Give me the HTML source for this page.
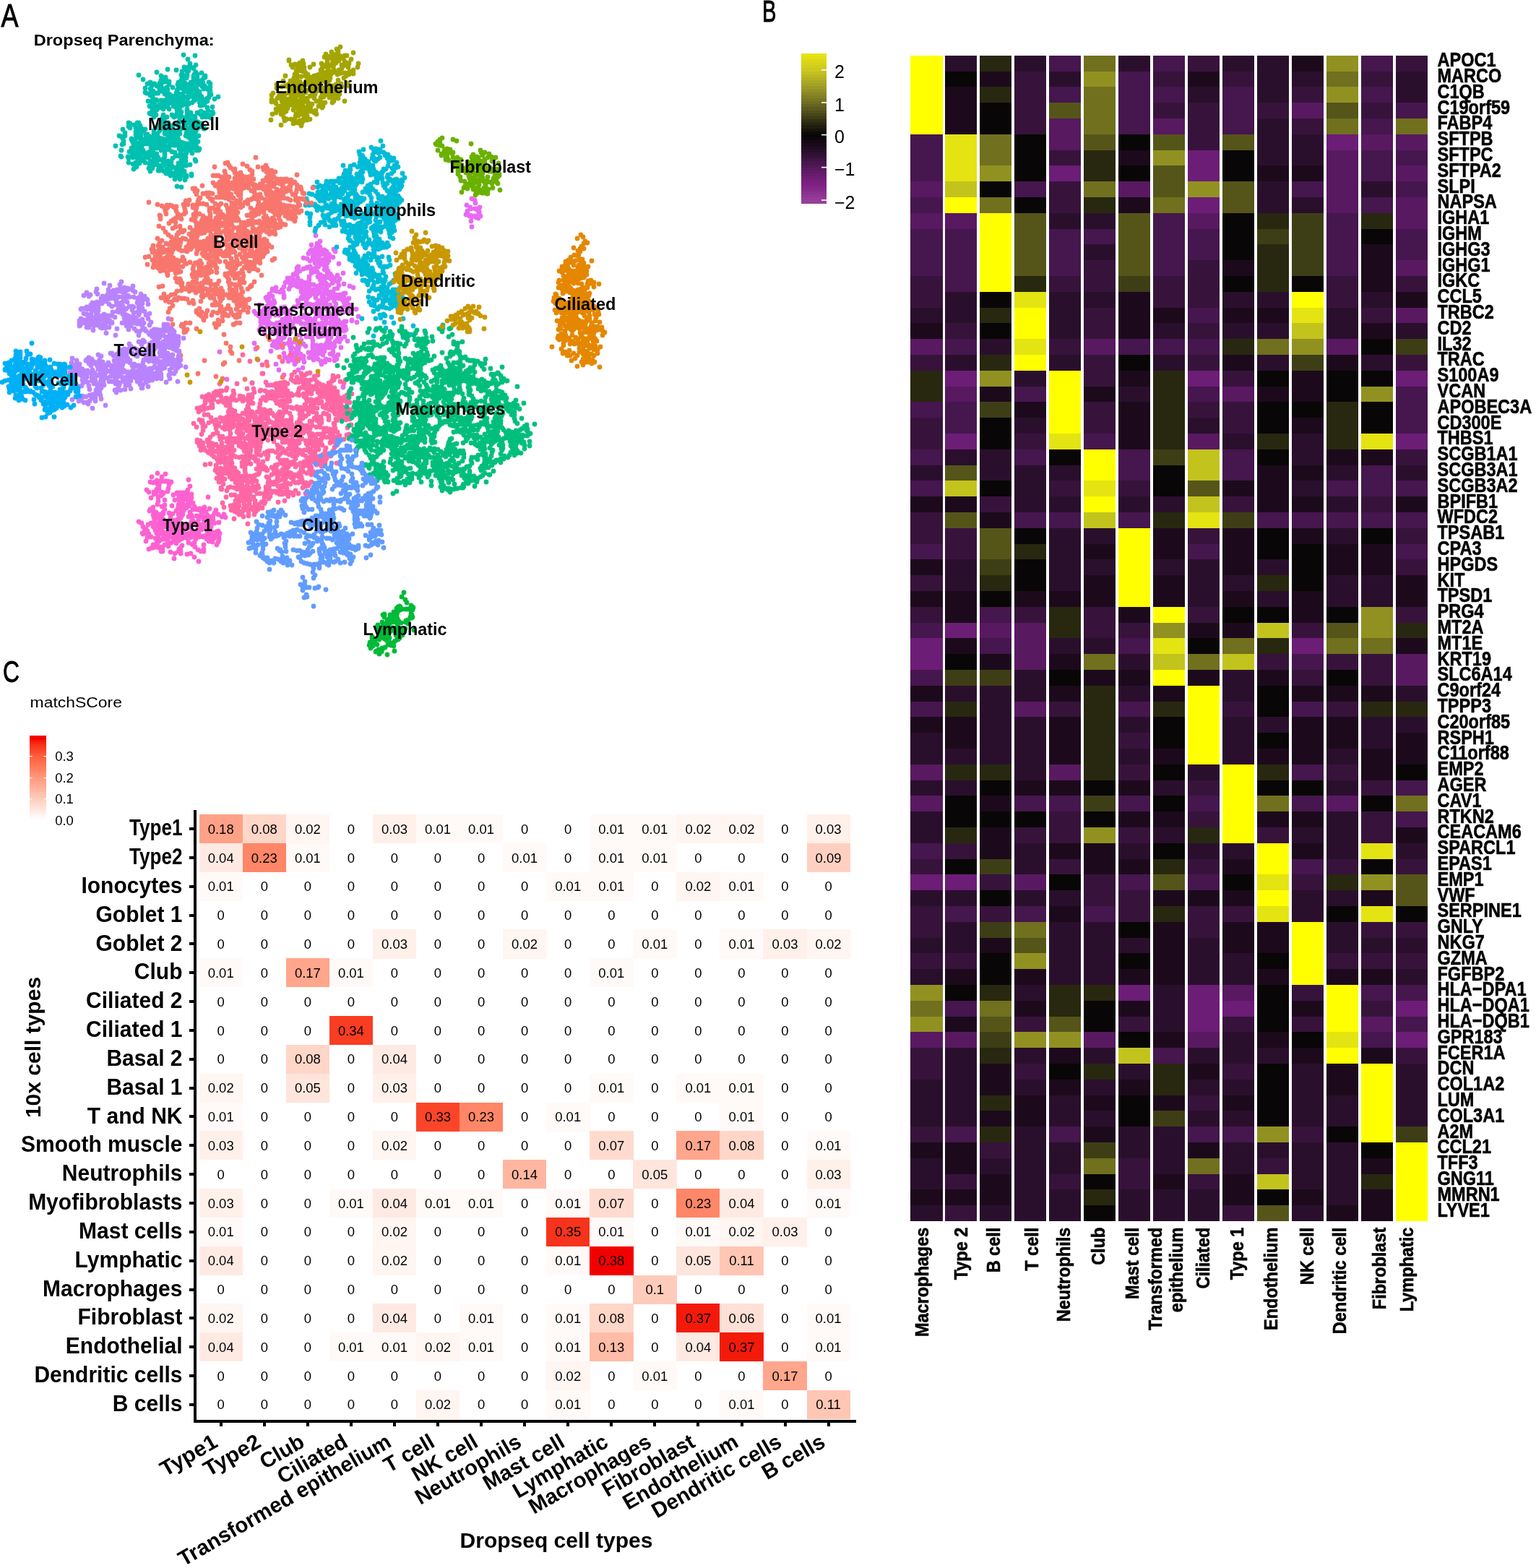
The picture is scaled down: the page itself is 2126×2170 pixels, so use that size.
<!DOCTYPE html>
<html><head><meta charset="utf-8"><title>Figure</title>
<style>html,body{margin:0;padding:0;background:#fff;}svg{display:block;}</style></head>
<body><svg width="2126" height="2170" viewBox="0 0 2126 2170">
<rect width="2126" height="2170" fill="#fff"/>
<g fill="none" stroke-linecap="round" stroke-width="6.8">
<path stroke="#00C0AF" d="M280 113h0M282 108h0M284 105h0M265 162h0M268 166h0M277 112h0M281 115h0M283 119h0M268 116h0M268 112h0M271 107h0M272 104h0M271 100h0M268 95h0M264 93h0M228 185h0M228 180h0M226 174h0M226 171h0M224 167h0M228 164h0M231 162h0M201 218h0M206 217h0M211 215h0M213 219h0M216 220h0M221 221h0M226 224h0M225 112h0M229 113h0M232 235h0M230 240h0M238 230h0M237 224h0M239 219h0M243 216h0M248 216h0M267 94h0M271 90h0M247 193h0M246 188h0M246 183h0M248 180h0M196 210h0M194 207h0M196 203h0M194 198h0M190 198h0M187 193h0M182 192h0M245 239h0M240 242h0M235 240h0M233 237h0M233 231h0M231 226h0M233 137h0M228 139h0M223 139h0M247 233h0M246 237h0M247 241h0M245 245h0M231 185h0M236 183h0M241 183h0M244 182h0M200 193h0M204 191h0M208 192h0M171 195h0M169 200h0M194 178h0M190 175h0M190 170h0M255 239h0M258 243h0M195 184h0M195 188h0M215 140h0M210 140h0M189 203h0M191 208h0M197 210h0M203 198h0M197 199h0M195 202h0M278 154h0M273 156h0M233 223h0M228 226h0M226 229h0M224 232h0M220 233h0M249 140h0M247 137h0M247 133h0M261 98h0M261 93h0M263 88h0M232 135h0M231 131h0M231 127h0M226 127h0M221 124h0M277 158h0M280 162h0M285 162h0M218 196h0M221 191h0M225 192h0M229 193h0M233 192h0M237 193h0M210 223h0M208 229h0M206 233h0M217 213h0M219 218h0M222 221h0M227 220h0M228 217h0M228 213h0M229 208h0M290 126h0M244 215h0M242 211h0M238 210h0M234 207h0M232 203h0M237 201h0M248 196h0M249 201h0M248 206h0M250 211h0M253 214h0M254 220h0M257 223h0M253 120h0M250 122h0M245 125h0M244 129h0M220 199h0M225 200h0M228 198h0M234 196h0M239 197h0M243 198h0M243 201h0M253 169h0M247 171h0M244 171h0M239 174h0M278 175h0M273 178h0M269 177h0M263 178h0M251 222h0M256 225h0M257 229h0M274 130h0M271 135h0M269 138h0M266 142h0M260 142h0M256 140h0M253 136h0M240 136h0M236 138h0M234 143h0M232 147h0M188 187h0M188 183h0M188 178h0M188 174h0M192 172h0M194 174h0M238 133h0M236 137h0M192 208h0M195 212h0M194 217h0M249 205h0M249 201h0M246 198h0M244 195h0M241 192h0M237 190h0M233 189h0M240 147h0M244 145h0M247 146h0M252 146h0M256 144h0M261 144h0M216 203h0M221 202h0M226 203h0M230 203h0M221 198h0M217 201h0M214 204h0M209 207h0M206 211h0M203 212h0M228 201h0M225 198h0M220 196h0M215 194h0M211 192h0M207 189h0M204 186h0M210 204h0M210 210h0M208 213h0M262 131h0M261 126h0M261 120h0M216 224h0M218 221h0M289 135h0M292 131h0M290 127h0M288 124h0M285 121h0M223 121h0M227 123h0M231 121h0M234 117h0M234 130h0M232 133h0M235 138h0M239 141h0M277 114h0M274 117h0M270 117h0M267 117h0M261 117h0M256 120h0M252 120h0M243 161h0M247 160h0M249 157h0M254 121h0M258 120h0M214 205h0M215 200h0M213 194h0M212 190h0M213 185h0M213 181h0M215 177h0M234 235h0M236 238h0M240 240h0M264 130h0M262 133h0M257 135h0M263 228h0M258 229h0M270 162h0M271 168h0M269 173h0M271 176h0M271 182h0M269 186h0M268 190h0M187 216h0M184 211h0M179 210h0M270 182h0M269 186h0M271 191h0M274 196h0M271 200h0M267 204h0M263 204h0M247 226h0M246 231h0M241 232h0M235 233h0M231 234h0M233 170h0M234 176h0M237 181h0M239 184h0M243 187h0M259 145h0M254 145h0M249 149h0M245 152h0M245 157h0M198 208h0M196 212h0M195 216h0M191 218h0M215 129h0M210 127h0M192 217h0M189 214h0M190 210h0M186 206h0M186 201h0M184 197h0M182 193h0M213 162h0M209 158h0M287 159h0M290 162h0M241 242h0M235 241h0M231 240h0M227 237h0M223 233h0M220 229h0M217 227h0M212 138h0M211 134h0M209 129h0M209 124h0M210 119h0M214 116h0M217 119h0M287 149h0M288 153h0M287 158h0M225 111h0M229 107h0M233 177h0M230 183h0M233 186h0M236 189h0M240 190h0M243 188h0M249 185h0M261 190h0M261 186h0M263 181h0M263 177h0M266 174h0M267 169h0M241 138h0M240 134h0M236 132h0M231 132h0M228 130h0M222 178h0M219 173h0M221 181h0M218 185h0M218 188h0M220 192h0M222 195h0M224 201h0M228 204h0M178 175h0M223 118h0M225 114h0M223 111h0M224 107h0M234 180h0M234 175h0M231 171h0M269 186h0M272 189h0M275 188h0M253 218h0M251 222h0M252 228h0M252 233h0M253 238h0M252 243h0M258 108h0M255 105h0M252 104h0M247 174h0M252 177h0M257 176h0M258 171h0M260 168h0M259 162h0M211 151h0M208 147h0M219 129h0M221 126h0M221 120h0M221 115h0M224 114h0M196 197h0M193 201h0M190 204h0M185 207h0M183 212h0M185 216h0M273 103h0M279 101h0M184 218h0M190 219h0M194 220h0M197 222h0M201 225h0M207 227h0M211 231h0M244 235h0M244 240h0M246 245h0M249 248h0M251 114h0M253 110h0M256 107h0M259 105h0M259 100h0M258 97h0M255 93h0M208 223h0M210 226h0M214 228h0M219 229h0M224 229h0M247 140h0M249 135h0M254 135h0M259 134h0M261 130h0M263 128h0M268 125h0M264 114h0M262 117h0M263 122h0M267 125h0M270 164h0M268 161h0M263 159h0M259 158h0M259 154h0M259 151h0M260 170h0M255 173h0M255 177h0M250 179h0M184 206h0M189 204h0M282 156h0M287 159h0M290 160h0M269 109h0M268 105h0M278 143h0M282 138h0M287 136h0M290 131h0M201 212h0M198 209h0M193 210h0M189 207h0M193 226h0M188 225h0M184 227h0M243 193h0M246 197h0M249 201h0M252 205h0M255 207h0M258 212h0M257 218h0M253 113h0M256 115h0M260 118h0M260 124h0M262 129h0M208 132h0M203 129h0M270 107h0M270 113h0M269 117h0M269 122h0M271 127h0M275 130h0M279 134h0M251 161h0M256 163h0M261 166h0M265 166h0M270 166h0M274 169h0M245 143h0M243 147h0M194 180h0M191 185h0M193 191h0M195 194h0M195 200h0M191 200h0M185 201h0M269 139h0M274 137h0M278 136h0M283 139h0M287 140h0M275 127h0M271 128h0M267 130h0M212 208h0M213 212h0M247 234h0M241 232h0M238 232h0M234 230h0M231 227h0M226 227h0M268 136h0M270 131h0M271 127h0M209 204h0M210 200h0M209 195h0M276 127h0M272 123h0M268 108h0M272 110h0M276 112h0M277 116h0M280 120h0M282 123h0M264 183h0M268 186h0M241 201h0M238 197h0M236 194h0M233 191h0M231 186h0M249 163h0M248 168h0M251 198h0M254 203h0M259 205h0M264 208h0M266 212h0M269 103h0M273 106h0M275 112h0M278 117h0M259 139h0M256 135h0M253 133h0M248 130h0M245 127h0M173 184h0M173 188h0M170 192h0M196 178h0M199 182h0M202 187h0M203 191h0M198 194h0M239 160h0M245 159h0M249 163h0M217 205h0M214 201h0M214 196h0M201 195h0M207 196h0M212 194h0M213 190h0M251 111h0M182 217h0M177 217h0M217 152h0M213 154h0M209 156h0M205 140h0M186 212h0M183 209h0M182 205h0M251 230h0M252 234h0M255 237h0M255 242h0M258 245h0M216 129h0M212 126h0M216 159h0M212 157h0M236 238h0M236 243h0M226 151h0M228 148h0M231 143h0M234 140h0M236 135h0M233 130h0M232 124h0M263 208h0M259 206h0M256 203h0M254 198h0M251 197h0M246 194h0M243 190h0M241 162h0M238 159h0M264 156h0M266 161h0M266 166h0M264 171h0M186 207h0M191 204h0M195 200h0M200 199h0M204 199h0M180 177h0M180 171h0M186 173h0M190 177h0M193 179h0M198 180h0M201 179h0M203 215h0M205 218h0M208 123h0M210 127h0M209 130h0M272 124h0M275 128h0M277 132h0M277 136h0M276 141h0M277 146h0M246 131h0M243 133h0M242 139h0M241 144h0M244 149h0M248 152h0M251 155h0M223 208h0M228 209h0M231 205h0M234 203h0M235 198h0M240 196h0M279 146h0M283 145h0M285 141h0M216 138h0M212 140h0M211 143h0M210 148h0M211 153h0M214 155h0M257 188h0M258 184h0M259 180h0M259 103h0M255 108h0M252 106h0M266 198h0M264 193h0M266 188h0M270 185h0M272 208h0M272 203h0M270 199h0M268 196h0M267 192h0M253 134h0M253 130h0M255 126h0M254 122h0M249 120h0M216 188h0M218 194h0M221 197h0M223 202h0M234 151h0M230 147h0M225 144h0M221 145h0M215 147h0M211 145h0M263 179h0M265 184h0M265 188h0M265 192h0M265 197h0M268 202h0M269 205h0M236 184h0M233 182h0M228 178h0M226 173h0M226 168h0M225 163h0M226 159h0M262 181h0M259 185h0M280 111h0M284 107h0M185 200h0M183 195h0M249 119h0M252 122h0M255 125h0M259 127h0M255 127h0M274 132h0M270 130h0M264 132h0M261 135h0M258 138h0M266 183h0M270 184h0M249 239h0M246 235h0M263 170h0M268 171h0M263 183h0M269 181h0M272 179h0M276 176h0M279 171h0M259 199h0M263 199h0M267 199h0M225 140h0M226 146h0M221 149h0M217 150h0M217 139h0M214 143h0M210 146h0M207 147h0M274 175h0M272 171h0M218 119h0M213 116h0M208 114h0M204 116h0M237 140h0M240 143h0M245 142h0M249 143h0M253 142h0M259 97h0M232 240h0M170 179h0M171 199h0M192 170h0M282 178h0M265 243h0M275 208h0M291 121h0M295 157h0M178 225h0M189 231h0M178 219h0M291 116h0M223 105h0M294 148h0M270 221h0M178 170h0M165 188h0M201 122h0M251 104h0M289 114h0M221 236h0M230 111h0M260 82h0M211 233h0M229 107h0M297 137h0M239 121h0M276 206h0M185 234h0M247 114h0M219 236h0M294 155h0M252 99h0M292 163h0M265 241h0M233 239h0M168 189h0M208 237h0M198 110h0M201 128h0M291 126h0M207 157h0M247 120h0M192 104h0M160 202h0M246 117h0M256 249h0M168 217h0M270 77h0M232 96h0M254 76h0M234 113h0M167 216h0M168 208h0M283 178h0M244 97h0M251 259h0M242 248h0M245 258h0M217 100h0M271 223h0M302 134h0M180 171h0M258 244h0"/>
<path stroke="#A3A500" d="M439 104h0M444 105h0M449 106h0M413 160h0M416 158h0M420 157h0M424 153h0M415 93h0M417 98h0M459 81h0M461 84h0M462 90h0M462 96h0M460 99h0M452 100h0M454 94h0M457 91h0M460 88h0M465 87h0M469 84h0M470 79h0M392 146h0M392 150h0M467 103h0M462 100h0M464 129h0M460 133h0M456 135h0M453 90h0M454 95h0M454 100h0M455 105h0M453 108h0M452 113h0M453 118h0M388 147h0M386 152h0M382 156h0M377 158h0M465 80h0M461 76h0M459 72h0M414 146h0M414 142h0M412 140h0M409 136h0M408 132h0M411 147h0M410 142h0M408 138h0M406 134h0M444 135h0M446 131h0M450 129h0M453 127h0M457 122h0M462 120h0M409 118h0M409 123h0M409 126h0M408 130h0M407 135h0M403 132h0M407 130h0M412 128h0M416 128h0M395 140h0M395 145h0M412 93h0M416 97h0M420 99h0M423 103h0M425 106h0M413 170h0M409 168h0M408 165h0M403 165h0M421 118h0M426 115h0M425 160h0M424 164h0M419 166h0M380 140h0M384 136h0M386 133h0M388 130h0M392 131h0M397 129h0M468 111h0M472 116h0M473 120h0M469 123h0M466 123h0M435 156h0M438 158h0M454 120h0M450 123h0M444 122h0M439 119h0M438 114h0M436 110h0M450 128h0M452 124h0M455 124h0M467 128h0M463 129h0M459 125h0M455 122h0M452 119h0M451 114h0M414 92h0M419 93h0M390 140h0M391 137h0M393 134h0M394 130h0M423 117h0M427 115h0M433 115h0M436 112h0M435 108h0M462 133h0M462 137h0M409 90h0M405 93h0M434 130h0M429 133h0M425 136h0M426 141h0M430 115h0M433 118h0M436 122h0M444 113h0M449 112h0M453 114h0M455 118h0M459 119h0M463 124h0M461 127h0M446 128h0M446 133h0M433 113h0M431 111h0M427 108h0M423 105h0M417 106h0M483 87h0M479 89h0M475 91h0M473 95h0M469 97h0M402 112h0M406 115h0M411 112h0M411 108h0M411 103h0M410 98h0M438 140h0M435 136h0M432 130h0M433 127h0M434 123h0M438 119h0M436 114h0M484 99h0M483 103h0M479 105h0M476 108h0M457 124h0M455 127h0M457 131h0M456 135h0M462 136h0M437 153h0M434 154h0M430 154h0M425 154h0M421 154h0M442 110h0M438 110h0M435 105h0M482 93h0M478 90h0M477 85h0M475 81h0M470 77h0M465 75h0M425 166h0M429 165h0M460 119h0M465 117h0M468 120h0M470 124h0M469 129h0M465 132h0M461 134h0M397 143h0M402 144h0M407 146h0M412 148h0M389 158h0M393 156h0M396 154h0M398 150h0M397 144h0M413 118h0M416 122h0M459 101h0M465 100h0M469 102h0M473 101h0M478 101h0M407 119h0M408 123h0M407 127h0M409 131h0M413 132h0M442 103h0M444 97h0M446 94h0M450 92h0M455 92h0M441 140h0M445 142h0M447 147h0M447 100h0M449 103h0M454 105h0M457 108h0M456 111h0M454 115h0M417 124h0M412 123h0M411 119h0M408 114h0M403 112h0M399 117h0M400 122h0M441 147h0M447 147h0M407 147h0M404 143h0M401 137h0M461 138h0M458 134h0M453 131h0M448 134h0M444 136h0M382 143h0M385 147h0M387 150h0M391 154h0M396 153h0M408 89h0M403 90h0M447 122h0M443 119h0M441 114h0M436 111h0M413 89h0M416 93h0M421 97h0M423 101h0M426 103h0M431 107h0M435 110h0M457 78h0M462 77h0M465 75h0M468 71h0M411 116h0M415 113h0M417 116h0M418 120h0M416 125h0M414 128h0M467 126h0M470 130h0M415 142h0M412 144h0M407 145h0M401 144h0M397 142h0M393 140h0M415 123h0M417 127h0M419 131h0M421 136h0M425 139h0M421 141h0M419 144h0M464 129h0M462 134h0M462 140h0M427 115h0M422 117h0M441 117h0M444 120h0M442 124h0M439 126h0M436 131h0M423 162h0M420 167h0M418 170h0M408 170h0M395 119h0M390 120h0M384 120h0M484 100h0M489 97h0M455 104h0M458 103h0M459 99h0M421 162h0M419 166h0M415 167h0M412 169h0M406 171h0M416 155h0M421 152h0M427 150h0M430 148h0M432 144h0M398 147h0M403 145h0M409 146h0M412 150h0M413 155h0M410 157h0M409 161h0M473 90h0M479 89h0M483 88h0M390 140h0M395 140h0M400 143h0M404 141h0M408 141h0M413 140h0M417 136h0M447 91h0M451 90h0M453 86h0M453 83h0M423 128h0M426 125h0M429 122h0M428 117h0M424 112h0M401 126h0M404 121h0M406 117h0M407 112h0M407 108h0M408 103h0M411 101h0M390 139h0M393 137h0M397 137h0M401 138h0M439 110h0M444 107h0M449 104h0M455 104h0M406 152h0M412 150h0M417 149h0M421 149h0M426 147h0M430 144h0M382 151h0M385 150h0M389 147h0M393 148h0M397 146h0M401 145h0M450 142h0M392 112h0M394 167h0M489 102h0M421 93h0M383 122h0M376 132h0M376 141h0M393 163h0M466 68h0M476 78h0M480 77h0M454 78h0M415 87h0M468 136h0M420 88h0M460 142h0M420 92h0M483 119h0M377 139h0M400 84h0M486 82h0M417 174h0M446 149h0M445 88h0M395 105h0M449 79h0M481 115h0M477 77h0M400 83h0M378 129h0M477 140h0M434 89h0M451 75h0M495 93h0M496 88h0M471 65h0M375 166h0M397 165h0M389 173h0M383 117h0M419 84h0M469 131h0M489 73h0M429 93h0M376 138h0"/>
<path stroke="#6BB100" d="M643 251h0M638 250h0M637 245h0M681 223h0M680 217h0M662 261h0M666 263h0M667 267h0M654 222h0M653 218h0M659 242h0M655 246h0M647 230h0M651 231h0M655 229h0M658 226h0M660 221h0M659 218h0M661 220h0M663 224h0M667 226h0M671 231h0M674 233h0M678 232h0M663 256h0M658 260h0M666 250h0M663 252h0M657 253h0M654 254h0M650 255h0M646 259h0M642 260h0M668 215h0M671 211h0M681 234h0M684 238h0M668 240h0M668 246h0M657 250h0M652 251h0M647 255h0M645 258h0M671 225h0M668 228h0M664 231h0M659 232h0M654 234h0M650 234h0M687 251h0M683 247h0M685 243h0M690 241h0M656 239h0M652 238h0M647 236h0M642 236h0M666 211h0M681 254h0M682 251h0M686 248h0M689 245h0M691 241h0M676 262h0M673 265h0M674 268h0M648 257h0M651 252h0M651 247h0M649 244h0M645 239h0M646 234h0M664 243h0M663 238h0M664 232h0M665 228h0M663 222h0M662 218h0M661 267h0M665 264h0M644 257h0M647 261h0M682 260h0M670 260h0M666 265h0M662 263h0M659 267h0M651 254h0M654 258h0M655 262h0M659 264h0M665 263h0M669 263h0M668 263h0M669 267h0M675 268h0M655 214h0M653 217h0M672 257h0M671 253h0M674 250h0M675 245h0M669 231h0M669 226h0M665 224h0M661 224h0M656 225h0M652 225h0M647 224h0M667 235h0M667 230h0M670 225h0M671 221h0M675 218h0M677 213h0M668 228h0M663 229h0M679 252h0M675 252h0M671 252h0M668 250h0M662 249h0M650 242h0M650 247h0M655 250h0M667 265h0M661 264h0M656 260h0M653 257h0M647 257h0M655 224h0M660 227h0M663 228h0M666 223h0M688 253h0M670 231h0M674 235h0M677 237h0M680 237h0M684 235h0M688 234h0M642 233h0M639 236h0M667 212h0M665 208h0M665 238h0M660 241h0M657 245h0M655 249h0M659 222h0M660 217h0M634 238h0M686 218h0M691 242h0M689 254h0M691 243h0M690 226h0M658 270h0M639 266h0M634 241h0M692 263h0M652 199h0M615 209h0M618 212h0M619 217h0M621 222h0M633 218h0M631 223h0M631 228h0M628 231h0M629 220h0M634 220h0M638 221h0M618 210h0M616 207h0M612 202h0M609 201h0M604 200h0M627 225h0M632 224h0M636 227h0M638 230h0M629 228h0M628 224h0M627 218h0M626 213h0M619 206h0M623 208h0M627 211h0M632 229h0M634 226h0M637 221h0M623 207h0M621 211h0M618 213h0M612 214h0M608 201h0M609 198h0M609 193h0M612 191h0M603 199h0M634 235h0M606 196h0M617 221h0M611 213h0M617 219h0M632 195h0M611 215h0M627 193h0M606 208h0"/>
<path stroke="#E76BF3" d="M659 301h0M654 299h0M650 299h0M645 297h0M647 292h0M652 289h0M658 289h0M663 293h0M665 299h0M662 298h0M658 299h0M653 300h0M650 298h0M651 287h0M646 284h0M662 300h0M663 296h0M662 292h0M659 289h0M662 302h0M646 297h0M664 287h0M652 306h0M657 277h0M653 314h0M658 281h0M653 275h0M455 432h0M452 427h0M450 424h0M446 421h0M440 422h0M436 426h0M433 430h0M403 497h0M400 494h0M396 495h0M389 456h0M386 458h0M386 462h0M386 467h0M384 471h0M404 481h0M403 475h0M458 411h0M455 413h0M451 415h0M449 419h0M445 419h0M440 416h0M437 412h0M403 494h0M405 498h0M408 500h0M432 451h0M429 447h0M427 443h0M424 441h0M422 436h0M457 379h0M459 382h0M439 353h0M437 350h0M433 348h0M429 348h0M427 351h0M394 457h0M398 456h0M402 454h0M405 452h0M406 446h0M412 445h0M416 446h0M472 469h0M468 467h0M482 422h0M484 427h0M485 431h0M429 458h0M429 463h0M432 467h0M433 472h0M433 477h0M433 481h0M370 435h0M364 436h0M361 440h0M361 444h0M364 447h0M424 371h0M428 370h0M433 372h0M437 371h0M441 369h0M443 366h0M440 348h0M446 348h0M451 350h0M455 352h0M457 355h0M390 431h0M385 430h0M380 427h0M376 424h0M373 420h0M372 416h0M372 412h0M391 429h0M390 433h0M386 436h0M407 425h0M412 424h0M417 423h0M420 426h0M417 448h0M422 448h0M427 445h0M432 443h0M436 442h0M438 438h0M442 434h0M455 425h0M457 422h0M393 457h0M394 462h0M393 467h0M379 473h0M384 471h0M388 473h0M393 476h0M438 494h0M433 495h0M470 473h0M469 469h0M459 441h0M455 439h0M451 439h0M446 440h0M442 436h0M438 433h0M480 418h0M483 413h0M416 464h0M411 464h0M370 452h0M365 455h0M361 455h0M481 425h0M477 423h0M476 418h0M474 415h0M469 413h0M465 411h0M458 481h0M454 481h0M449 479h0M445 480h0M442 485h0M442 489h0M467 444h0M462 447h0M459 450h0M455 447h0M450 451h0M448 455h0M447 461h0M389 426h0M393 427h0M453 473h0M458 476h0M418 456h0M423 455h0M426 455h0M428 449h0M453 376h0M453 380h0M451 383h0M446 382h0M441 382h0M428 387h0M428 383h0M431 378h0M436 376h0M439 376h0M443 380h0M445 384h0M372 427h0M367 429h0M362 431h0M419 439h0M414 440h0M408 441h0M431 491h0M435 494h0M434 498h0M411 472h0M412 475h0M414 479h0M413 484h0M420 493h0M417 495h0M413 498h0M410 501h0M443 334h0M439 337h0M438 342h0M436 345h0M431 346h0M376 419h0M372 422h0M369 424h0M366 427h0M458 467h0M461 462h0M461 457h0M462 453h0M467 450h0M473 448h0M477 445h0M463 412h0M463 417h0M465 421h0M463 426h0M463 430h0M468 432h0M471 431h0M465 442h0M464 437h0M464 433h0M464 429h0M367 428h0M373 430h0M373 434h0M369 437h0M364 437h0M401 443h0M401 438h0M400 433h0M391 477h0M386 476h0M383 477h0M380 479h0M449 414h0M453 415h0M437 432h0M439 435h0M436 441h0M433 444h0M431 449h0M432 453h0M360 437h0M361 441h0M361 446h0M361 452h0M359 457h0M417 495h0M420 497h0M452 400h0M454 404h0M457 410h0M460 412h0M464 411h0M468 409h0M461 445h0M463 449h0M465 452h0M468 456h0M473 457h0M478 457h0M383 450h0M385 455h0M386 458h0M420 413h0M420 409h0M421 405h0M419 400h0M419 396h0M443 350h0M448 348h0M452 348h0M436 449h0M440 448h0M444 449h0M445 453h0M450 456h0M432 458h0M429 453h0M428 449h0M430 445h0M429 441h0M426 436h0M462 493h0M466 497h0M448 359h0M442 359h0M377 410h0M373 407h0M386 469h0M391 468h0M394 465h0M399 462h0M402 460h0M446 478h0M445 482h0M440 482h0M436 486h0M429 361h0M425 358h0M361 441h0M364 438h0M368 438h0M373 438h0M393 412h0M393 409h0M392 404h0M388 404h0M449 388h0M452 384h0M451 392h0M452 397h0M449 401h0M416 490h0M410 491h0M407 493h0M404 498h0M399 500h0M444 500h0M445 504h0M468 390h0M463 389h0M460 392h0M455 395h0M452 396h0M442 432h0M437 430h0M435 425h0M438 421h0M377 459h0M380 461h0M384 461h0M388 459h0M390 456h0M391 452h0M392 446h0M417 404h0M420 409h0M371 417h0M375 420h0M371 441h0M372 446h0M375 448h0M380 449h0M384 447h0M388 446h0M408 473h0M412 474h0M416 476h0M420 476h0M423 479h0M471 457h0M466 455h0M463 450h0M460 447h0M459 442h0M461 437h0M456 434h0M402 393h0M407 393h0M410 395h0M469 395h0M467 399h0M463 400h0M459 404h0M455 408h0M450 406h0M453 351h0M448 350h0M446 346h0M443 342h0M441 338h0M403 486h0M406 489h0M417 389h0M421 391h0M424 396h0M423 401h0M453 377h0M455 383h0M458 386h0M463 385h0M478 415h0M481 415h0M391 481h0M386 480h0M381 479h0M358 437h0M364 437h0M368 440h0M370 445h0M373 449h0M436 364h0M433 359h0M433 355h0M433 349h0M382 403h0M387 404h0M390 401h0M393 397h0M408 491h0M411 487h0M413 482h0M447 366h0M443 364h0M439 360h0M438 355h0M462 428h0M468 428h0M473 426h0M479 425h0M483 422h0M377 410h0M379 416h0M380 419h0M378 423h0M426 391h0M429 393h0M434 394h0M440 396h0M444 393h0M413 419h0M412 416h0M401 434h0M400 438h0M396 440h0M391 442h0M432 403h0M437 402h0M442 403h0M445 406h0M448 409h0M451 414h0M451 420h0M449 384h0M448 390h0M446 394h0M424 417h0M426 412h0M429 409h0M430 404h0M434 401h0M439 397h0M445 398h0M417 400h0M419 405h0M422 408h0M421 412h0M417 413h0M437 354h0M442 353h0M445 352h0M451 354h0M453 357h0M452 361h0M413 397h0M410 393h0M406 390h0M405 385h0M406 380h0M476 406h0M471 408h0M465 408h0M461 405h0M429 369h0M425 370h0M420 372h0M415 375h0M411 379h0M407 380h0M398 433h0M402 430h0M475 432h0M471 431h0M467 428h0M419 393h0M414 392h0M410 392h0M404 392h0M402 395h0M437 462h0M441 465h0M445 465h0M449 462h0M454 458h0M458 455h0M461 455h0M467 470h0M469 466h0M469 461h0M470 457h0M476 458h0M479 456h0M451 497h0M456 498h0M419 409h0M417 412h0M393 452h0M399 451h0M402 452h0M407 454h0M464 473h0M463 479h0M461 482h0M461 487h0M457 490h0M401 470h0M399 475h0M401 478h0M402 482h0M391 442h0M390 448h0M391 452h0M439 407h0M436 408h0M432 406h0M430 403h0M425 405h0M423 409h0M423 413h0M437 494h0M440 497h0M445 500h0M450 501h0M447 350h0M449 346h0M429 466h0M424 466h0M455 384h0M457 380h0M454 375h0M452 370h0M453 364h0M455 361h0M394 425h0M393 429h0M396 433h0M452 479h0M449 482h0M447 488h0M476 410h0M471 410h0M424 421h0M429 421h0M434 422h0M438 422h0M442 420h0M446 418h0M448 415h0M450 464h0M452 461h0M456 458h0M460 457h0M464 454h0M467 450h0M469 445h0M440 383h0M443 387h0M446 411h0M445 416h0M446 447h0M451 445h0M451 441h0M454 437h0M454 431h0M453 427h0M455 423h0M366 462h0M449 373h0M449 367h0M446 362h0M442 362h0M437 364h0M374 434h0M372 429h0M371 424h0M374 419h0M370 415h0M369 412h0M447 480h0M444 478h0M438 478h0M390 453h0M385 453h0M381 449h0M367 447h0M366 442h0M363 439h0M358 437h0M354 434h0M479 445h0M474 447h0M470 447h0M468 443h0M465 439h0M462 437h0M442 428h0M443 433h0M440 437h0M441 485h0M438 490h0M433 493h0M428 495h0M417 471h0M414 476h0M412 479h0M410 483h0M410 487h0M410 491h0M411 496h0M411 396h0M407 394h0M404 392h0M399 390h0M441 466h0M443 462h0M438 460h0M437 455h0M426 404h0M428 398h0M430 394h0M377 434h0M381 436h0M385 435h0M390 433h0M391 429h0M447 491h0M449 486h0M451 481h0M452 475h0M412 385h0M410 389h0M406 393h0M402 396h0M400 400h0M383 447h0M387 447h0M392 443h0M395 443h0M398 448h0M455 464h0M454 469h0M456 473h0M459 477h0M474 452h0M478 452h0M440 487h0M436 487h0M432 487h0M427 488h0M431 374h0M468 491h0M487 443h0M413 369h0M395 391h0M470 386h0M463 499h0M487 428h0M478 406h0M377 402h0M370 411h0M359 422h0M408 504h0M472 481h0M421 501h0M383 481h0M464 348h0M410 377h0M476 393h0M377 478h0M461 356h0M431 339h0M477 466h0M377 400h0M393 489h0M411 371h0M394 494h0M368 412h0M401 386h0M382 398h0M402 385h0M469 365h0M437 326h0M493 428h0M481 472h0M475 378h0M352 431h0M484 396h0M487 444h0M494 446h0M496 438h0M398 385h0M489 398h0M467 381h0M420 357h0M462 345h0M409 492h0M475 535h0M413 526h0M357 498h0M427 528h0M391 500h0M304 487h0M352 475h0M374 533h0M354 483h0M413 499h0M428 534h0M382 504h0M419 509h0M415 526h0M314 525h0M386 512h0M413 512h0M458 540h0M475 536h0M393 519h0M375 486h0"/>
<path stroke="#00BCD8" d="M518 348h0M515 352h0M477 248h0M482 247h0M487 247h0M492 247h0M496 247h0M502 248h0M551 271h0M547 270h0M543 269h0M501 234h0M502 238h0M494 241h0M496 246h0M498 251h0M494 317h0M492 320h0M511 332h0M509 336h0M513 337h0M516 340h0M519 345h0M503 374h0M507 379h0M511 381h0M553 274h0M553 280h0M520 293h0M524 296h0M527 298h0M530 300h0M532 303h0M534 308h0M489 292h0M485 292h0M479 291h0M474 291h0M469 290h0M464 290h0M458 289h0M520 297h0M524 293h0M527 289h0M527 285h0M434 259h0M440 259h0M443 257h0M448 258h0M450 261h0M451 267h0M506 314h0M503 315h0M498 318h0M495 321h0M493 324h0M492 329h0M495 335h0M463 277h0M461 273h0M458 270h0M452 262h0M451 256h0M452 251h0M491 252h0M487 251h0M483 249h0M480 246h0M478 242h0M551 272h0M550 277h0M548 281h0M546 285h0M544 289h0M540 293h0M539 297h0M545 268h0M549 264h0M553 262h0M555 259h0M526 307h0M522 309h0M484 333h0M482 330h0M483 326h0M482 322h0M536 404h0M533 403h0M529 401h0M528 397h0M522 250h0M518 252h0M513 255h0M509 257h0M506 261h0M502 266h0M517 317h0M521 320h0M525 412h0M522 415h0M518 419h0M514 422h0M543 277h0M541 280h0M496 330h0M501 333h0M503 330h0M459 306h0M463 304h0M473 311h0M478 311h0M484 311h0M510 295h0M507 298h0M504 296h0M500 297h0M496 300h0M491 302h0M487 300h0M473 265h0M476 260h0M475 255h0M470 251h0M464 251h0M430 296h0M429 301h0M429 307h0M429 311h0M499 318h0M496 313h0M497 309h0M501 307h0M504 303h0M507 299h0M510 261h0M512 264h0M548 405h0M546 408h0M547 413h0M548 417h0M552 419h0M555 422h0M526 218h0M523 220h0M520 223h0M446 291h0M449 288h0M452 284h0M449 279h0M448 275h0M448 271h0M444 269h0M495 231h0M498 227h0M501 224h0M505 222h0M529 355h0M524 357h0M508 266h0M509 261h0M514 260h0M486 282h0M490 279h0M492 274h0M491 269h0M491 263h0M492 257h0M494 254h0M440 274h0M446 275h0M450 274h0M454 271h0M458 268h0M490 228h0M512 307h0M508 309h0M503 311h0M499 314h0M494 314h0M524 212h0M521 209h0M517 207h0M514 204h0M505 298h0M508 293h0M542 240h0M545 237h0M548 232h0M540 420h0M545 419h0M549 417h0M552 420h0M555 423h0M538 288h0M541 285h0M540 281h0M539 277h0M537 273h0M452 261h0M448 263h0M445 266h0M442 268h0M441 274h0M443 278h0M539 427h0M542 422h0M544 418h0M549 416h0M532 285h0M537 284h0M536 278h0M535 274h0M526 363h0M522 360h0M521 356h0M518 351h0M517 346h0M528 404h0M527 400h0M523 400h0M520 401h0M517 399h0M542 425h0M544 420h0M542 415h0M542 410h0M542 406h0M544 401h0M536 336h0M538 340h0M518 391h0M517 395h0M535 309h0M539 314h0M538 318h0M539 323h0M540 328h0M486 316h0M487 322h0M482 321h0M478 319h0M529 272h0M534 274h0M539 275h0M476 306h0M472 306h0M538 224h0M536 219h0M533 215h0M531 211h0M526 210h0M523 207h0M531 236h0M534 234h0M537 230h0M484 258h0M479 260h0M477 264h0M474 268h0M470 267h0M468 263h0M465 259h0M540 266h0M539 270h0M538 275h0M539 279h0M539 283h0M542 288h0M512 373h0M515 371h0M516 374h0M518 379h0M533 388h0M528 387h0M523 385h0M519 382h0M515 379h0M512 376h0M467 272h0M471 273h0M476 276h0M517 241h0M513 242h0M530 376h0M530 372h0M534 369h0M540 367h0M513 360h0M515 356h0M544 308h0M545 314h0M542 303h0M544 307h0M544 312h0M542 315h0M540 320h0M499 318h0M493 318h0M489 320h0M484 320h0M479 321h0M476 317h0M547 420h0M546 415h0M548 412h0M548 407h0M547 401h0M517 234h0M512 233h0M508 233h0M504 232h0M510 262h0M509 265h0M512 270h0M514 274h0M514 280h0M550 283h0M553 279h0M550 277h0M545 278h0M544 274h0M539 272h0M507 302h0M509 298h0M511 293h0M510 288h0M531 409h0M528 407h0M477 288h0M478 293h0M473 296h0M470 298h0M468 302h0M464 306h0M459 307h0M522 281h0M521 287h0M522 291h0M522 295h0M521 300h0M520 305h0M495 289h0M489 289h0M484 289h0M480 290h0M477 292h0M531 234h0M529 238h0M528 244h0M461 265h0M462 262h0M546 415h0M542 416h0M538 415h0M534 416h0M530 420h0M528 424h0M523 428h0M505 326h0M502 322h0M501 319h0M539 278h0M533 279h0M530 283h0M526 284h0M516 284h0M512 285h0M528 277h0M524 274h0M523 269h0M520 265h0M516 262h0M457 287h0M460 292h0M464 290h0M535 342h0M532 342h0M528 343h0M523 344h0M518 345h0M519 340h0M519 334h0M488 257h0M486 253h0M482 252h0M481 248h0M481 242h0M483 239h0M485 235h0M510 306h0M512 301h0M515 296h0M513 291h0M512 287h0M509 285h0M481 252h0M485 250h0M484 246h0M481 243h0M476 241h0M478 243h0M475 245h0M477 251h0M476 255h0M460 261h0M461 256h0M462 251h0M506 358h0M507 354h0M479 274h0M482 271h0M463 282h0M460 287h0M457 289h0M453 288h0M543 233h0M546 229h0M551 231h0M492 325h0M491 321h0M490 318h0M490 313h0M495 310h0M442 276h0M445 275h0M447 270h0M450 266h0M451 262h0M456 261h0M525 409h0M530 405h0M531 402h0M530 398h0M531 393h0M455 275h0M459 273h0M463 270h0M515 387h0M513 384h0M509 380h0M529 315h0M523 316h0M531 254h0M533 259h0M454 256h0M451 259h0M447 262h0M445 265h0M440 266h0M499 300h0M500 296h0M489 314h0M484 313h0M480 313h0M536 254h0M538 248h0M537 242h0M509 367h0M507 364h0M506 359h0M525 381h0M521 381h0M516 381h0M513 385h0M510 389h0M507 390h0M535 309h0M533 313h0M528 314h0M523 313h0M519 312h0M516 314h0M510 224h0M511 228h0M513 233h0M517 234h0M520 238h0M523 240h0M529 239h0M482 269h0M481 274h0M551 272h0M547 268h0M545 263h0M484 235h0M482 240h0M485 296h0M489 296h0M494 298h0M498 299h0M503 301h0M484 284h0M481 283h0M446 266h0M449 265h0M454 261h0M457 260h0M459 265h0M463 266h0M521 246h0M526 247h0M506 343h0M503 338h0M502 334h0M499 329h0M497 325h0M495 321h0M495 315h0M518 327h0M519 323h0M521 320h0M533 294h0M536 298h0M539 303h0M537 306h0M536 310h0M537 315h0M538 249h0M542 250h0M546 249h0M549 248h0M516 229h0M513 234h0M512 238h0M552 252h0M556 249h0M486 355h0M488 361h0M492 363h0M491 350h0M488 353h0M488 358h0M492 361h0M511 382h0M509 376h0M507 372h0M515 399h0M511 403h0M522 360h0M524 364h0M526 368h0M531 369h0M536 369h0M473 285h0M476 285h0M482 285h0M550 425h0M556 424h0M549 424h0M551 428h0M550 425h0M547 423h0M544 422h0M552 258h0M552 252h0M555 250h0M488 359h0M484 355h0M481 351h0M545 388h0M542 391h0M539 393h0M536 398h0M537 403h0M532 407h0M534 411h0M503 371h0M501 366h0M499 362h0M496 359h0M544 311h0M540 310h0M536 307h0M514 316h0M517 320h0M495 277h0M491 279h0M489 283h0M518 314h0M519 319h0M520 324h0M534 426h0M529 425h0M526 424h0M522 426h0M518 423h0M518 417h0M516 413h0M531 378h0M534 383h0M532 389h0M529 390h0M523 390h0M505 220h0M502 216h0M498 214h0M502 373h0M505 376h0M501 380h0M488 263h0M484 261h0M479 259h0M473 260h0M469 263h0M467 269h0M535 290h0M531 288h0M526 288h0M545 319h0M542 322h0M534 298h0M537 303h0M518 222h0M515 219h0M516 214h0M518 211h0M520 206h0M501 252h0M500 248h0M501 245h0M444 308h0M441 312h0M437 316h0M504 275h0M500 274h0M495 272h0M493 269h0M489 265h0M485 268h0M475 291h0M476 296h0M479 297h0M483 298h0M488 299h0M536 245h0M540 248h0M544 252h0M527 321h0M524 317h0M519 314h0M439 291h0M437 286h0M433 283h0M428 284h0M423 284h0M498 364h0M495 361h0M493 358h0M487 357h0M484 359h0M530 416h0M533 413h0M535 409h0M538 405h0M542 404h0M547 405h0M549 409h0M448 300h0M452 300h0M455 297h0M459 294h0M449 287h0M444 288h0M440 286h0M436 283h0M431 283h0M546 252h0M551 255h0M556 257h0M508 356h0M504 361h0M502 365h0M501 370h0M500 375h0M524 345h0M521 341h0M520 336h0M546 251h0M545 257h0M542 261h0M540 267h0M539 272h0M543 271h0M539 269h0M536 264h0M501 330h0M507 327h0M507 321h0M505 342h0M508 339h0M523 288h0M527 290h0M531 293h0M535 295h0M544 259h0M547 262h0M451 299h0M454 301h0M456 305h0M464 292h0M467 289h0M469 286h0M472 283h0M476 282h0M500 246h0M500 242h0M499 238h0M501 233h0M504 230h0M507 227h0M508 223h0M442 273h0M437 271h0M432 269h0M428 268h0M459 282h0M464 284h0M464 288h0M469 291h0M473 290h0M521 244h0M525 244h0M529 247h0M530 253h0M531 257h0M533 260h0M481 289h0M484 287h0M485 282h0M485 278h0M479 278h0M476 276h0M501 215h0M499 220h0M498 225h0M520 221h0M517 218h0M507 368h0M504 363h0M503 358h0M505 354h0M510 351h0M480 256h0M483 252h0M485 249h0M486 245h0M484 239h0M484 235h0M485 230h0M479 299h0M480 294h0M483 291h0M485 333h0M489 336h0M490 340h0M485 342h0M482 346h0M478 346h0M451 285h0M456 286h0M460 285h0M485 286h0M490 284h0M495 282h0M499 279h0M502 277h0M447 298h0M449 301h0M449 306h0M450 311h0M526 342h0M524 337h0M523 332h0M520 329h0M518 325h0M519 321h0M533 339h0M529 336h0M525 331h0M521 327h0M518 324h0M517 319h0M517 314h0M492 351h0M490 347h0M489 341h0M494 338h0M494 332h0M495 355h0M489 354h0M485 352h0M482 349h0M477 349h0M543 306h0M545 301h0M546 297h0M546 294h0M546 289h0M522 253h0M436 320h0M540 218h0M439 252h0M510 411h0M553 399h0M470 253h0M545 219h0M476 318h0M456 314h0M425 278h0M526 207h0M539 360h0M556 277h0M557 251h0M502 388h0M543 222h0M544 330h0M471 252h0M458 251h0M558 420h0M469 247h0M474 320h0M511 418h0M554 391h0M478 236h0M505 388h0M470 247h0M496 372h0M424 275h0M547 379h0M555 412h0M557 412h0M537 214h0M555 407h0M548 383h0M497 210h0M503 207h0M538 356h0M477 240h0M546 319h0M533 213h0M551 303h0M548 297h0M461 312h0M557 240h0M475 229h0M547 305h0M527 195h0M509 394h0M533 437h0M493 378h0M464 251h0M466 342h0M530 202h0M556 419h0M547 304h0M560 246h0M495 367h0M549 225h0M492 368h0M425 295h0M561 414h0M517 431h0M465 312h0M542 439h0M520 441h0M534 454h0M527 440h0M572 451h0M569 463h0M558 467h0M520 457h0M526 436h0M545 447h0M532 446h0M517 465h0M501 441h0M537 469h0M558 441h0M531 435h0M543 463h0"/>
<path stroke="#F8766D" d="M367 258h0M370 262h0M371 265h0M372 271h0M374 274h0M228 288h0M232 287h0M235 284h0M241 287h0M315 330h0M312 334h0M312 338h0M315 343h0M316 332h0M314 328h0M313 324h0M298 282h0M294 278h0M291 275h0M288 272h0M285 268h0M256 347h0M258 342h0M262 340h0M268 340h0M271 341h0M275 342h0M278 337h0M368 314h0M372 310h0M377 311h0M380 314h0M386 311h0M312 310h0M315 313h0M316 317h0M318 321h0M344 307h0M339 308h0M337 313h0M309 301h0M312 303h0M317 301h0M322 302h0M326 300h0M252 392h0M250 388h0M273 335h0M277 335h0M282 334h0M287 332h0M291 334h0M296 337h0M220 360h0M222 364h0M224 369h0M225 374h0M330 319h0M330 315h0M334 312h0M337 309h0M343 311h0M405 269h0M402 264h0M397 261h0M393 260h0M324 315h0M321 312h0M317 311h0M314 309h0M233 348h0M233 353h0M232 357h0M230 362h0M230 366h0M228 370h0M370 309h0M373 306h0M377 302h0M380 306h0M381 310h0M376 311h0M373 313h0M291 363h0M297 363h0M303 407h0M302 404h0M299 399h0M298 395h0M339 246h0M343 249h0M347 254h0M350 255h0M354 257h0M359 260h0M364 261h0M259 348h0M264 345h0M266 342h0M269 339h0M269 335h0M269 331h0M255 319h0M252 320h0M247 322h0M245 325h0M244 329h0M243 334h0M362 286h0M365 290h0M365 294h0M368 299h0M370 302h0M375 305h0M379 304h0M298 422h0M294 422h0M366 351h0M253 321h0M250 318h0M249 313h0M302 258h0M298 257h0M295 253h0M277 361h0M279 365h0M279 371h0M277 375h0M273 377h0M270 378h0M268 382h0M316 266h0M318 271h0M323 274h0M327 278h0M330 281h0M231 288h0M229 292h0M230 296h0M349 301h0M353 298h0M358 296h0M361 293h0M357 291h0M317 378h0M312 381h0M245 360h0M240 357h0M236 355h0M233 352h0M337 414h0M334 410h0M329 410h0M325 408h0M326 405h0M262 403h0M261 398h0M261 393h0M372 281h0M368 278h0M232 354h0M230 358h0M233 360h0M238 363h0M243 364h0M340 357h0M345 354h0M348 351h0M353 351h0M358 352h0M334 284h0M333 287h0M327 288h0M323 285h0M319 288h0M324 305h0M322 301h0M327 300h0M326 295h0M327 289h0M326 285h0M289 343h0M292 346h0M295 348h0M299 351h0M300 356h0M349 330h0M352 333h0M354 336h0M357 341h0M361 341h0M365 343h0M369 345h0M229 367h0M228 362h0M230 358h0M250 335h0M253 330h0M250 376h0M247 372h0M245 367h0M247 363h0M250 361h0M253 359h0M271 399h0M275 400h0M280 402h0M285 400h0M288 403h0M288 407h0M351 248h0M348 245h0M344 245h0M340 245h0M335 247h0M334 251h0M227 348h0M223 348h0M325 252h0M327 255h0M331 259h0M337 259h0M340 254h0M227 358h0M232 355h0M263 398h0M258 400h0M254 400h0M251 395h0M248 391h0M249 386h0M282 354h0M286 357h0M291 356h0M360 364h0M356 362h0M353 358h0M349 354h0M346 351h0M346 347h0M251 303h0M247 301h0M246 296h0M244 292h0M244 286h0M237 372h0M234 374h0M231 377h0M267 287h0M267 284h0M336 346h0M339 350h0M343 353h0M332 343h0M336 342h0M340 343h0M346 340h0M290 339h0M295 340h0M299 342h0M301 346h0M305 347h0M308 350h0M309 354h0M324 287h0M322 291h0M319 295h0M316 300h0M313 303h0M359 338h0M354 337h0M350 336h0M346 334h0M345 330h0M341 326h0M340 321h0M346 307h0M341 308h0M340 312h0M337 317h0M336 321h0M333 325h0M331 330h0M325 234h0M327 240h0M330 243h0M333 246h0M336 250h0M278 376h0M276 371h0M275 367h0M274 363h0M265 304h0M268 300h0M270 298h0M276 296h0M281 299h0M285 302h0M374 291h0M375 287h0M375 283h0M371 282h0M367 284h0M364 289h0M266 341h0M270 337h0M272 332h0M273 327h0M270 324h0M266 322h0M262 324h0M402 258h0M398 263h0M396 265h0M392 268h0M389 273h0M330 304h0M328 301h0M317 322h0M317 325h0M392 286h0M395 288h0M398 292h0M370 337h0M364 337h0M361 335h0M354 354h0M353 350h0M356 346h0M384 285h0M386 289h0M389 293h0M394 292h0M398 295h0M385 251h0M383 248h0M379 245h0M377 241h0M376 236h0M305 324h0M303 319h0M299 317h0M295 312h0M292 315h0M288 317h0M225 342h0M224 347h0M221 351h0M217 354h0M260 283h0M254 283h0M361 284h0M357 285h0M355 290h0M352 295h0M348 295h0M398 289h0M395 292h0M390 294h0M386 298h0M381 297h0M378 293h0M377 287h0M230 337h0M233 338h0M238 339h0M243 341h0M247 342h0M278 344h0M282 345h0M287 345h0M291 344h0M294 342h0M300 342h0M396 264h0M400 259h0M402 255h0M399 251h0M397 248h0M360 342h0M363 338h0M366 335h0M417 262h0M419 267h0M269 397h0M265 393h0M260 396h0M259 400h0M253 398h0M353 321h0M354 327h0M352 332h0M350 336h0M346 340h0M347 344h0M325 247h0M327 243h0M325 239h0M323 235h0M319 232h0M317 229h0M315 225h0M312 354h0M317 354h0M320 358h0M321 363h0M321 368h0M221 345h0M225 342h0M356 275h0M358 280h0M357 285h0M356 289h0M354 295h0M263 315h0M267 319h0M268 324h0M379 285h0M375 282h0M372 278h0M367 276h0M362 274h0M404 254h0M408 252h0M411 256h0M388 275h0M383 274h0M380 270h0M375 269h0M372 266h0M401 285h0M406 286h0M411 288h0M281 352h0M283 347h0M284 343h0M282 340h0M285 336h0M239 373h0M234 370h0M233 366h0M229 362h0M228 358h0M296 408h0M300 406h0M248 332h0M245 336h0M280 304h0M284 302h0M288 304h0M380 323h0M380 319h0M382 314h0M385 312h0M255 286h0M256 290h0M257 294h0M306 424h0M305 428h0M304 431h0M301 433h0M295 432h0M265 336h0M269 335h0M273 336h0M276 339h0M320 393h0M325 394h0M331 393h0M334 391h0M253 356h0M255 360h0M256 364h0M253 369h0M248 369h0M245 372h0M246 377h0M219 351h0M215 348h0M212 344h0M212 340h0M291 390h0M285 387h0M281 392h0M280 396h0M279 400h0M280 405h0M279 410h0M312 379h0M315 384h0M316 390h0M320 393h0M344 309h0M349 311h0M350 316h0M360 322h0M363 319h0M366 317h0M367 312h0M366 306h0M215 355h0M219 354h0M222 350h0M226 348h0M229 346h0M234 345h0M327 407h0M327 403h0M327 398h0M329 394h0M332 389h0M335 386h0M337 382h0M313 436h0M310 433h0M310 429h0M314 427h0M298 256h0M304 256h0M307 251h0M310 248h0M315 246h0M335 421h0M330 424h0M328 427h0M215 362h0M213 366h0M315 369h0M320 368h0M323 372h0M273 314h0M279 316h0M283 319h0M287 318h0M327 250h0M322 253h0M316 255h0M311 256h0M307 258h0M294 308h0M291 304h0M291 300h0M291 296h0M303 352h0M300 348h0M326 371h0M328 367h0M332 365h0M337 362h0M310 310h0M315 310h0M318 307h0M319 303h0M325 301h0M269 284h0M273 283h0M274 279h0M277 274h0M324 336h0M328 338h0M331 341h0M336 342h0M339 346h0M310 309h0M314 311h0M348 264h0M352 261h0M356 260h0M360 259h0M321 401h0M321 404h0M320 408h0M322 413h0M325 415h0M329 418h0M333 418h0M349 237h0M349 241h0M346 245h0M347 250h0M348 254h0M351 257h0M325 385h0M328 382h0M332 378h0M335 375h0M322 256h0M318 257h0M311 252h0M315 249h0M317 245h0M278 381h0M274 381h0M305 322h0M310 320h0M316 318h0M321 319h0M373 256h0M376 253h0M323 436h0M320 432h0M319 428h0M316 423h0M356 294h0M351 291h0M347 288h0M317 409h0M319 404h0M318 400h0M318 395h0M317 391h0M317 387h0M304 267h0M306 263h0M310 260h0M314 261h0M320 260h0M324 261h0M327 259h0M366 288h0M362 292h0M356 292h0M335 404h0M333 408h0M334 414h0M336 417h0M335 423h0M369 269h0M368 265h0M365 262h0M363 259h0M363 254h0M364 250h0M272 351h0M273 347h0M275 343h0M277 339h0M368 347h0M365 343h0M369 340h0M332 393h0M333 389h0M332 386h0M329 384h0M326 382h0M322 381h0M274 380h0M277 376h0M280 373h0M285 370h0M289 368h0M291 412h0M296 413h0M298 418h0M333 239h0M335 243h0M338 246h0M342 247h0M301 311h0M297 310h0M292 308h0M288 305h0M287 302h0M343 400h0M414 275h0M413 281h0M415 284h0M342 298h0M346 298h0M350 297h0M280 351h0M283 346h0M286 342h0M286 339h0M290 334h0M293 332h0M279 306h0M281 310h0M285 315h0M287 318h0M291 320h0M292 325h0M296 326h0M234 309h0M237 306h0M240 304h0M243 302h0M246 299h0M250 298h0M255 296h0M398 285h0M399 289h0M402 293h0M403 298h0M404 303h0M304 362h0M301 359h0M296 355h0M217 362h0M211 360h0M292 349h0M295 344h0M299 341h0M413 285h0M410 288h0M406 290h0M404 294h0M402 299h0M367 234h0M370 233h0M243 362h0M245 365h0M245 370h0M244 373h0M243 378h0M345 375h0M343 370h0M341 365h0M341 361h0M339 358h0M303 313h0M303 307h0M304 302h0M302 297h0M339 256h0M334 256h0M329 255h0M324 257h0M301 324h0M299 320h0M296 317h0M293 314h0M288 311h0M285 306h0M282 303h0M398 293h0M392 291h0M395 286h0M393 284h0M388 282h0M384 281h0M380 278h0M394 295h0M395 299h0M399 302h0M404 299h0M408 297h0M409 293h0M410 287h0M338 260h0M334 262h0M333 266h0M333 270h0M292 394h0M291 389h0M287 385h0M335 316h0M338 318h0M343 322h0M347 322h0M353 320h0M356 324h0M352 332h0M350 337h0M345 337h0M340 335h0M340 330h0M337 326h0M334 323h0M383 262h0M379 258h0M375 257h0M373 252h0M371 247h0M374 244h0M373 239h0M331 343h0M330 339h0M333 335h0M331 330h0M327 325h0M313 284h0M315 289h0M316 294h0M317 299h0M304 257h0M303 261h0M306 264h0M309 269h0M312 274h0M317 276h0M288 330h0M292 334h0M384 251h0M387 253h0M391 256h0M391 261h0M387 264h0M383 264h0M286 319h0M283 322h0M279 323h0M274 324h0M328 360h0M327 355h0M325 349h0M321 349h0M317 348h0M313 348h0M334 399h0M336 404h0M286 370h0M288 373h0M293 376h0M390 252h0M387 254h0M381 254h0M312 271h0M315 270h0M320 269h0M347 351h0M348 346h0M348 342h0M345 338h0M345 333h0M344 329h0M340 325h0M369 321h0M375 321h0M379 323h0M277 310h0M272 309h0M270 306h0M269 302h0M268 297h0M385 276h0M382 277h0M378 272h0M376 267h0M373 263h0M348 339h0M353 337h0M357 334h0M376 242h0M312 273h0M311 268h0M310 265h0M304 263h0M257 331h0M254 330h0M324 330h0M320 328h0M318 323h0M321 281h0M324 283h0M330 281h0M334 285h0M338 359h0M335 356h0M332 352h0M354 308h0M349 308h0M344 306h0M339 308h0M334 308h0M328 305h0M365 235h0M369 238h0M371 244h0M375 248h0M303 389h0M301 393h0M297 394h0M292 394h0M289 391h0M286 391h0M283 389h0M279 403h0M277 399h0M276 394h0M272 391h0M272 385h0M272 380h0M363 313h0M359 309h0M354 307h0M349 304h0M271 300h0M268 298h0M271 293h0M272 288h0M272 284h0M275 279h0M275 276h0M393 274h0M398 275h0M402 277h0M284 381h0M289 378h0M290 375h0M291 370h0M292 366h0M381 252h0M386 252h0M392 253h0M396 251h0M352 370h0M348 372h0M345 374h0M342 371h0M345 366h0M346 363h0M346 235h0M342 230h0M327 417h0M331 416h0M334 415h0M338 415h0M343 415h0M397 263h0M392 266h0M388 269h0M386 271h0M381 270h0M378 267h0M374 264h0M365 311h0M369 310h0M374 311h0M378 313h0M382 311h0M325 304h0M324 298h0M345 245h0M347 249h0M348 254h0M353 256h0M358 259h0M360 255h0M352 262h0M352 266h0M352 272h0M348 276h0M343 277h0M339 280h0M336 285h0M314 254h0M319 254h0M324 256h0M328 260h0M333 261h0M338 259h0M344 260h0M239 316h0M243 314h0M243 308h0M344 251h0M343 254h0M341 258h0M227 373h0M224 369h0M218 369h0M214 369h0M388 314h0M385 315h0M360 350h0M356 350h0M352 350h0M346 351h0M341 353h0M376 322h0M373 324h0M219 351h0M222 356h0M224 359h0M225 363h0M230 366h0M299 303h0M295 307h0M290 310h0M290 314h0M295 288h0M299 290h0M298 293h0M302 298h0M300 302h0M297 306h0M308 250h0M304 252h0M301 255h0M279 396h0M275 399h0M308 413h0M305 417h0M303 422h0M305 427h0M307 432h0M312 435h0M316 437h0M364 355h0M360 358h0M355 359h0M351 363h0M351 367h0M353 372h0M281 411h0M286 408h0M290 409h0M295 409h0M336 257h0M332 258h0M327 260h0M322 261h0M317 259h0M315 255h0M294 268h0M290 267h0M286 267h0M281 268h0M287 309h0M282 307h0M277 309h0M272 312h0M272 316h0M272 320h0M305 308h0M311 309h0M314 307h0M320 307h0M324 305h0M304 313h0M308 312h0M311 308h0M316 305h0M320 306h0M328 421h0M324 416h0M322 413h0M319 411h0M314 408h0M309 407h0M308 403h0M272 321h0M271 324h0M267 327h0M265 330h0M262 334h0M261 339h0M376 272h0M377 276h0M376 281h0M371 282h0M366 282h0M314 266h0M313 262h0M313 258h0M312 252h0M308 248h0M306 245h0M302 243h0M306 399h0M303 402h0M298 403h0M293 402h0M289 403h0M284 400h0M324 326h0M329 327h0M333 328h0M337 329h0M295 334h0M299 334h0M303 338h0M303 342h0M301 346h0M299 350h0M298 354h0M343 282h0M344 277h0M349 275h0M354 275h0M343 336h0M347 335h0M352 332h0M356 333h0M356 338h0M289 364h0M291 361h0M290 356h0M287 353h0M284 348h0M280 344h0M277 339h0M220 360h0M225 360h0M229 359h0M235 360h0M238 362h0M240 365h0M236 369h0M251 347h0M247 345h0M244 342h0M240 340h0M237 335h0M237 354h0M238 349h0M240 345h0M241 340h0M326 362h0M321 364h0M317 365h0M317 370h0M320 375h0M324 377h0M329 379h0M274 403h0M271 405h0M263 363h0M258 365h0M361 346h0M359 341h0M358 337h0M357 333h0M359 328h0M356 324h0M230 348h0M226 349h0M220 348h0M217 349h0M211 349h0M418 275h0M409 277h0M409 272h0M410 266h0M411 262h0M315 367h0M312 362h0M322 295h0M318 297h0M316 299h0M311 299h0M308 297h0M305 293h0M223 350h0M220 345h0M219 340h0M221 336h0M224 333h0M291 400h0M296 401h0M299 404h0M301 407h0M304 412h0M295 362h0M298 366h0M299 371h0M368 313h0M368 308h0M366 304h0M365 301h0M300 304h0M301 309h0M300 314h0M300 318h0M300 324h0M299 330h0M339 318h0M342 320h0M343 326h0M345 329h0M313 436h0M308 438h0M308 444h0M294 367h0M297 362h0M298 358h0M300 354h0M323 331h0M326 336h0M329 339h0M334 342h0M340 342h0M346 340h0M349 342h0M248 343h0M249 339h0M244 335h0M242 332h0M237 328h0M233 325h0M229 321h0M369 309h0M373 313h0M373 319h0M299 243h0M295 243h0M362 333h0M362 339h0M359 342h0M359 346h0M361 350h0M345 375h0M347 370h0M347 365h0M353 364h0M357 362h0M386 302h0M388 306h0M391 310h0M395 311h0M306 282h0M303 284h0M302 288h0M302 292h0M302 297h0M299 302h0M373 249h0M372 255h0M369 260h0M364 261h0M369 333h0M366 336h0M366 341h0M367 345h0M370 348h0M332 433h0M331 438h0M335 418h0M340 421h0M338 425h0M337 429h0M332 432h0M329 435h0M326 439h0M339 424h0M344 426h0M338 391h0M336 386h0M337 382h0M336 378h0M335 374h0M338 370h0M257 400h0M260 397h0M263 394h0M267 390h0M311 272h0M308 273h0M304 273h0M300 273h0M294 276h0M291 297h0M290 292h0M290 288h0M286 283h0M281 282h0M276 282h0M272 286h0M374 272h0M378 269h0M382 270h0M387 270h0M395 285h0M390 285h0M387 288h0M383 291h0M378 290h0M374 290h0M369 288h0M266 380h0M272 379h0M277 377h0M281 375h0M285 377h0M285 381h0M285 385h0M366 331h0M361 333h0M369 246h0M367 250h0M291 338h0M295 335h0M270 364h0M268 368h0M267 372h0M268 376h0M268 379h0M267 383h0M300 377h0M300 371h0M298 366h0M323 346h0M321 343h0M318 339h0M311 237h0M312 241h0M310 246h0M308 249h0M305 253h0M329 262h0M327 266h0M330 270h0M333 275h0M332 280h0M327 280h0M322 282h0M321 284h0M324 287h0M326 291h0M329 294h0M323 329h0M323 325h0M320 323h0M316 319h0M313 315h0M269 400h0M270 403h0M390 251h0M389 248h0M313 408h0M317 412h0M323 414h0M328 414h0M330 419h0M331 423h0M327 428h0M229 357h0M233 361h0M236 365h0M238 369h0M243 368h0M363 310h0M359 306h0M354 307h0M328 243h0M332 247h0M333 251h0M332 255h0M329 257h0M360 269h0M356 270h0M352 273h0M266 401h0M270 400h0M275 398h0M278 395h0M279 392h0M273 322h0M275 318h0M276 314h0M279 311h0M282 310h0M384 248h0M388 249h0M377 313h0M380 310h0M362 315h0M359 316h0M354 318h0M350 315h0M394 293h0M389 294h0M387 297h0M247 323h0M352 390h0M336 227h0M302 443h0M222 299h0M348 395h0M293 436h0M270 265h0M328 439h0M345 414h0M222 303h0M343 432h0M278 417h0M368 229h0M218 283h0M206 355h0M416 259h0M219 371h0M357 374h0M370 338h0M346 397h0M257 278h0M370 342h0M228 287h0M221 298h0M421 276h0M364 232h0M212 370h0M414 294h0M381 238h0M421 268h0M372 339h0M210 345h0M238 285h0M409 301h0M417 292h0M226 316h0M224 285h0M222 375h0M403 249h0M245 390h0M231 284h0M357 231h0M280 257h0M312 226h0M381 324h0M272 269h0M218 330h0M232 380h0M267 261h0M424 281h0M232 381h0M394 248h0M408 306h0M297 231h0M411 242h0M204 366h0M354 218h0M380 358h0M206 280h0M348 396h0M270 261h0M201 356h0M431 281h0M299 453h0M362 381h0M220 313h0M273 264h0M433 260h0M262 277h0M377 360h0M376 342h0M227 407h0M228 411h0M229 416h0M268 420h0M262 419h0M259 414h0M255 413h0M251 413h0M247 412h0M242 414h0M245 415h0M241 415h0M237 418h0M234 418h0M230 415h0M227 412h0M263 447h0M257 447h0M252 449h0M282 443h0M285 438h0M285 434h0M287 430h0M259 456h0M257 459h0M251 451h0M254 453h0M255 457h0M225 396h0M220 397h0M323 449h0M327 447h0M281 440h0M278 437h0M275 435h0M272 432h0M279 432h0M276 427h0M272 430h0M251 402h0M245 403h0M242 407h0M237 408h0M233 411h0M239 423h0M235 427h0M233 432h0M267 416h0M255 460h0M247 389h0M332 447h0M243 385h0M324 449h0M223 412h0M310 463h0M239 449h0M226 359h0M237 442h0M339 525h0M371 466h0M303 449h0M309 504h0M311 502h0M308 524h0M331 499h0M356 481h0M299 521h0M370 506h0M373 470h0M349 530h0M321 489h0M445 534h0M313 475h0M387 494h0M412 497h0M250 492h0M272 455h0M283 499h0M274 517h0M391 478h0M319 486h0M319 480h0M391 522h0M297 448h0"/>
<path stroke="#B983FF" d="M121 428h0M125 427h0M129 424h0M132 421h0M136 420h0M141 419h0M146 416h0M173 444h0M172 440h0M171 435h0M171 429h0M170 424h0M164 422h0M161 417h0M202 436h0M207 434h0M177 401h0M172 398h0M148 441h0M152 444h0M155 447h0M182 446h0M180 442h0M140 413h0M145 412h0M148 416h0M172 428h0M172 433h0M175 436h0M175 440h0M117 427h0M121 426h0M126 426h0M130 428h0M136 427h0M179 438h0M182 442h0M178 445h0M176 449h0M136 425h0M136 430h0M133 433h0M192 426h0M197 427h0M200 431h0M203 436h0M134 418h0M128 419h0M126 422h0M126 426h0M120 425h0M193 433h0M194 427h0M192 422h0M190 419h0M191 415h0M192 412h0M195 409h0M169 447h0M173 447h0M177 445h0M180 446h0M181 441h0M179 400h0M184 402h0M187 404h0M195 424h0M197 420h0M196 416h0M200 414h0M137 439h0M139 442h0M144 445h0M146 448h0M146 454h0M144 437h0M141 440h0M138 442h0M133 444h0M129 448h0M124 451h0M195 421h0M196 417h0M196 411h0M195 407h0M130 425h0M127 430h0M126 435h0M126 439h0M122 440h0M119 444h0M114 447h0M181 451h0M178 440h0M182 444h0M186 447h0M190 448h0M195 446h0M199 447h0M133 432h0M134 428h0M159 439h0M155 437h0M151 437h0M147 440h0M142 441h0M136 443h0M156 432h0M162 431h0M164 428h0M169 427h0M175 427h0M179 424h0M183 424h0M171 416h0M168 419h0M165 420h0M161 422h0M121 445h0M121 449h0M123 453h0M132 439h0M127 441h0M123 441h0M118 443h0M115 444h0M141 420h0M146 417h0M155 446h0M151 445h0M146 443h0M143 440h0M141 437h0M169 419h0M166 421h0M167 425h0M166 429h0M165 432h0M170 435h0M176 437h0M130 451h0M135 450h0M139 453h0M118 447h0M114 445h0M110 444h0M150 405h0M159 404h0M164 403h0M192 417h0M190 413h0M185 411h0M179 411h0M174 412h0M172 416h0M142 410h0M145 412h0M148 416h0M151 421h0M155 424h0M175 451h0M181 449h0M186 447h0M184 443h0M188 440h0M192 436h0M193 432h0M120 447h0M116 443h0M112 441h0M165 411h0M160 409h0M156 408h0M153 404h0M150 401h0M144 435h0M148 437h0M145 413h0M140 416h0M135 407h0M133 404h0M125 448h0M121 449h0M174 412h0M173 408h0M171 403h0M168 401h0M193 444h0M189 445h0M186 446h0M181 447h0M176 446h0M131 424h0M133 429h0M135 433h0M136 437h0M137 442h0M137 446h0M177 409h0M173 406h0M169 404h0M166 400h0M122 425h0M126 426h0M130 427h0M134 430h0M145 414h0M149 414h0M153 413h0M156 409h0M183 439h0M182 442h0M128 447h0M132 447h0M138 449h0M141 451h0M116 434h0M120 435h0M124 436h0M125 440h0M123 445h0M136 449h0M140 452h0M134 438h0M136 441h0M141 442h0M144 445h0M147 446h0M153 447h0M185 425h0M183 429h0M185 433h0M190 432h0M194 431h0M196 426h0M161 414h0M158 413h0M153 411h0M148 409h0M176 418h0M171 416h0M170 411h0M173 409h0M186 455h0M157 403h0M178 456h0M204 415h0M111 450h0M112 428h0M200 410h0M113 427h0M205 441h0M162 455h0M203 414h0M184 396h0M151 453h0M146 453h0M110 447h0M176 399h0M110 451h0M120 453h0M134 400h0M125 408h0M205 421h0M157 402h0M160 464h0M147 461h0M166 394h0M152 395h0M141 454h0M116 409h0M144 392h0M162 401h0M168 390h0M120 405h0M129 457h0M123 410h0M188 492h0M183 489h0M236 516h0M234 520h0M234 519h0M235 524h0M163 513h0M166 517h0M169 522h0M173 523h0M178 527h0M177 531h0M231 499h0M227 502h0M148 523h0M153 521h0M157 517h0M160 516h0M165 514h0M119 518h0M113 517h0M227 503h0M232 504h0M236 503h0M240 503h0M244 504h0M245 509h0M192 506h0M187 506h0M183 506h0M180 502h0M176 500h0M244 473h0M247 475h0M189 507h0M193 509h0M197 510h0M201 513h0M202 529h0M206 527h0M211 526h0M169 503h0M167 506h0M169 509h0M171 515h0M221 521h0M215 522h0M210 521h0M207 520h0M201 521h0M197 518h0M196 512h0M235 463h0M240 461h0M165 506h0M163 503h0M160 500h0M164 532h0M166 530h0M170 527h0M173 527h0M178 526h0M181 527h0M197 474h0M192 473h0M245 503h0M243 507h0M238 509h0M235 512h0M236 517h0M241 517h0M243 514h0M231 478h0M233 474h0M235 470h0M235 465h0M151 528h0M155 528h0M160 531h0M163 529h0M165 533h0M163 538h0M159 540h0M218 479h0M213 476h0M209 477h0M235 500h0M231 504h0M228 509h0M225 510h0M222 513h0M223 518h0M223 479h0M222 483h0M221 488h0M223 491h0M162 490h0M166 489h0M171 490h0M174 493h0M214 507h0M218 509h0M221 510h0M189 524h0M184 522h0M182 518h0M177 515h0M172 513h0M207 450h0M209 446h0M241 482h0M241 476h0M245 472h0M245 467h0M106 510h0M102 511h0M100 513h0M103 518h0M108 518h0M112 516h0M114 511h0M186 516h0M184 513h0M180 515h0M177 518h0M176 522h0M180 526h0M216 501h0M212 500h0M206 500h0M138 519h0M134 519h0M131 516h0M128 512h0M126 506h0M123 503h0M220 479h0M215 481h0M157 506h0M153 506h0M150 502h0M134 520h0M139 519h0M141 524h0M143 528h0M144 533h0M140 537h0M138 542h0M206 522h0M202 526h0M200 473h0M196 477h0M176 529h0M179 533h0M162 496h0M158 499h0M159 504h0M159 510h0M161 514h0M162 518h0M164 521h0M190 523h0M194 522h0M221 515h0M221 519h0M223 524h0M169 490h0M165 487h0M139 516h0M134 519h0M131 523h0M132 527h0M130 531h0M110 515h0M108 509h0M178 487h0M178 483h0M181 479h0M197 456h0M193 459h0M189 458h0M108 515h0M105 517h0M104 522h0M104 525h0M100 528h0M231 495h0M234 497h0M239 497h0M242 499h0M246 502h0M199 489h0M203 491h0M208 491h0M213 493h0M216 496h0M220 500h0M226 500h0M156 506h0M151 505h0M145 505h0M142 501h0M138 498h0M217 524h0M218 520h0M213 517h0M216 460h0M222 460h0M226 464h0M229 466h0M231 470h0M234 472h0M190 517h0M189 523h0M190 528h0M195 531h0M198 532h0M235 502h0M240 501h0M244 500h0M246 497h0M247 493h0M248 488h0M236 474h0M240 470h0M241 467h0M207 484h0M210 480h0M213 476h0M167 499h0M164 501h0M161 506h0M158 508h0M154 512h0M223 522h0M220 518h0M218 514h0M218 509h0M221 506h0M224 503h0M114 526h0M113 520h0M112 515h0M127 547h0M131 547h0M135 545h0M157 492h0M155 489h0M176 499h0M173 500h0M170 504h0M166 508h0M168 511h0M164 515h0M230 470h0M226 473h0M226 478h0M227 482h0M227 486h0M227 490h0M227 494h0M180 499h0M177 496h0M175 493h0M140 516h0M136 511h0M135 507h0M133 504h0M129 502h0M126 499h0M123 495h0M132 530h0M127 527h0M127 522h0M119 499h0M121 497h0M127 497h0M131 501h0M137 500h0M141 504h0M126 502h0M125 497h0M207 463h0M210 458h0M219 460h0M223 457h0M227 454h0M232 455h0M190 514h0M195 512h0M200 510h0M205 511h0M211 510h0M217 509h0M221 508h0M132 545h0M133 540h0M135 535h0M207 476h0M210 474h0M214 472h0M216 467h0M219 462h0M219 457h0M190 484h0M186 482h0M180 481h0M177 485h0M171 487h0M170 491h0M104 508h0M105 505h0M194 516h0M198 512h0M110 504h0M107 508h0M108 514h0M104 515h0M101 519h0M99 524h0M101 529h0M102 511h0M99 508h0M160 524h0M161 520h0M161 515h0M139 547h0M140 552h0M137 532h0M139 529h0M140 525h0M119 521h0M117 525h0M115 530h0M113 534h0M109 535h0M105 534h0M101 534h0M240 483h0M245 484h0M248 486h0M214 483h0M209 486h0M172 493h0M168 495h0M165 494h0M163 497h0M143 525h0M145 519h0M147 514h0M145 509h0M144 506h0M142 514h0M148 513h0M152 514h0M156 515h0M158 519h0M159 522h0M161 526h0M124 539h0M123 534h0M121 529h0M240 480h0M235 479h0M231 480h0M227 482h0M222 484h0M173 529h0M174 534h0M173 539h0M204 484h0M206 481h0M209 477h0M211 474h0M120 522h0M121 517h0M117 513h0M112 510h0M108 508h0M196 521h0M202 521h0M206 522h0M209 520h0M209 516h0M208 510h0M150 505h0M146 509h0M143 511h0M142 515h0M143 533h0M140 537h0M135 536h0M205 516h0M202 519h0M198 524h0M194 526h0M194 532h0M112 553h0M114 548h0M207 461h0M211 466h0M214 470h0M218 473h0M221 476h0M222 481h0M188 520h0M182 522h0M222 493h0M228 490h0M233 491h0M239 491h0M172 492h0M173 488h0M172 483h0M191 506h0M196 506h0M200 508h0M200 512h0M198 517h0M225 502h0M220 501h0M215 498h0M211 496h0M207 496h0M202 493h0M198 489h0M164 519h0M160 519h0M156 517h0M156 512h0M213 456h0M216 456h0M220 457h0M224 457h0M229 458h0M233 458h0M237 454h0M193 448h0M197 451h0M200 455h0M202 458h0M206 461h0M212 462h0M218 462h0M200 490h0M196 488h0M190 489h0M190 493h0M128 500h0M132 502h0M135 506h0M139 509h0M144 512h0M146 516h0M198 502h0M199 498h0M204 498h0M209 497h0M224 486h0M228 486h0M232 489h0M235 492h0M219 472h0M221 467h0M231 480h0M235 481h0M241 483h0M244 485h0M248 486h0M246 478h0M184 512h0M185 508h0M186 504h0M114 550h0M119 549h0M124 547h0M128 546h0M132 551h0M126 516h0M121 513h0M117 513h0M112 511h0M109 509h0M106 507h0M130 546h0M127 551h0M124 555h0M120 557h0M116 557h0M112 554h0M108 550h0M179 522h0M198 471h0M192 464h0M243 465h0M140 493h0M197 442h0M167 540h0M179 476h0M109 555h0M97 516h0M184 439h0M100 535h0M100 528h0M248 504h0M136 491h0M250 506h0M241 459h0M166 484h0M196 537h0M247 466h0M95 509h0M122 559h0M106 549h0M161 543h0M246 509h0M101 537h0M232 450h0M106 499h0M250 498h0M197 537h0M227 452h0M239 457h0M230 529h0M205 535h0M98 517h0M227 449h0M227 451h0M153 489h0M233 441h0M100 553h0M185 439h0M232 449h0M181 538h0M146 561h0M246 528h0M257 508h0M132 555h0M99 502h0M128 565h0M247 471h0M100 496h0M254 468h0"/>
<path stroke="#00B0F6" d="M24 534h0M20 533h0M15 533h0M12 535h0M71 553h0M67 549h0M64 545h0M85 549h0M80 552h0M76 554h0M73 558h0M73 563h0M75 567h0M22 500h0M22 495h0M22 491h0M10 507h0M15 508h0M19 509h0M22 506h0M26 502h0M7 527h0M12 526h0M16 527h0M18 531h0M31 531h0M26 530h0M22 533h0M17 536h0M15 540h0M13 543h0M27 509h0M30 506h0M29 501h0M28 495h0M28 491h0M28 487h0M67 552h0M65 549h0M23 495h0M25 492h0M24 488h0M61 557h0M57 554h0M54 550h0M51 547h0M54 508h0M59 507h0M64 507h0M67 512h0M71 514h0M77 515h0M78 565h0M81 561h0M82 556h0M83 553h0M83 548h0M82 543h0M83 539h0M93 527h0M89 525h0M88 520h0M90 516h0M90 513h0M84 511h0M81 514h0M11 510h0M7 511h0M26 523h0M32 521h0M37 517h0M70 539h0M71 534h0M69 531h0M68 527h0M69 523h0M71 518h0M76 515h0M34 502h0M30 501h0M77 549h0M79 546h0M88 507h0M83 506h0M24 502h0M25 496h0M23 491h0M22 486h0M65 510h0M62 507h0M58 504h0M54 502h0M49 503h0M44 504h0M40 509h0M10 507h0M11 513h0M16 515h0M19 519h0M19 524h0M26 500h0M24 504h0M24 509h0M22 513h0M20 516h0M89 516h0M83 516h0M77 517h0M72 516h0M71 513h0M31 502h0M31 507h0M35 510h0M35 516h0M33 522h0M22 547h0M21 551h0M23 491h0M21 496h0M22 500h0M95 526h0M101 526h0M42 541h0M36 542h0M33 542h0M29 546h0M30 549h0M26 551h0M49 502h0M51 498h0M54 494h0M64 514h0M67 515h0M68 531h0M71 534h0M50 501h0M52 505h0M52 509h0M49 513h0M46 518h0M45 522h0M41 526h0M36 511h0M39 508h0M38 504h0M34 502h0M30 503h0M26 507h0M21 506h0M95 521h0M90 525h0M89 529h0M85 531h0M81 530h0M87 520h0M82 520h0M77 520h0M74 518h0M73 535h0M68 534h0M65 529h0M63 545h0M68 547h0M72 546h0M76 543h0M81 544h0M48 498h0M49 502h0M53 505h0M13 538h0M17 535h0M17 529h0M18 525h0M18 521h0M87 563h0M83 561h0M79 563h0M75 566h0M70 567h0M65 567h0M65 517h0M68 514h0M70 510h0M39 516h0M41 513h0M43 509h0M44 506h0M44 502h0M44 497h0M89 562h0M55 498h0M58 502h0M61 505h0M63 508h0M101 532h0M105 531h0M90 509h0M90 505h0M28 548h0M29 552h0M78 548h0M75 544h0M70 542h0M64 543h0M61 542h0M79 515h0M82 510h0M84 507h0M89 504h0M58 510h0M57 515h0M55 519h0M56 523h0M60 527h0M62 531h0M16 528h0M16 525h0M16 520h0M13 517h0M86 564h0M34 516h0M31 519h0M27 522h0M24 522h0M18 521h0M16 516h0M13 513h0M77 563h0M81 560h0M79 555h0M77 551h0M30 542h0M27 540h0M22 539h0M19 536h0M16 531h0M49 546h0M54 548h0M57 550h0M61 549h0M65 548h0M71 547h0M76 548h0M42 506h0M38 505h0M35 501h0M46 543h0M41 542h0M37 539h0M35 536h0M32 532h0M29 529h0M27 526h0M94 530h0M89 532h0M88 536h0M87 542h0M87 546h0M89 551h0M19 541h0M24 540h0M28 536h0M32 532h0M32 526h0M63 563h0M63 557h0M68 555h0M74 555h0M78 556h0M84 556h0M88 559h0M33 512h0M30 515h0M27 520h0M25 525h0M21 530h0M93 526h0M99 525h0M102 522h0M99 534h0M98 538h0M38 522h0M42 523h0M47 520h0M50 516h0M55 516h0M61 514h0M20 509h0M21 505h0M26 501h0M60 559h0M63 556h0M68 558h0M70 563h0M72 568h0M90 550h0M94 546h0M51 537h0M49 535h0M47 531h0M49 527h0M52 522h0M16 499h0M14 503h0M12 506h0M9 509h0M27 550h0M28 545h0M93 560h0M88 557h0M88 551h0M91 547h0M92 543h0M97 541h0M36 523h0M40 525h0M46 527h0M58 542h0M57 537h0M60 533h0M59 528h0M56 524h0M55 520h0M53 527h0M57 526h0M61 522h0M65 519h0M68 516h0M71 512h0M42 490h0M38 491h0M36 496h0M35 501h0M13 515h0M16 516h0M21 513h0M25 512h0M28 512h0M29 548h0M62 499h0M69 571h0M102 561h0M98 564h0M97 508h0M47 553h0M62 502h0M108 538h0M83 504h0M11 503h0M53 495h0M108 537h0M66 567h0M105 536h0M62 567h0M3 529h0M26 554h0M7 512h0M108 542h0M7 503h0M31 552h0M105 542h0M48 559h0M70 508h0M104 536h0M56 495h0M12 502h0M110 548h0M37 486h0M69 498h0M63 577h0M75 577h0M102 521h0M66 572h0M80 504h0M105 549h0M58 578h0M35 554h0M44 475h0M75 503h0"/>
<path stroke="#FF67A4" d="M439 582h0M442 585h0M383 585h0M384 581h0M382 577h0M385 573h0M387 570h0M403 580h0M400 582h0M396 582h0M414 547h0M411 546h0M405 547h0M402 546h0M397 545h0M393 541h0M391 537h0M336 659h0M333 664h0M447 631h0M450 628h0M450 624h0M451 620h0M397 653h0M394 655h0M390 653h0M384 654h0M381 652h0M334 693h0M329 689h0M325 685h0M320 685h0M401 555h0M400 550h0M400 547h0M398 541h0M395 537h0M393 532h0M341 676h0M336 679h0M334 682h0M334 686h0M337 688h0M341 690h0M346 692h0M337 587h0M342 586h0M345 582h0M343 578h0M345 575h0M348 570h0M429 593h0M425 589h0M332 548h0M336 549h0M341 552h0M345 552h0M349 550h0M447 562h0M452 560h0M454 556h0M453 552h0M447 549h0M446 545h0M446 541h0M392 571h0M391 575h0M390 578h0M386 583h0M384 588h0M331 687h0M328 690h0M326 693h0M328 698h0M369 592h0M366 587h0M362 583h0M358 580h0M445 603h0M448 604h0M452 605h0M305 578h0M310 579h0M315 579h0M317 581h0M319 585h0M317 589h0M317 594h0M465 551h0M461 551h0M456 548h0M452 546h0M447 544h0M339 620h0M343 616h0M346 612h0M349 609h0M352 606h0M356 603h0M360 603h0M333 592h0M333 597h0M375 680h0M379 680h0M383 682h0M387 684h0M414 660h0M411 657h0M414 655h0M335 632h0M331 633h0M326 632h0M322 629h0M318 625h0M317 621h0M432 589h0M438 591h0M316 625h0M319 621h0M321 618h0M299 593h0M301 599h0M304 604h0M308 606h0M341 642h0M339 646h0M397 676h0M398 681h0M399 687h0M295 549h0M292 552h0M293 555h0M293 560h0M414 583h0M416 588h0M420 589h0M423 594h0M426 597h0M430 600h0M433 601h0M424 526h0M422 530h0M420 535h0M415 537h0M369 599h0M366 597h0M363 595h0M360 591h0M357 586h0M353 586h0M464 593h0M459 595h0M457 600h0M458 605h0M458 608h0M307 660h0M311 663h0M396 566h0M398 563h0M403 564h0M413 529h0M409 529h0M406 527h0M397 684h0M391 684h0M380 604h0M377 603h0M373 601h0M370 599h0M365 601h0M359 599h0M310 581h0M314 577h0M318 578h0M322 579h0M328 581h0M332 580h0M441 614h0M440 611h0M437 607h0M434 602h0M431 600h0M428 597h0M425 594h0M391 674h0M394 670h0M395 666h0M347 606h0M346 600h0M347 596h0M349 593h0M354 591h0M357 589h0M360 585h0M446 606h0M441 609h0M439 612h0M440 617h0M441 622h0M385 633h0M388 637h0M390 641h0M393 644h0M397 645h0M402 643h0M407 642h0M430 607h0M431 613h0M433 617h0M316 622h0M313 627h0M309 630h0M322 591h0M318 587h0M313 590h0M308 592h0M303 589h0M298 588h0M418 528h0M418 522h0M304 545h0M306 549h0M439 643h0M445 645h0M464 565h0M469 561h0M472 557h0M475 554h0M477 549h0M322 704h0M326 706h0M329 710h0M334 708h0M337 704h0M341 701h0M330 708h0M331 712h0M335 710h0M338 706h0M482 575h0M484 580h0M360 618h0M361 612h0M357 609h0M323 546h0M321 549h0M318 553h0M316 558h0M318 562h0M320 567h0M325 569h0M469 550h0M465 550h0M462 551h0M458 554h0M456 558h0M459 564h0M284 550h0M289 553h0M292 556h0M355 625h0M356 629h0M361 630h0M366 627h0M370 627h0M311 638h0M306 639h0M302 640h0M299 644h0M299 649h0M429 591h0M428 596h0M428 600h0M429 605h0M428 610h0M425 613h0M283 574h0M288 574h0M292 578h0M465 551h0M462 548h0M462 542h0M393 534h0M389 534h0M385 535h0M336 633h0M340 637h0M470 603h0M467 598h0M461 596h0M456 594h0M430 562h0M434 564h0M439 565h0M326 662h0M324 658h0M321 658h0M317 655h0M313 655h0M399 669h0M396 672h0M390 672h0M385 673h0M382 670h0M379 668h0M374 667h0M351 673h0M346 675h0M341 676h0M336 679h0M400 629h0M396 627h0M392 624h0M391 621h0M388 619h0M384 616h0M364 607h0M361 606h0M356 607h0M351 609h0M347 610h0M344 605h0M398 531h0M394 529h0M391 530h0M387 535h0M384 538h0M409 679h0M413 683h0M408 631h0M404 629h0M404 624h0M403 620h0M401 615h0M402 610h0M324 623h0M320 626h0M320 632h0M320 636h0M321 641h0M393 637h0M397 637h0M401 640h0M406 639h0M455 530h0M455 535h0M455 540h0M454 545h0M415 583h0M419 579h0M423 576h0M427 573h0M429 569h0M316 576h0M312 579h0M309 583h0M303 585h0M299 581h0M423 562h0M420 565h0M318 576h0M322 578h0M325 580h0M328 580h0M331 584h0M331 590h0M330 595h0M445 607h0M442 610h0M437 613h0M432 611h0M343 676h0M348 679h0M350 558h0M346 558h0M343 563h0M393 565h0M393 561h0M395 556h0M399 552h0M400 548h0M403 545h0M331 602h0M328 598h0M329 594h0M329 588h0M333 587h0M337 588h0M335 645h0M335 640h0M339 637h0M389 578h0M383 581h0M391 681h0M387 680h0M381 680h0M376 682h0M374 687h0M372 690h0M371 580h0M371 574h0M368 572h0M364 573h0M361 575h0M296 553h0M295 549h0M298 546h0M301 542h0M305 541h0M284 555h0M287 553h0M292 552h0M294 549h0M296 544h0M367 589h0M364 588h0M359 585h0M354 582h0M363 590h0M367 587h0M371 585h0M416 564h0M416 568h0M415 573h0M471 571h0M467 573h0M464 572h0M460 568h0M458 564h0M458 559h0M460 555h0M331 694h0M331 700h0M329 704h0M325 708h0M385 658h0M388 654h0M391 650h0M395 646h0M397 641h0M394 638h0M316 675h0M314 679h0M465 562h0M468 559h0M470 555h0M472 551h0M416 537h0M422 537h0M480 557h0M484 557h0M372 661h0M376 657h0M379 655h0M381 652h0M382 648h0M381 644h0M431 557h0M435 556h0M438 553h0M443 549h0M387 629h0M391 626h0M396 624h0M399 621h0M314 634h0M315 638h0M312 643h0M314 647h0M316 650h0M320 651h0M324 652h0M304 621h0M304 627h0M305 632h0M309 634h0M313 638h0M436 525h0M435 521h0M332 552h0M336 555h0M341 553h0M466 605h0M467 609h0M468 613h0M466 616h0M463 619h0M461 624h0M459 629h0M341 692h0M344 688h0M346 684h0M389 534h0M393 538h0M394 542h0M395 546h0M340 665h0M341 661h0M340 656h0M339 652h0M339 648h0M428 533h0M432 536h0M435 537h0M423 610h0M424 614h0M426 617h0M430 622h0M432 625h0M434 629h0M366 567h0M368 572h0M368 578h0M328 699h0M323 699h0M319 700h0M430 638h0M429 634h0M433 633h0M383 654h0M384 657h0M412 566h0M417 567h0M421 566h0M353 632h0M349 633h0M344 632h0M340 632h0M337 635h0M335 640h0M371 609h0M366 606h0M363 606h0M359 608h0M414 613h0M410 618h0M406 619h0M405 623h0M404 627h0M385 588h0M389 588h0M394 589h0M396 593h0M401 594h0M462 526h0M388 539h0M388 534h0M476 567h0M480 568h0M485 570h0M446 616h0M444 611h0M440 609h0M438 612h0M437 617h0M437 622h0M436 627h0M366 683h0M360 683h0M356 683h0M353 679h0M365 647h0M369 651h0M438 643h0M442 640h0M446 636h0M450 635h0M459 600h0M462 596h0M463 592h0M358 647h0M362 646h0M447 563h0M451 565h0M456 567h0M460 568h0M463 571h0M297 616h0M293 617h0M291 613h0M289 609h0M464 556h0M466 551h0M461 547h0M359 603h0M356 600h0M353 597h0M349 594h0M351 589h0M354 585h0M348 604h0M347 609h0M350 615h0M355 615h0M358 618h0M359 623h0M437 607h0M435 603h0M439 601h0M443 601h0M448 599h0M384 663h0M380 667h0M378 670h0M373 672h0M368 674h0M288 626h0M284 623h0M282 619h0M281 613h0M277 610h0M321 700h0M324 702h0M355 626h0M355 622h0M353 617h0M352 612h0M351 606h0M347 604h0M343 604h0M366 575h0M369 572h0M373 572h0M377 572h0M379 575h0M383 578h0M345 697h0M348 702h0M351 706h0M443 591h0M448 593h0M452 593h0M452 597h0M447 600h0M414 527h0M419 528h0M424 527h0M430 526h0M346 548h0M349 546h0M352 543h0M370 571h0M366 569h0M363 567h0M321 663h0M318 660h0M314 655h0M310 651h0M305 648h0M385 548h0M382 552h0M298 651h0M301 654h0M307 652h0M309 649h0M314 648h0M319 649h0M323 648h0M406 666h0M403 661h0M402 658h0M397 657h0M335 668h0M335 663h0M332 661h0M330 658h0M328 653h0M325 648h0M321 647h0M445 556h0M442 551h0M341 625h0M338 624h0M335 619h0M331 615h0M365 693h0M366 697h0M359 702h0M357 705h0M354 708h0M352 712h0M337 665h0M333 668h0M330 673h0M328 677h0M324 675h0M319 674h0M455 577h0M455 581h0M387 655h0M384 658h0M387 664h0M419 647h0M423 644h0M427 642h0M431 640h0M434 638h0M440 637h0M444 640h0M481 553h0M480 547h0M483 543h0M411 546h0M413 542h0M414 538h0M388 561h0M383 558h0M356 700h0M359 698h0M362 695h0M367 695h0M413 668h0M409 668h0M406 664h0M406 658h0M332 592h0M328 589h0M323 585h0M322 581h0M322 576h0M320 572h0M441 632h0M437 632h0M433 635h0M429 633h0M353 583h0M354 589h0M352 594h0M349 598h0M351 603h0M350 607h0M350 611h0M385 622h0M382 626h0M377 624h0M373 624h0M371 628h0M371 631h0M370 635h0M276 581h0M280 582h0M281 586h0M281 591h0M281 596h0M279 601h0M389 675h0M394 674h0M280 619h0M276 617h0M273 612h0M401 546h0M396 547h0M391 548h0M387 544h0M386 540h0M383 537h0M385 531h0M327 554h0M323 550h0M324 545h0M323 541h0M399 586h0M404 589h0M407 591h0M411 595h0M411 599h0M357 672h0M355 676h0M413 667h0M418 667h0M420 669h0M403 581h0M403 585h0M401 588h0M399 593h0M398 597h0M396 602h0M330 655h0M330 660h0M328 664h0M463 588h0M463 593h0M463 597h0M461 603h0M458 607h0M457 613h0M366 688h0M371 688h0M372 684h0M368 679h0M289 617h0M288 612h0M287 609h0M291 605h0M319 631h0M317 625h0M314 623h0M313 619h0M317 615h0M318 610h0M321 608h0M355 585h0M358 580h0M361 578h0M366 579h0M354 638h0M358 643h0M363 642h0M366 646h0M365 649h0M376 551h0M381 554h0M384 556h0M389 555h0M394 554h0M398 556h0M400 654h0M396 653h0M392 653h0M389 656h0M403 655h0M407 657h0M440 543h0M437 538h0M432 535h0M449 536h0M453 537h0M456 533h0M459 528h0M462 526h0M386 578h0M385 584h0M383 587h0M385 592h0M388 595h0M390 600h0M391 605h0M304 620h0M310 622h0M313 622h0M317 618h0M351 688h0M353 693h0M353 697h0M353 701h0M474 563h0M469 562h0M464 560h0M460 562h0M469 605h0M464 607h0M411 630h0M413 626h0M415 623h0M421 623h0M425 623h0M429 626h0M433 628h0M302 546h0M299 542h0M431 657h0M430 651h0M430 646h0M430 641h0M414 585h0M415 579h0M416 575h0M417 570h0M418 565h0M326 578h0M331 580h0M336 580h0M339 583h0M337 588h0M339 593h0M342 596h0M456 532h0M458 535h0M351 664h0M355 666h0M425 567h0M428 569h0M433 570h0M438 572h0M437 578h0M294 564h0M294 560h0M343 562h0M344 556h0M343 551h0M345 547h0M480 576h0M479 580h0M475 579h0M472 575h0M469 571h0M469 565h0M471 561h0M356 570h0M361 568h0M364 570h0M370 569h0M374 568h0M434 653h0M430 650h0M430 646h0M348 558h0M347 554h0M345 551h0M344 547h0M383 594h0M381 589h0M377 585h0M373 583h0M370 580h0M414 547h0M420 545h0M425 543h0M427 537h0M403 577h0M403 581h0M401 585h0M404 588h0M405 593h0M406 598h0M409 601h0M370 625h0M368 629h0M392 583h0M392 588h0M284 558h0M282 562h0M278 564h0M273 565h0M421 644h0M417 648h0M416 653h0M415 657h0M417 660h0M302 637h0M306 633h0M307 628h0M307 622h0M357 582h0M352 579h0M348 576h0M344 578h0M342 582h0M341 587h0M338 591h0M312 587h0M316 584h0M319 584h0M324 581h0M329 577h0M421 593h0M419 597h0M416 602h0M414 606h0M414 611h0M300 599h0M295 601h0M347 619h0M347 624h0M346 628h0M420 653h0M425 655h0M428 652h0M433 653h0M291 642h0M330 607h0M326 607h0M321 607h0M318 609h0M314 611h0M429 567h0M433 564h0M406 565h0M411 563h0M416 565h0M428 646h0M431 647h0M410 610h0M408 614h0M407 618h0M406 624h0M405 628h0M409 631h0M409 635h0M407 641h0M403 642h0M399 646h0M397 649h0M296 632h0M300 635h0M304 638h0M310 639h0M479 581h0M475 578h0M474 574h0M473 570h0M470 567h0M467 564h0M289 585h0M294 583h0M368 554h0M372 551h0M376 546h0M379 543h0M383 542h0M428 553h0M433 554h0M438 556h0M441 558h0M425 639h0M421 639h0M416 641h0M412 643h0M409 646h0M338 698h0M340 692h0M342 688h0M343 684h0M430 553h0M424 552h0M421 549h0M424 547h0M427 544h0M427 540h0M423 536h0M329 658h0M329 655h0M349 665h0M351 660h0M355 657h0M359 653h0M362 648h0M363 643h0M364 639h0M408 617h0M408 614h0M403 612h0M399 612h0M394 612h0M391 608h0M390 602h0M345 627h0M347 623h0M459 542h0M454 539h0M451 535h0M447 533h0M442 531h0M439 529h0M324 612h0M329 611h0M332 608h0M336 605h0M339 607h0M344 607h0M402 670h0M398 669h0M477 579h0M472 577h0M469 577h0M464 573h0M462 570h0M459 566h0M465 580h0M470 577h0M474 576h0M418 664h0M423 668h0M427 669h0M470 578h0M466 582h0M462 586h0M463 590h0M343 590h0M347 589h0M368 599h0M373 602h0M331 617h0M335 613h0M339 614h0M326 668h0M330 670h0M335 670h0M337 675h0M338 679h0M341 682h0M345 682h0M307 649h0M307 654h0M307 658h0M307 664h0M357 637h0M353 635h0M350 632h0M317 587h0M313 583h0M458 536h0M463 537h0M467 542h0M467 546h0M462 547h0M458 549h0M304 659h0M303 656h0M302 651h0M369 660h0M372 664h0M371 668h0M372 674h0M374 679h0M391 612h0M392 606h0M394 601h0M393 596h0M386 605h0M383 601h0M379 600h0M375 597h0M377 592h0M382 589h0M425 556h0M422 560h0M424 565h0M428 569h0M433 567h0M434 562h0M437 557h0M481 567h0M477 570h0M473 573h0M467 572h0M302 556h0M307 555h0M313 557h0M370 651h0M368 648h0M363 648h0M420 599h0M415 600h0M410 601h0M405 603h0M402 602h0M397 603h0M394 606h0M431 545h0M432 540h0M434 536h0M439 538h0M444 540h0M449 542h0M455 540h0M420 589h0M416 586h0M411 585h0M341 567h0M344 566h0M349 570h0M351 574h0M354 577h0M356 581h0M359 587h0M279 585h0M281 588h0M284 590h0M282 567h0M287 565h0M291 564h0M395 661h0M399 658h0M404 660h0M408 659h0M412 657h0M299 547h0M302 543h0M294 619h0M291 622h0M290 627h0M293 629h0M420 533h0M425 536h0M428 539h0M351 601h0M354 599h0M359 595h0M362 593h0M367 594h0M372 593h0M460 526h0M463 523h0M419 576h0M417 571h0M379 546h0M383 545h0M387 548h0M390 547h0M394 544h0M318 610h0M314 607h0M459 543h0M463 543h0M466 545h0M387 677h0M391 681h0M395 681h0M399 681h0M403 682h0M406 685h0M288 553h0M286 548h0M318 573h0M316 570h0M318 566h0M318 561h0M318 557h0M318 553h0M301 636h0M305 640h0M309 639h0M312 640h0M317 643h0M319 647h0M323 647h0M410 602h0M409 597h0M407 592h0M404 589h0M400 586h0M307 553h0M310 557h0M313 561h0M429 583h0M432 583h0M435 579h0M439 577h0M444 577h0M345 705h0M344 709h0M344 714h0M367 552h0M370 547h0M371 543h0M376 542h0M381 544h0M385 544h0M311 594h0M311 590h0M418 607h0M414 605h0M409 602h0M313 688h0M343 635h0M344 639h0M347 642h0M448 635h0M452 634h0M456 631h0M425 635h0M423 631h0M419 629h0M415 627h0M409 628h0M405 631h0M402 628h0M334 603h0M336 600h0M331 693h0M330 697h0M327 702h0M323 704h0M320 706h0M443 578h0M445 581h0M445 585h0M456 628h0M454 631h0M451 636h0M450 641h0M447 645h0M332 664h0M332 670h0M333 675h0M334 680h0M336 684h0M463 612h0M467 615h0M280 564h0M277 568h0M275 570h0M308 604h0M305 608h0M307 613h0M308 618h0M309 623h0M307 627h0M303 631h0M320 612h0M324 611h0M328 611h0M330 613h0M318 595h0M319 600h0M318 605h0M319 609h0M319 613h0M319 617h0M317 622h0M338 690h0M339 685h0M447 629h0M451 629h0M456 630h0M412 626h0M411 622h0M409 616h0M407 613h0M405 609h0M419 675h0M423 673h0M427 669h0M343 668h0M342 672h0M345 675h0M349 676h0M353 678h0M358 675h0M396 661h0M392 661h0M389 664h0M385 666h0M380 668h0M323 553h0M318 552h0M313 551h0M353 665h0M349 668h0M345 667h0M342 663h0M395 601h0M396 604h0M399 609h0M404 611h0M409 610h0M345 570h0M340 573h0M336 572h0M332 576h0M328 575h0M323 572h0M321 567h0M467 555h0M470 560h0M346 659h0M350 659h0M353 658h0M358 656h0M360 650h0M355 649h0M362 572h0M360 568h0M359 564h0M360 559h0M361 554h0M364 550h0M369 551h0M345 617h0M343 620h0M342 624h0M341 628h0M342 632h0M344 637h0M420 575h0M418 570h0M415 568h0M389 573h0M393 571h0M396 570h0M401 572h0M296 624h0M299 625h0M302 622h0M302 618h0M299 615h0M294 614h0M374 599h0M369 597h0M389 656h0M385 653h0M382 650h0M382 646h0M384 643h0M448 572h0M452 573h0M455 575h0M346 627h0M342 627h0M385 597h0M382 599h0M378 603h0M379 607h0M379 611h0M389 656h0M384 652h0M379 650h0M376 647h0M363 703h0M461 520h0M476 608h0M480 602h0M422 519h0M378 533h0M344 713h0M385 695h0M429 516h0M427 672h0M425 517h0M302 663h0M431 667h0M461 523h0M382 531h0M423 683h0M440 519h0M310 702h0M303 667h0M306 677h0M314 537h0M306 675h0M309 670h0M485 567h0M313 540h0M483 601h0M486 588h0M460 626h0M268 586h0M487 545h0M428 669h0M481 592h0M337 715h0M411 522h0M471 528h0M280 549h0M393 530h0M361 540h0M289 546h0M307 541h0M367 541h0M272 591h0M360 541h0M388 530h0M468 521h0M304 531h0M278 623h0M368 529h0M300 662h0M458 631h0M308 696h0M273 609h0M324 718h0M343 725h0M370 533h0M478 526h0M466 641h0M404 519h0M417 517h0M328 531h0M284 643h0M342 538h0M394 693h0M403 525h0M307 677h0M336 491h0M364 517h0M369 501h0M438 533h0M402 491h0M346 500h0M363 517h0M363 505h0M351 538h0M349 530h0M408 515h0M391 500h0M476 530h0"/>
<path stroke="#00BF7D" d="M496 601h0M499 596h0M502 592h0M503 586h0M500 582h0M499 579h0M498 574h0M539 523h0M537 528h0M569 562h0M573 561h0M577 559h0M675 590h0M674 585h0M674 579h0M669 577h0M666 573h0M686 528h0M682 527h0M679 531h0M674 531h0M670 527h0M667 525h0M663 527h0M639 507h0M637 503h0M637 499h0M637 493h0M635 489h0M510 615h0M516 616h0M521 617h0M525 622h0M526 626h0M618 570h0M622 570h0M659 563h0M654 563h0M650 565h0M645 567h0M616 547h0M620 546h0M624 544h0M627 546h0M629 543h0M632 541h0M636 537h0M693 628h0M698 631h0M705 630h0M707 626h0M711 625h0M716 624h0M589 548h0M584 546h0M581 549h0M594 499h0M589 498h0M585 498h0M581 501h0M577 500h0M572 499h0M649 604h0M647 607h0M645 610h0M641 613h0M510 581h0M512 576h0M669 537h0M672 539h0M589 545h0M593 547h0M599 550h0M604 553h0M533 529h0M529 532h0M524 531h0M521 532h0M515 530h0M510 529h0M560 601h0M561 597h0M562 592h0M563 589h0M606 648h0M601 651h0M596 652h0M591 654h0M588 650h0M584 646h0M507 544h0M503 545h0M550 505h0M551 510h0M551 514h0M554 517h0M556 520h0M559 523h0M597 528h0M601 526h0M604 521h0M608 520h0M610 516h0M612 512h0M677 542h0M672 540h0M669 538h0M667 534h0M663 534h0M658 530h0M657 526h0M591 497h0M588 502h0M584 504h0M579 504h0M575 507h0M572 508h0M674 609h0M671 612h0M670 616h0M671 621h0M670 627h0M667 629h0M662 630h0M520 556h0M525 553h0M528 550h0M530 546h0M531 542h0M604 535h0M607 536h0M611 535h0M612 531h0M612 527h0M552 504h0M548 509h0M544 512h0M538 514h0M533 515h0M529 519h0M559 666h0M564 663h0M567 658h0M571 655h0M577 656h0M513 527h0M512 531h0M513 534h0M514 539h0M516 542h0M594 559h0M594 564h0M594 569h0M593 575h0M588 576h0M494 588h0M498 585h0M504 585h0M507 587h0M513 589h0M517 587h0M520 585h0M637 650h0M641 651h0M642 657h0M645 661h0M649 662h0M661 636h0M658 633h0M653 633h0M652 637h0M653 641h0M534 534h0M539 535h0M543 539h0M547 541h0M570 543h0M567 543h0M603 658h0M605 656h0M593 630h0M590 626h0M585 625h0M579 624h0M575 623h0M655 602h0M659 604h0M483 550h0M483 545h0M484 541h0M486 538h0M614 654h0M612 651h0M609 647h0M608 642h0M610 639h0M605 637h0M534 541h0M532 536h0M535 531h0M540 531h0M543 528h0M540 524h0M534 522h0M494 565h0M491 561h0M491 557h0M507 500h0M505 506h0M502 508h0M497 509h0M617 632h0M622 629h0M624 626h0M628 624h0M631 626h0M633 631h0M668 620h0M668 616h0M566 638h0M569 634h0M573 631h0M574 627h0M574 624h0M575 620h0M661 663h0M531 652h0M528 648h0M528 644h0M531 639h0M651 596h0M656 595h0M661 595h0M664 589h0M707 599h0M712 601h0M717 603h0M721 605h0M725 603h0M730 603h0M535 662h0M531 660h0M526 661h0M694 612h0M696 616h0M696 620h0M505 536h0M508 539h0M511 543h0M515 545h0M625 624h0M628 622h0M633 625h0M637 624h0M641 624h0M633 579h0M637 582h0M642 582h0M644 579h0M540 640h0M541 635h0M544 630h0M546 626h0M551 624h0M556 625h0M560 625h0M620 576h0M623 574h0M627 575h0M633 574h0M671 634h0M671 638h0M671 642h0M493 560h0M492 565h0M490 571h0M488 574h0M487 578h0M587 563h0M592 561h0M596 558h0M601 557h0M604 556h0M605 551h0M619 561h0M623 558h0M626 559h0M630 560h0M634 562h0M640 562h0M561 634h0M566 633h0M567 627h0M572 627h0M577 626h0M581 625h0M586 622h0M630 652h0M629 647h0M625 645h0M615 562h0M621 561h0M625 562h0M628 565h0M633 568h0M630 572h0M551 636h0M550 632h0M532 568h0M534 564h0M539 563h0M543 564h0M526 500h0M525 503h0M524 508h0M526 513h0M523 517h0M519 520h0M514 521h0M588 607h0M587 604h0M586 600h0M563 514h0M558 513h0M552 513h0M547 512h0M544 515h0M539 517h0M537 584h0M540 589h0M545 591h0M548 595h0M706 560h0M708 564h0M707 569h0M708 574h0M544 582h0M545 579h0M544 574h0M545 570h0M548 565h0M553 562h0M720 603h0M722 608h0M725 612h0M597 608h0M596 602h0M593 599h0M588 598h0M585 595h0M581 597h0M587 622h0M582 624h0M499 581h0M502 584h0M501 588h0M499 592h0M496 595h0M490 596h0M689 594h0M691 589h0M693 586h0M693 582h0M692 579h0M690 574h0M688 571h0M589 581h0M584 579h0M583 576h0M580 572h0M576 572h0M572 570h0M621 676h0M624 677h0M623 681h0M638 578h0M633 580h0M629 582h0M625 581h0M621 582h0M616 583h0M612 585h0M664 613h0M669 612h0M673 610h0M673 605h0M671 601h0M509 644h0M505 644h0M713 561h0M711 558h0M501 531h0M501 527h0M500 523h0M495 522h0M490 523h0M487 521h0M483 518h0M666 567h0M669 567h0M671 571h0M670 576h0M671 581h0M674 586h0M622 556h0M625 552h0M622 548h0M619 546h0M497 611h0M493 611h0M590 533h0M593 538h0M549 574h0M545 570h0M543 567h0M539 567h0M535 570h0M530 572h0M526 574h0M590 523h0M588 520h0M584 518h0M582 515h0M582 510h0M578 506h0M572 505h0M656 606h0M654 603h0M576 612h0M573 616h0M569 620h0M565 620h0M561 622h0M556 625h0M552 627h0M521 602h0M526 601h0M531 601h0M683 606h0M677 606h0M678 602h0M676 597h0M675 592h0M589 652h0M583 650h0M581 653h0M579 657h0M580 661h0M550 666h0M553 668h0M561 671h0M650 645h0M646 646h0M642 649h0M683 562h0M686 562h0M690 564h0M695 563h0M490 563h0M494 564h0M499 563h0M503 558h0M504 554h0M504 549h0M504 545h0M501 610h0M499 615h0M496 618h0M496 551h0M502 548h0M504 544h0M508 541h0M513 538h0M517 538h0M521 535h0M511 630h0M513 634h0M515 639h0M518 642h0M522 643h0M524 646h0M524 650h0M691 616h0M694 621h0M544 643h0M548 641h0M552 642h0M556 639h0M585 599h0M585 605h0M584 609h0M588 612h0M732 600h0M730 594h0M729 590h0M572 637h0M567 637h0M670 511h0M667 507h0M665 503h0M661 500h0M656 499h0M652 499h0M631 521h0M628 525h0M626 530h0M628 535h0M629 540h0M634 543h0M505 586h0M509 589h0M512 593h0M516 594h0M519 592h0M523 591h0M525 596h0M575 563h0M579 564h0M584 565h0M535 538h0M530 537h0M526 536h0M525 532h0M526 527h0M600 602h0M602 598h0M605 594h0M607 590h0M609 587h0M609 583h0M608 578h0M688 601h0M687 606h0M686 610h0M682 612h0M680 615h0M678 620h0M697 562h0M701 566h0M706 567h0M708 571h0M712 570h0M714 564h0M716 561h0M565 605h0M569 607h0M574 604h0M579 606h0M582 609h0M538 558h0M543 559h0M548 561h0M552 563h0M555 568h0M643 662h0M648 663h0M653 660h0M517 577h0M516 573h0M512 570h0M613 548h0M608 547h0M603 546h0M598 548h0M610 516h0M612 520h0M614 525h0M619 529h0M622 533h0M651 540h0M649 545h0M690 605h0M693 608h0M697 607h0M700 606h0M703 603h0M709 601h0M496 587h0M495 590h0M493 595h0M493 598h0M656 557h0M660 556h0M666 555h0M671 556h0M489 529h0M491 525h0M496 526h0M500 528h0M641 671h0M638 675h0M633 676h0M628 677h0M613 584h0M618 584h0M623 588h0M626 589h0M632 590h0M636 527h0M639 523h0M524 516h0M525 512h0M569 635h0M571 639h0M576 641h0M579 643h0M613 548h0M609 549h0M605 552h0M602 549h0M598 549h0M592 548h0M531 646h0M531 651h0M528 656h0M524 655h0M520 651h0M520 646h0M528 572h0M533 574h0M535 577h0M601 556h0M603 561h0M604 565h0M601 570h0M597 574h0M676 562h0M674 566h0M527 507h0M527 511h0M524 515h0M522 518h0M531 499h0M531 503h0M532 508h0M534 512h0M538 509h0M544 509h0M578 510h0M574 510h0M569 510h0M566 512h0M565 517h0M565 521h0M569 524h0M700 555h0M696 551h0M695 546h0M729 596h0M731 599h0M734 600h0M536 503h0M539 506h0M542 508h0M547 510h0M533 611h0M532 616h0M529 618h0M527 623h0M525 627h0M697 595h0M695 592h0M689 591h0M688 588h0M686 584h0M685 579h0M512 617h0M510 613h0M504 614h0M501 617h0M497 618h0M494 621h0M550 557h0M545 557h0M540 557h0M632 575h0M627 574h0M625 569h0M551 536h0M547 540h0M545 545h0M547 549h0M551 552h0M554 555h0M622 518h0M626 520h0M643 522h0M644 518h0M645 514h0M648 512h0M651 509h0M510 646h0M513 643h0M517 639h0M519 633h0M523 629h0M527 626h0M531 623h0M506 564h0M509 568h0M512 569h0M514 572h0M660 607h0M660 602h0M714 614h0M714 620h0M716 625h0M547 562h0M547 559h0M544 554h0M543 551h0M539 549h0M650 538h0M649 535h0M650 529h0M649 524h0M648 518h0M651 514h0M655 513h0M614 556h0M615 551h0M614 547h0M618 547h0M624 548h0M536 604h0M539 604h0M542 608h0M544 612h0M543 617h0M542 621h0M547 623h0M553 656h0M553 660h0M692 542h0M695 543h0M699 547h0M701 551h0M700 554h0M702 559h0M648 576h0M646 582h0M645 586h0M644 591h0M641 594h0M636 595h0M517 571h0M512 569h0M508 567h0M507 572h0M503 575h0M501 579h0M665 648h0M669 645h0M673 640h0M675 637h0M510 587h0M506 584h0M504 579h0M503 573h0M498 570h0M493 572h0M684 639h0M688 637h0M693 635h0M697 635h0M515 582h0M512 578h0M507 579h0M502 578h0M498 575h0M495 571h0M493 566h0M521 568h0M516 568h0M511 566h0M506 566h0M641 555h0M639 559h0M602 637h0M608 638h0M612 666h0M612 662h0M617 661h0M622 662h0M627 664h0M629 670h0M656 589h0M652 593h0M648 596h0M644 596h0M640 595h0M580 634h0M580 639h0M579 644h0M582 647h0M586 643h0M588 640h0M589 637h0M587 529h0M582 525h0M579 528h0M498 499h0M495 497h0M559 544h0M564 545h0M534 563h0M528 562h0M525 565h0M696 572h0M694 576h0M690 580h0M686 580h0M683 584h0M683 590h0M679 590h0M517 593h0M519 597h0M524 597h0M528 593h0M532 591h0M536 590h0M540 590h0M512 561h0M510 565h0M506 569h0M502 569h0M497 570h0M493 571h0M491 574h0M617 525h0M615 521h0M611 518h0M605 525h0M604 521h0M650 545h0M649 541h0M648 536h0M648 530h0M651 525h0M651 522h0M648 669h0M519 527h0M514 527h0M513 532h0M509 534h0M506 531h0M504 529h0M667 538h0M671 537h0M675 534h0M678 531h0M508 613h0M507 609h0M505 604h0M580 575h0M582 578h0M582 581h0M584 584h0M588 586h0M593 589h0M655 509h0M653 513h0M657 515h0M655 521h0M654 525h0M549 608h0M551 611h0M556 611h0M561 609h0M566 609h0M570 607h0M570 604h0M553 530h0M548 529h0M663 591h0M661 588h0M630 622h0M626 621h0M622 624h0M617 628h0M613 630h0M608 634h0M607 638h0M581 534h0M578 531h0M575 530h0M590 545h0M589 541h0M591 536h0M578 613h0M579 609h0M579 604h0M580 599h0M581 593h0M580 589h0M576 588h0M650 652h0M650 656h0M644 658h0M641 656h0M629 588h0M634 588h0M638 587h0M505 537h0M501 538h0M624 530h0M627 525h0M627 521h0M623 517h0M618 517h0M613 519h0M608 518h0M523 521h0M520 526h0M523 529h0M525 534h0M525 539h0M668 534h0M664 533h0M659 531h0M653 531h0M650 528h0M644 527h0M541 508h0M545 509h0M548 512h0M551 518h0M551 523h0M551 528h0M552 532h0M706 611h0M710 611h0M711 606h0M716 603h0M506 508h0M506 513h0M506 517h0M503 521h0M501 524h0M664 617h0M658 615h0M656 613h0M652 613h0M712 615h0M713 611h0M543 610h0M545 615h0M540 618h0M536 617h0M531 615h0M526 612h0M685 518h0M689 516h0M558 647h0M556 644h0M670 642h0M674 639h0M678 635h0M680 631h0M681 626h0M682 623h0M571 582h0M575 583h0M579 585h0M584 587h0M589 590h0M591 593h0M597 593h0M625 662h0M627 656h0M629 652h0M632 648h0M630 643h0M619 645h0M615 646h0M609 647h0M501 526h0M500 522h0M504 517h0M608 662h0M610 666h0M611 670h0M613 674h0M617 676h0M620 678h0M685 603h0M683 609h0M679 611h0M675 611h0M671 609h0M668 608h0M665 605h0M571 627h0M576 625h0M581 624h0M587 621h0M711 570h0M712 574h0M712 579h0M713 583h0M716 586h0M486 506h0M491 504h0M496 503h0M500 502h0M503 504h0M506 508h0M693 551h0M689 549h0M685 550h0M681 549h0M667 533h0M671 531h0M675 530h0M680 530h0M564 616h0M560 619h0M555 620h0M554 625h0M626 546h0M622 549h0M617 547h0M614 545h0M612 542h0M614 538h0M586 555h0M586 560h0M589 565h0M708 598h0M704 596h0M628 598h0M632 597h0M636 597h0M640 598h0M645 597h0M649 599h0M504 576h0M504 580h0M506 586h0M566 539h0M562 537h0M515 592h0M521 593h0M525 593h0M529 593h0M534 593h0M532 608h0M536 611h0M540 612h0M543 615h0M549 614h0M553 611h0M555 608h0M648 517h0M643 517h0M639 518h0M634 515h0M635 511h0M636 508h0M641 506h0M650 515h0M645 515h0M581 551h0M577 554h0M577 559h0M579 564h0M579 568h0M581 571h0M652 613h0M657 613h0M661 617h0M665 622h0M669 626h0M671 629h0M726 590h0M723 593h0M720 595h0M717 599h0M713 602h0M708 604h0M706 607h0M620 622h0M623 623h0M629 625h0M633 626h0M638 627h0M642 628h0M602 612h0M597 610h0M723 602h0M718 604h0M572 572h0M571 577h0M573 579h0M576 583h0M578 586h0M580 589h0M579 593h0M595 620h0M598 623h0M601 626h0M606 630h0M608 634h0M610 638h0M613 642h0M535 593h0M534 597h0M534 601h0M532 605h0M530 609h0M531 613h0M588 633h0M585 630h0M582 628h0M493 557h0M497 558h0M500 561h0M502 564h0M503 569h0M503 573h0M537 667h0M532 665h0M530 660h0M526 657h0M522 656h0M517 655h0M625 607h0M622 611h0M623 615h0M629 615h0M632 614h0M680 518h0M683 521h0M685 526h0M682 530h0M506 599h0M502 601h0M496 601h0M491 604h0M687 637h0M685 640h0M681 644h0M676 647h0M671 648h0M552 565h0M551 561h0M546 559h0M541 556h0M538 560h0M535 563h0M548 645h0M552 648h0M556 651h0M562 653h0M565 656h0M569 658h0M630 590h0M634 595h0M638 598h0M642 602h0M645 605h0M630 630h0M626 634h0M624 637h0M621 642h0M543 524h0M546 521h0M551 519h0M556 516h0M544 651h0M549 649h0M554 647h0M559 648h0M563 649h0M568 648h0M545 665h0M550 662h0M555 659h0M556 655h0M555 652h0M552 650h0M547 649h0M666 651h0M671 655h0M704 569h0M701 565h0M696 562h0M692 561h0M690 557h0M689 552h0M531 594h0M537 593h0M541 595h0M546 595h0M550 592h0M552 587h0M602 635h0M599 640h0M599 644h0M602 644h0M687 597h0M688 593h0M688 589h0M690 583h0M690 578h0M625 578h0M622 581h0M617 584h0M612 586h0M609 588h0M488 512h0M491 510h0M531 535h0M532 539h0M533 544h0M530 547h0M680 553h0M681 558h0M678 561h0M673 561h0M668 564h0M513 546h0M513 542h0M509 540h0M510 534h0M513 530h0M514 525h0M516 522h0M520 624h0M514 623h0M627 656h0M621 655h0M616 658h0M611 657h0M608 653h0M605 650h0M601 648h0M650 588h0M652 592h0M613 627h0M617 626h0M618 622h0M620 617h0M621 613h0M623 608h0M606 562h0M607 566h0M606 572h0M605 575h0M573 583h0M573 589h0M570 591h0M568 594h0M564 595h0M512 620h0M509 617h0M507 613h0M508 609h0M512 605h0M517 605h0M518 599h0M605 529h0M603 535h0M600 540h0M579 569h0M581 572h0M585 573h0M588 569h0M635 652h0M631 653h0M627 654h0M623 653h0M620 651h0M570 629h0M566 629h0M561 632h0M556 630h0M551 628h0M549 623h0M672 628h0M670 631h0M671 636h0M673 641h0M671 644h0M667 645h0M611 669h0M614 672h0M610 674h0M548 633h0M546 628h0M542 628h0M543 622h0M547 620h0M549 616h0M550 612h0M601 516h0M606 518h0M610 519h0M548 584h0M545 587h0M543 591h0M539 593h0M536 591h0M535 586h0M510 509h0M514 511h0M520 513h0M524 512h0M550 528h0M547 530h0M545 533h0M544 537h0M675 546h0M679 545h0M683 544h0M689 541h0M656 659h0M659 662h0M660 667h0M709 619h0M713 615h0M712 611h0M710 606h0M711 600h0M714 596h0M530 595h0M534 590h0M539 591h0M543 591h0M547 591h0M550 588h0M554 585h0M535 662h0M537 658h0M534 654h0M530 652h0M527 655h0M522 659h0M617 522h0M620 524h0M623 528h0M626 532h0M630 531h0M632 525h0M573 522h0M577 519h0M581 519h0M586 520h0M577 628h0M576 632h0M579 635h0M582 632h0M586 633h0M496 507h0M499 502h0M503 499h0M689 597h0M685 595h0M682 597h0M678 602h0M677 605h0M707 600h0M711 603h0M715 607h0M718 610h0M722 613h0M726 616h0M726 621h0M516 564h0M521 563h0M525 559h0M528 564h0M534 564h0M540 565h0M544 567h0M512 530h0M517 534h0M519 539h0M521 544h0M522 549h0M523 553h0M504 601h0M508 603h0M512 607h0M516 610h0M522 611h0M527 612h0M552 593h0M549 588h0M546 583h0M547 578h0M551 574h0M553 568h0M553 563h0M610 625h0M606 622h0M601 621h0M597 622h0M593 623h0M588 625h0M584 627h0M493 512h0M491 515h0M486 517h0M484 522h0M556 543h0M552 546h0M546 548h0M620 544h0M614 545h0M609 547h0M604 545h0M600 545h0M599 541h0M600 535h0M617 661h0M620 664h0M621 668h0M550 524h0M546 523h0M542 522h0M613 539h0M613 544h0M614 547h0M616 550h0M620 554h0M622 557h0M702 563h0M701 558h0M630 647h0M632 644h0M635 641h0M640 638h0M642 633h0M565 504h0M564 508h0M561 513h0M558 517h0M585 625h0M581 622h0M577 619h0M574 615h0M570 614h0M566 616h0M562 620h0M597 498h0M593 499h0M588 501h0M583 504h0M582 510h0M579 515h0M580 518h0M668 658h0M665 660h0M660 662h0M657 665h0M652 665h0M649 667h0M645 668h0M582 541h0M586 542h0M590 541h0M595 540h0M600 538h0M606 539h0M609 543h0M583 653h0M588 655h0M593 657h0M503 618h0M505 623h0M507 626h0M511 630h0M516 632h0M521 632h0M695 623h0M694 617h0M695 613h0M595 652h0M594 657h0M592 660h0M700 598h0M701 602h0M703 606h0M706 608h0M526 656h0M530 654h0M535 656h0M615 539h0M612 542h0M610 547h0M608 551h0M602 553h0M649 546h0M653 548h0M655 552h0M652 557h0M707 617h0M709 620h0M608 659h0M604 658h0M592 632h0M596 633h0M600 633h0M603 638h0M606 641h0M611 643h0M507 562h0M505 566h0M508 569h0M510 572h0M514 574h0M513 578h0M613 653h0M613 649h0M616 644h0M619 641h0M623 638h0M628 638h0M570 610h0M573 607h0M575 605h0M579 604h0M582 599h0M671 572h0M671 566h0M672 561h0M511 554h0M509 557h0M507 563h0M503 560h0M498 558h0M686 573h0M690 576h0M695 573h0M718 606h0M717 610h0M715 614h0M496 610h0M492 610h0M491 603h0M495 603h0M500 601h0M506 599h0M620 513h0M623 509h0M629 509h0M633 510h0M637 513h0M515 569h0M511 570h0M507 565h0M505 561h0M680 641h0M677 639h0M674 635h0M672 630h0M562 651h0M559 647h0M556 643h0M552 643h0M505 572h0M506 577h0M510 578h0M515 577h0M520 580h0M645 662h0M646 665h0M642 670h0M641 675h0M526 508h0M522 506h0M518 508h0M514 511h0M510 513h0M507 516h0M630 511h0M629 516h0M632 518h0M605 648h0M600 645h0M622 514h0M620 519h0M624 521h0M627 523h0M499 506h0M497 510h0M494 514h0M489 516h0M486 520h0M486 524h0M487 529h0M675 562h0M676 566h0M679 568h0M523 536h0M527 538h0M528 544h0M525 546h0M683 546h0M686 543h0M687 540h0M687 534h0M690 531h0M695 529h0M694 525h0M563 517h0M562 521h0M563 526h0M561 532h0M636 531h0M639 527h0M642 525h0M644 520h0M645 515h0M648 513h0M653 513h0M615 570h0M614 574h0M653 557h0M650 560h0M645 562h0M644 557h0M501 580h0M499 585h0M498 589h0M495 591h0M490 594h0M550 668h0M554 668h0M559 667h0M563 666h0M567 666h0M570 663h0M570 659h0M535 606h0M537 604h0M542 604h0M546 606h0M550 607h0M554 609h0M555 613h0M640 587h0M645 586h0M650 584h0M652 580h0M653 577h0M652 572h0M566 558h0M567 553h0M567 550h0M562 546h0M608 511h0M612 511h0M616 514h0M620 513h0M623 509h0M622 505h0M547 522h0M551 520h0M554 556h0M549 554h0M546 551h0M544 546h0M542 542h0M639 658h0M641 653h0M643 649h0M666 585h0M670 587h0M674 589h0M646 521h0M642 523h0M681 602h0M684 605h0M687 608h0M691 609h0M695 609h0M532 575h0M531 578h0M533 583h0M537 586h0M537 591h0M541 594h0M545 597h0M616 529h0M620 527h0M625 525h0M630 522h0M633 520h0M636 521h0M582 658h0M582 654h0M586 650h0M588 646h0M590 641h0M590 637h0M590 631h0M631 676h0M626 510h0M623 506h0M620 502h0M672 550h0M675 546h0M678 546h0M683 550h0M683 553h0M687 557h0M675 542h0M671 540h0M666 541h0M662 538h0M663 533h0M663 528h0M659 526h0M650 499h0M599 512h0M603 510h0M607 509h0M610 506h0M633 528h0M635 531h0M636 536h0M637 540h0M640 545h0M642 551h0M573 596h0M569 596h0M565 597h0M562 600h0M557 603h0M683 612h0M684 607h0M684 603h0M633 502h0M628 502h0M626 506h0M624 511h0M623 516h0M598 613h0M599 608h0M601 604h0M601 600h0M602 596h0M603 591h0M683 652h0M506 643h0M693 520h0M642 673h0M574 496h0M657 673h0M483 589h0M511 648h0M655 499h0M721 627h0M533 667h0M671 503h0M476 509h0M716 627h0M679 510h0M481 572h0M551 499h0M719 566h0M500 496h0M583 667h0M703 633h0M612 679h0M729 588h0M690 517h0M592 492h0M519 656h0M701 527h0M712 630h0M678 657h0M733 617h0M722 579h0M702 527h0M697 524h0M480 563h0M491 609h0M698 526h0M561 496h0M733 611h0M636 487h0M583 493h0M487 603h0M567 497h0M714 554h0M677 657h0M597 666h0M612 488h0M665 504h0M695 508h0M673 667h0M549 680h0M512 657h0M480 499h0M627 490h0M624 487h0M693 640h0M716 535h0M567 668h0M473 583h0M522 665h0M544 683h0M483 607h0M487 636h0M467 506h0M480 525h0M672 497h0M493 625h0M502 654h0M725 558h0M740 587h0M597 672h0M506 496h0M510 492h0M514 491h0M516 494h0M522 496h0M527 495h0M532 495h0M554 500h0M552 495h0M549 493h0M546 491h0M542 487h0M539 484h0M544 481h0M544 475h0M494 482h0M493 478h0M583 488h0M587 492h0M586 498h0M582 497h0M579 494h0M575 491h0M572 489h0M633 480h0M632 476h0M628 473h0M529 469h0M532 466h0M538 465h0M542 466h0M506 483h0M501 481h0M499 484h0M495 486h0M491 490h0M489 493h0M532 459h0M529 457h0M526 454h0M521 455h0M564 498h0M567 502h0M621 466h0M626 463h0M514 484h0M510 484h0M574 470h0M579 469h0M585 469h0M590 467h0M589 461h0M628 476h0M634 475h0M612 459h0M613 454h0M613 450h0M546 484h0M550 483h0M591 488h0M589 483h0M585 479h0M608 455h0M504 476h0M510 474h0M514 474h0M517 473h0M601 493h0M633 480h0M632 485h0M628 488h0M623 489h0M623 493h0M560 479h0M562 476h0M564 471h0M562 468h0M558 465h0M557 462h0M553 458h0M573 464h0M575 461h0M577 457h0M535 474h0M530 476h0M526 479h0M522 477h0M518 478h0M578 471h0M581 474h0M586 477h0M589 476h0M592 473h0M540 459h0M541 463h0M541 468h0M543 472h0M548 475h0M554 476h0M579 489h0M583 487h0M585 483h0M583 480h0M584 475h0M490 499h0M492 503h0M515 482h0M510 482h0M598 466h0M599 472h0M632 487h0M635 486h0M550 475h0M551 480h0M551 484h0M552 489h0M581 477h0M577 478h0M528 497h0M531 501h0M586 471h0M581 471h0M565 465h0M564 462h0M561 459h0M485 506h0M618 496h0M509 460h0M644 494h0M491 509h0M588 458h0M570 500h0M640 473h0M622 455h0M489 467h0M519 504h0M642 495h0M523 503h0M647 498h0M556 455h0M624 454h0M511 455h0M556 452h0M510 514h0M657 505h0M488 506h0M575 501h0"/>
<path stroke="#619CFF" d="M513 737h0M518 734h0M523 734h0M527 734h0M471 694h0M467 693h0M462 691h0M458 691h0M452 692h0M448 694h0M444 690h0M401 742h0M396 741h0M392 740h0M462 627h0M458 630h0M472 671h0M478 671h0M428 725h0M423 721h0M454 662h0M453 658h0M449 655h0M445 652h0M440 653h0M432 705h0M427 705h0M424 702h0M422 698h0M422 693h0M432 690h0M429 687h0M454 729h0M456 726h0M458 721h0M461 718h0M458 713h0M454 711h0M464 777h0M468 774h0M387 762h0M390 764h0M391 770h0M391 774h0M392 779h0M502 651h0M504 655h0M507 658h0M507 664h0M506 668h0M502 672h0M377 712h0M376 708h0M381 736h0M379 740h0M376 744h0M457 761h0M459 764h0M463 766h0M464 769h0M491 668h0M489 672h0M485 675h0M480 676h0M475 679h0M472 683h0M433 792h0M434 787h0M435 781h0M370 772h0M373 776h0M377 776h0M379 779h0M434 800h0M436 796h0M443 748h0M439 749h0M433 752h0M431 755h0M428 757h0M349 743h0M352 746h0M422 805h0M422 810h0M419 813h0M419 817h0M350 752h0M355 755h0M354 760h0M354 765h0M496 728h0M491 725h0M492 721h0M491 716h0M491 712h0M492 729h0M495 724h0M495 719h0M492 716h0M494 711h0M496 707h0M461 712h0M457 715h0M452 718h0M450 720h0M483 674h0M487 675h0M490 674h0M493 668h0M442 728h0M439 731h0M439 734h0M444 736h0M447 735h0M451 734h0M456 733h0M370 716h0M374 721h0M373 724h0M374 729h0M374 733h0M495 673h0M491 668h0M486 666h0M488 662h0M487 656h0M512 717h0M513 712h0M511 708h0M511 703h0M511 699h0M455 777h0M457 772h0M453 770h0M519 742h0M515 742h0M511 743h0M506 741h0M444 747h0M439 745h0M435 742h0M430 742h0M426 741h0M424 744h0M489 771h0M485 767h0M479 766h0M475 765h0M471 764h0M474 754h0M476 759h0M479 764h0M481 768h0M484 773h0M497 693h0M502 690h0M506 686h0M510 684h0M514 682h0M517 680h0M521 676h0M466 751h0M469 754h0M472 757h0M362 766h0M364 770h0M367 773h0M370 777h0M373 779h0M377 777h0M381 773h0M516 702h0M513 707h0M514 711h0M513 715h0M406 734h0M411 733h0M416 735h0M421 737h0M403 741h0M407 742h0M411 742h0M415 742h0M471 631h0M473 635h0M471 639h0M471 643h0M473 648h0M478 649h0M482 652h0M485 640h0M486 636h0M489 632h0M493 630h0M481 751h0M483 746h0M483 742h0M488 739h0M428 757h0M426 761h0M424 764h0M422 768h0M377 744h0M382 742h0M385 741h0M389 739h0M350 739h0M349 742h0M348 748h0M491 719h0M492 713h0M375 746h0M373 743h0M373 738h0M371 733h0M368 729h0M363 727h0M358 726h0M437 693h0M441 691h0M441 687h0M503 663h0M507 659h0M510 662h0M441 668h0M436 669h0M434 674h0M432 678h0M432 682h0M433 686h0M434 690h0M506 755h0M510 756h0M514 754h0M515 751h0M520 749h0M524 748h0M364 756h0M364 760h0M363 765h0M360 769h0M469 725h0M470 728h0M467 731h0M468 736h0M466 740h0M511 665h0M515 662h0M519 665h0M519 669h0M356 747h0M353 742h0M350 739h0M347 737h0M446 683h0M447 677h0M449 673h0M450 668h0M447 663h0M441 661h0M438 657h0M448 681h0M446 677h0M443 673h0M442 669h0M443 779h0M415 772h0M417 777h0M421 779h0M425 780h0M429 781h0M433 783h0M439 781h0M513 685h0M514 689h0M512 694h0M512 698h0M516 701h0M492 761h0M487 759h0M484 757h0M481 753h0M477 750h0M472 749h0M467 752h0M437 680h0M434 683h0M429 683h0M436 814h0M440 813h0M391 709h0M388 712h0M387 715h0M440 747h0M435 744h0M435 740h0M438 735h0M444 691h0M443 687h0M441 683h0M439 680h0M384 759h0M388 761h0M525 727h0M458 735h0M463 736h0M463 740h0M463 744h0M460 747h0M456 745h0M452 745h0M460 677h0M463 673h0M467 671h0M469 668h0M473 665h0M475 660h0M522 710h0M519 707h0M515 705h0M511 706h0M506 707h0M503 707h0M498 707h0M495 724h0M499 725h0M501 728h0M493 707h0M489 708h0M486 703h0M380 730h0M383 728h0M383 722h0M383 716h0M383 713h0M386 709h0M389 706h0M470 741h0M470 746h0M472 750h0M474 754h0M475 759h0M479 763h0M482 766h0M502 655h0M500 651h0M499 646h0M501 641h0M372 714h0M376 711h0M379 706h0M445 769h0M444 773h0M445 776h0M448 778h0M452 779h0M456 778h0M511 747h0M514 743h0M514 739h0M516 734h0M517 731h0M514 726h0M509 726h0M506 708h0M507 704h0M507 699h0M508 693h0M506 689h0M508 663h0M511 663h0M391 709h0M395 713h0M462 717h0M459 714h0M456 709h0M461 656h0M459 651h0M458 646h0M459 641h0M460 722h0M461 718h0M458 715h0M453 713h0M450 712h0M447 716h0M495 699h0M492 702h0M487 700h0M422 752h0M427 750h0M401 776h0M397 772h0M393 773h0M466 759h0M462 760h0M458 761h0M453 763h0M449 761h0M446 758h0M449 722h0M445 724h0M440 722h0M437 722h0M433 718h0M437 714h0M450 645h0M454 649h0M513 664h0M514 669h0M489 759h0M484 758h0M479 761h0M475 764h0M465 653h0M463 656h0M463 660h0M464 664h0M466 667h0M469 671h0M473 672h0M437 718h0M440 714h0M444 714h0M445 709h0M444 705h0M441 701h0M440 696h0M482 695h0M486 696h0M490 696h0M495 694h0M501 693h0M478 674h0M478 680h0M479 685h0M481 688h0M483 694h0M518 752h0M523 754h0M478 731h0M475 735h0M471 738h0M469 742h0M465 744h0M516 690h0M513 687h0M395 778h0M398 782h0M428 813h0M424 813h0M446 665h0M448 662h0M403 723h0M408 724h0M413 726h0M418 726h0M408 725h0M412 723h0M416 722h0M419 721h0M423 723h0M426 720h0M496 756h0M490 757h0M485 757h0M481 756h0M478 754h0M476 749h0M446 772h0M443 767h0M442 763h0M442 760h0M445 758h0M447 754h0M413 771h0M418 768h0M422 769h0M427 768h0M493 718h0M494 714h0M496 710h0M494 707h0M488 646h0M493 647h0M498 649h0M502 652h0M476 706h0M473 704h0M470 703h0M464 704h0M460 706h0M456 706h0M421 709h0M419 704h0M418 700h0M444 728h0M443 733h0M446 737h0M446 743h0M445 748h0M446 752h0M448 756h0M474 745h0M479 746h0M483 744h0M510 683h0M510 687h0M485 675h0M489 673h0M493 676h0M495 679h0M394 752h0M395 757h0M396 763h0M408 737h0M402 736h0M398 738h0M395 742h0M450 715h0M446 715h0M441 715h0M514 737h0M519 736h0M523 739h0M528 740h0M501 646h0M461 730h0M460 726h0M457 721h0M452 718h0M450 715h0M450 711h0M449 758h0M451 763h0M452 767h0M453 771h0M457 775h0M462 778h0M437 671h0M438 677h0M389 777h0M385 774h0M366 745h0M363 749h0M360 746h0M361 742h0M357 739h0M355 736h0M356 731h0M481 632h0M485 636h0M486 642h0M483 645h0M364 747h0M363 752h0M357 754h0M352 756h0M348 758h0M486 756h0M483 753h0M465 734h0M469 736h0M472 739h0M372 724h0M370 728h0M484 684h0M480 685h0M477 690h0M472 692h0M467 693h0M461 693h0M456 693h0M459 728h0M461 722h0M462 717h0M460 714h0M460 708h0M461 704h0M462 698h0M493 712h0M497 711h0M502 711h0M504 714h0M508 714h0M437 781h0M442 785h0M485 643h0M482 639h0M483 635h0M368 753h0M363 752h0M360 746h0M359 741h0M363 739h0M366 735h0M393 740h0M393 744h0M396 749h0M395 753h0M450 766h0M454 766h0M458 767h0M462 764h0M473 746h0M477 742h0M480 739h0M483 741h0M493 688h0M496 686h0M489 695h0M490 690h0M377 714h0M381 715h0M430 731h0M433 727h0M431 722h0M432 717h0M424 823h0M425 826h0M496 759h0M496 755h0M456 778h0M455 782h0M406 761h0M411 762h0M415 762h0M419 764h0M424 766h0M429 766h0M433 763h0M474 623h0M470 625h0M464 626h0M460 626h0M456 628h0M485 623h0M481 623h0M477 623h0M472 623h0M453 781h0M344 751h0M442 786h0M441 812h0M529 750h0M345 759h0M355 722h0M507 772h0M424 689h0M363 714h0M364 772h0M466 616h0M477 778h0M514 661h0M442 782h0M437 658h0M485 780h0M371 709h0M404 782h0M487 776h0M419 799h0M469 612h0M419 690h0M471 779h0M416 809h0M417 693h0M367 774h0M492 623h0M526 695h0M523 674h0M444 631h0M434 839h0M487 609h0M472 609h0M425 680h0M531 758h0M480 617h0M373 788h0M526 688h0M437 642h0M484 618h0M451 816h0M467 609h0M421 827h0M513 768h0"/>
<path stroke="#FD61D1" d="M279 712h0M277 715h0M275 719h0M270 723h0M267 725h0M251 726h0M247 727h0M244 730h0M240 733h0M237 737h0M275 726h0M272 724h0M267 721h0M266 718h0M265 713h0M263 709h0M267 741h0M272 742h0M276 741h0M281 742h0M286 741h0M290 742h0M286 718h0M290 717h0M293 715h0M297 710h0M302 712h0M307 715h0M256 702h0M251 700h0M242 741h0M247 741h0M251 739h0M251 734h0M251 730h0M252 725h0M281 743h0M276 743h0M271 746h0M269 751h0M266 753h0M261 751h0M250 763h0M250 766h0M217 738h0M218 734h0M218 729h0M250 705h0M251 710h0M251 715h0M254 735h0M252 730h0M283 742h0M287 740h0M291 738h0M295 737h0M301 739h0M212 713h0M217 712h0M263 744h0M259 745h0M254 743h0M224 757h0M228 754h0M240 735h0M237 733h0M233 736h0M234 739h0M236 743h0M274 735h0M269 738h0M265 738h0M261 742h0M255 740h0M251 741h0M247 740h0M257 727h0M252 728h0M251 733h0M248 737h0M245 742h0M275 739h0M278 742h0M282 743h0M286 746h0M290 746h0M274 730h0M277 727h0M246 727h0M241 724h0M237 724h0M232 723h0M227 723h0M244 752h0M244 747h0M243 744h0M239 741h0M236 738h0M272 705h0M213 716h0M214 720h0M215 725h0M216 731h0M216 735h0M272 714h0M276 714h0M280 715h0M284 718h0M287 713h0M285 708h0M251 730h0M250 734h0M249 738h0M248 742h0M246 745h0M286 730h0M289 734h0M291 738h0M289 743h0M289 749h0M233 742h0M228 742h0M224 738h0M224 733h0M224 728h0M224 722h0M222 718h0M250 746h0M248 741h0M246 736h0M248 732h0M254 731h0M258 731h0M276 706h0M280 709h0M281 715h0M282 720h0M285 725h0M288 730h0M291 735h0M228 746h0M232 748h0M234 752h0M233 756h0M291 720h0M295 719h0M224 713h0M220 716h0M204 739h0M204 744h0M202 749h0M291 733h0M292 739h0M295 740h0M300 736h0M218 753h0M212 754h0M210 758h0M206 760h0M212 729h0M215 734h0M238 729h0M236 725h0M235 721h0M236 716h0M235 711h0M240 745h0M244 742h0M246 739h0M248 736h0M249 730h0M254 729h0M282 754h0M282 760h0M240 734h0M245 733h0M248 735h0M253 735h0M257 739h0M253 745h0M250 741h0M256 742h0M261 744h0M266 743h0M252 755h0M250 758h0M250 764h0M252 713h0M252 708h0M261 741h0M262 738h0M266 737h0M270 736h0M274 737h0M279 733h0M283 730h0M223 728h0M224 733h0M227 737h0M226 742h0M223 747h0M220 749h0M248 748h0M249 744h0M253 744h0M256 740h0M237 751h0M242 749h0M245 750h0M239 711h0M234 710h0M226 711h0M224 714h0M225 718h0M229 721h0M253 712h0M247 712h0M244 707h0M287 736h0M291 735h0M292 729h0M212 758h0M216 757h0M220 758h0M225 759h0M225 763h0M209 724h0M205 726h0M302 735h0M304 738h0M252 755h0M248 760h0M247 763h0M242 766h0M245 745h0M249 743h0M294 750h0M290 749h0M221 714h0M216 711h0M217 751h0M220 746h0M219 741h0M218 736h0M220 733h0M223 732h0M217 730h0M220 725h0M221 721h0M222 718h0M222 712h0M214 724h0M218 728h0M215 731h0M267 754h0M270 757h0M274 761h0M278 763h0M282 763h0M267 705h0M271 704h0M276 704h0M280 704h0M283 702h0M202 732h0M254 707h0M258 703h0M295 714h0M293 718h0M292 722h0M247 718h0M242 720h0M239 725h0M260 726h0M260 730h0M264 731h0M251 714h0M250 717h0M248 722h0M244 724h0M215 745h0M209 743h0M206 739h0M204 735h0M200 735h0M229 729h0M228 724h0M226 719h0M222 715h0M217 715h0M214 718h0M213 723h0M290 704h0M264 730h0M264 726h0M265 722h0M266 717h0M293 747h0M296 745h0M301 742h0M299 742h0M295 739h0M290 737h0M288 734h0M286 729h0M284 726h0M273 727h0M277 726h0M283 723h0M287 725h0M292 726h0M297 724h0M303 723h0M301 738h0M310 712h0M259 767h0M299 706h0M236 764h0M269 771h0M215 710h0M198 739h0M303 747h0M300 754h0M246 704h0M207 707h0M223 763h0M302 750h0M269 701h0M303 738h0M197 738h0M303 742h0M220 712h0M312 716h0M226 709h0M247 699h0M264 766h0M242 692h0M212 702h0M275 777h0M198 729h0M196 724h0M267 696h0M224 701h0M288 688h0M260 687h0M303 745h0M241 773h0M192 722h0M223 665h0M224 660h0M260 686h0M264 690h0M263 696h0M259 699h0M218 698h0M219 694h0M219 689h0M232 680h0M233 676h0M234 671h0M235 667h0M220 678h0M220 674h0M218 670h0M215 667h0M254 703h0M253 698h0M248 697h0M247 691h0M248 686h0M226 682h0M223 686h0M219 687h0M216 683h0M257 691h0M254 689h0M228 705h0M228 699h0M253 689h0M255 686h0M256 682h0M259 680h0M219 677h0M219 671h0M221 668h0M224 666h0M228 666h0M232 666h0M237 667h0M226 683h0M223 681h0M217 680h0M213 681h0M209 689h0M213 684h0M214 681h0M217 677h0M220 673h0M234 671h0M233 667h0M229 666h0M260 694h0M262 700h0M216 709h0M212 707h0M208 705h0M249 700h0M253 697h0M249 697h0M253 693h0M253 682h0M249 682h0M247 685h0M229 656h0M236 668h0M245 682h0M249 684h0M261 715h0M223 686h0M212 668h0M265 684h0M203 678h0M206 681h0M217 665h0M262 685h0M217 717h0M219 713h0M208 667h0M238 700h0M261 686h0M263 673h0M228 692h0M210 660h0M260 678h0M249 725h0M265 689h0M235 728h0M261 664h0M218 655h0M240 685h0"/>
<path stroke="#C99800" d="M582 386h0M579 388h0M592 397h0M587 394h0M581 393h0M577 390h0M551 379h0M584 373h0M580 372h0M569 422h0M571 426h0M574 431h0M603 387h0M603 382h0M605 378h0M607 375h0M610 371h0M598 341h0M603 340h0M607 343h0M612 343h0M615 347h0M617 352h0M620 354h0M566 414h0M560 417h0M557 421h0M584 347h0M582 343h0M578 342h0M598 385h0M601 380h0M602 374h0M601 370h0M604 368h0M609 371h0M585 374h0M588 377h0M589 380h0M590 385h0M595 386h0M580 409h0M582 405h0M587 403h0M591 402h0M571 410h0M575 413h0M574 416h0M585 368h0M589 369h0M592 365h0M593 360h0M595 355h0M562 422h0M558 425h0M554 429h0M589 370h0M584 367h0M587 376h0M585 372h0M557 420h0M561 424h0M564 428h0M574 331h0M569 408h0M566 406h0M562 402h0M558 399h0M555 396h0M556 394h0M552 390h0M578 380h0M579 384h0M582 386h0M583 390h0M583 395h0M582 400h0M570 385h0M575 387h0M574 391h0M570 394h0M568 399h0M566 402h0M594 382h0M592 377h0M591 372h0M587 370h0M583 370h0M579 370h0M574 368h0M583 367h0M586 364h0M589 360h0M598 386h0M602 385h0M605 384h0M606 379h0M611 376h0M584 350h0M587 353h0M593 355h0M596 353h0M600 349h0M604 346h0M608 344h0M614 354h0M612 350h0M608 350h0M604 352h0M583 394h0M582 398h0M583 402h0M587 407h0M590 410h0M569 346h0M564 345h0M559 348h0M556 352h0M554 356h0M557 428h0M557 424h0M596 388h0M593 389h0M588 389h0M583 391h0M579 393h0M576 391h0M572 390h0M607 362h0M604 360h0M600 356h0M566 386h0M563 384h0M558 382h0M556 377h0M558 420h0M563 422h0M568 420h0M571 417h0M570 359h0M571 355h0M571 351h0M570 347h0M569 343h0M601 387h0M598 385h0M596 380h0M595 376h0M568 385h0M565 388h0M560 390h0M557 395h0M555 399h0M551 402h0M560 350h0M560 354h0M560 358h0M563 373h0M568 374h0M572 376h0M577 374h0M582 373h0M604 355h0M609 354h0M614 355h0M619 356h0M574 352h0M577 354h0M581 354h0M562 363h0M557 367h0M557 372h0M555 378h0M549 378h0M568 365h0M565 369h0M561 371h0M557 371h0M553 371h0M601 362h0M597 362h0M594 358h0M595 354h0M571 400h0M566 401h0M562 404h0M557 406h0M557 398h0M562 400h0M565 405h0M568 408h0M569 412h0M568 416h0M568 419h0M561 396h0M560 400h0M566 403h0M571 401h0M575 397h0M591 365h0M586 369h0M583 371h0M579 374h0M559 390h0M554 387h0M548 386h0M550 377h0M552 372h0M600 392h0M600 387h0M605 385h0M581 366h0M581 360h0M583 356h0M581 352h0M578 347h0M576 342h0M576 338h0M602 360h0M607 362h0M589 350h0M592 347h0M552 381h0M548 382h0M600 399h0M601 402h0M571 411h0M576 413h0M556 373h0M554 378h0M550 382h0M550 386h0M574 359h0M571 357h0M572 336h0M578 334h0M581 335h0M585 334h0M591 335h0M618 355h0M616 360h0M615 363h0M613 369h0M612 375h0M562 363h0M566 366h0M570 363h0M576 360h0M549 386h0M580 419h0M601 395h0M601 400h0M545 390h0M574 329h0M575 433h0M612 373h0M620 348h0M581 417h0M616 369h0M579 426h0M549 360h0M553 416h0M554 423h0M609 381h0M622 361h0M555 433h0M619 360h0M552 427h0M587 332h0M576 429h0M552 411h0M548 350h0M607 341h0M581 429h0M576 325h0M554 442h0M589 322h0M593 333h0M551 432h0M594 412h0M570 320h0M646 449h0M648 453h0M648 458h0M662 434h0M659 431h0M648 456h0M645 453h0M642 450h0M650 456h0M646 454h0M642 450h0M639 446h0M637 441h0M633 439h0M641 436h0M645 435h0M649 433h0M653 431h0M657 433h0M645 452h0M649 454h0M650 459h0M640 454h0M637 449h0M635 454h0M661 434h0M665 437h0M648 440h0M649 436h0M651 431h0M651 427h0M648 424h0M625 442h0M627 438h0M631 436h0M635 433h0M639 431h0M641 448h0M636 446h0M630 448h0M627 450h0M630 442h0M626 440h0M619 444h0M653 440h0M650 443h0M646 448h0M644 451h0M640 453h0M644 427h0M624 438h0M663 425h0M647 459h0M655 424h0M670 455h0M671 439h0M612 452h0M259 519h0M356 497h0M263 529h0M440 514h0M335 480h0M415 474h0M306 528h0M409 469h0M277 459h0"/>
<path stroke="#E58700" d="M792 375h0M788 373h0M783 374h0M778 371h0M813 486h0M816 482h0M797 405h0M794 402h0M790 399h0M787 403h0M783 403h0M779 406h0M785 421h0M782 419h0M784 374h0M780 375h0M776 375h0M783 399h0M783 395h0M783 392h0M788 451h0M785 454h0M782 458h0M777 462h0M773 465h0M804 325h0M807 328h0M802 487h0M799 492h0M796 496h0M791 499h0M797 378h0M798 383h0M798 388h0M794 391h0M788 390h0M785 388h0M822 483h0M822 478h0M823 472h0M822 467h0M797 427h0M795 423h0M793 420h0M792 416h0M796 416h0M792 443h0M797 446h0M801 447h0M806 445h0M778 466h0M783 466h0M787 468h0M791 472h0M794 474h0M799 475h0M824 479h0M821 477h0M816 478h0M812 478h0M809 479h0M818 388h0M818 392h0M822 397h0M782 487h0M779 489h0M819 455h0M824 457h0M827 453h0M789 429h0M794 427h0M796 423h0M799 419h0M804 414h0M808 415h0M780 448h0M782 451h0M788 452h0M793 451h0M797 453h0M796 379h0M797 375h0M800 371h0M801 367h0M805 366h0M804 361h0M804 475h0M805 479h0M813 455h0M808 454h0M802 452h0M798 452h0M794 455h0M792 458h0M792 464h0M785 492h0M786 488h0M788 485h0M782 431h0M786 427h0M793 449h0M796 448h0M801 449h0M805 453h0M817 468h0M813 471h0M809 473h0M805 476h0M807 481h0M800 421h0M798 424h0M795 428h0M796 434h0M797 438h0M795 443h0M795 440h0M790 441h0M785 440h0M781 435h0M777 433h0M805 487h0M809 487h0M813 490h0M818 490h0M822 492h0M827 489h0M812 441h0M816 439h0M816 443h0M819 448h0M823 452h0M777 443h0M774 445h0M771 444h0M786 374h0M783 373h0M778 369h0M806 433h0M810 429h0M811 425h0M811 422h0M806 366h0M804 369h0M800 372h0M798 377h0M794 456h0M790 456h0M813 498h0M817 498h0M820 498h0M823 501h0M773 430h0M768 429h0M766 417h0M767 412h0M769 407h0M807 472h0M805 475h0M801 476h0M795 476h0M789 476h0M793 411h0M791 414h0M789 419h0M788 425h0M788 431h0M815 409h0M811 409h0M807 408h0M802 406h0M797 405h0M792 405h0M789 405h0M780 475h0M780 478h0M777 483h0M810 334h0M813 336h0M808 447h0M812 444h0M816 441h0M816 437h0M815 432h0M813 428h0M797 435h0M800 432h0M782 392h0M785 391h0M790 390h0M793 387h0M795 382h0M792 384h0M829 456h0M827 452h0M816 428h0M821 428h0M827 428h0M797 441h0M794 439h0M789 436h0M787 433h0M775 419h0M779 420h0M784 420h0M788 418h0M801 443h0M802 449h0M806 447h0M802 447h0M797 444h0M794 440h0M791 438h0M808 398h0M805 393h0M800 392h0M794 392h0M789 389h0M785 392h0M782 394h0M813 474h0M812 471h0M807 468h0M805 465h0M803 461h0M802 455h0M797 467h0M800 470h0M803 475h0M807 477h0M818 459h0M813 460h0M811 455h0M814 369h0M811 373h0M805 374h0M806 379h0M808 374h0M809 369h0M808 364h0M806 359h0M776 455h0M775 451h0M776 446h0M778 440h0M787 445h0M790 441h0M795 439h0M823 435h0M825 440h0M824 444h0M786 443h0M782 443h0M807 499h0M812 501h0M816 501h0M819 503h0M813 398h0M813 393h0M799 410h0M798 406h0M800 401h0M804 400h0M807 497h0M805 501h0M807 505h0M777 424h0M783 425h0M781 421h0M778 416h0M774 413h0M770 412h0M770 408h0M804 466h0M805 462h0M808 460h0M795 416h0M798 419h0M803 419h0M806 418h0M810 416h0M807 490h0M811 492h0M815 495h0M818 499h0M801 352h0M803 348h0M803 344h0M805 341h0M808 337h0M811 446h0M806 446h0M801 443h0M798 440h0M794 439h0M788 439h0M782 441h0M816 406h0M811 407h0M808 409h0M803 406h0M826 457h0M822 454h0M818 454h0M804 385h0M808 384h0M812 380h0M812 375h0M809 437h0M809 431h0M805 428h0M802 426h0M796 424h0M789 492h0M794 489h0M800 347h0M803 345h0M808 344h0M792 428h0M797 425h0M801 422h0M806 422h0M816 466h0M811 469h0M792 451h0M787 449h0M784 403h0M779 401h0M775 398h0M822 461h0M821 466h0M821 472h0M794 367h0M793 364h0M796 361h0M802 360h0M780 388h0M784 385h0M788 382h0M791 378h0M811 474h0M808 478h0M807 482h0M801 386h0M804 382h0M774 388h0M773 391h0M788 397h0M785 399h0M781 401h0M778 400h0M773 398h0M802 444h0M805 449h0M810 450h0M829 456h0M833 453h0M805 410h0M807 405h0M809 402h0M812 398h0M814 394h0M814 389h0M776 421h0M779 423h0M784 426h0M788 427h0M791 431h0M792 435h0M809 382h0M810 377h0M810 373h0M807 370h0M804 368h0M800 370h0M786 370h0M782 368h0M783 362h0M787 360h0M790 361h0M822 484h0M827 484h0M831 480h0M810 411h0M814 415h0M817 418h0M818 422h0M822 424h0M825 426h0M828 431h0M818 480h0M814 478h0M809 478h0M803 478h0M802 482h0M800 377h0M802 374h0M802 358h0M799 354h0M795 353h0M790 356h0M788 360h0M787 364h0M783 365h0M812 423h0M817 426h0M821 429h0M806 417h0M802 415h0M799 418h0M782 459h0M783 464h0M793 472h0M788 470h0M783 471h0M779 469h0M802 451h0M799 448h0M794 445h0M801 454h0M796 451h0M796 447h0M793 442h0M792 437h0M788 435h0M819 447h0M818 452h0M820 455h0M819 460h0M820 465h0M824 469h0M826 472h0M777 467h0M774 470h0M785 398h0M782 403h0M779 403h0M777 399h0M777 396h0M776 426h0M781 428h0M786 428h0M790 427h0M795 427h0M798 424h0M780 382h0M778 377h0M774 375h0M783 383h0M787 379h0M789 401h0M784 402h0M780 399h0M778 395h0M799 384h0M794 383h0M791 380h0M788 376h0M834 464h0M829 435h0M774 467h0M830 446h0M794 343h0M799 330h0M769 420h0M770 433h0M834 458h0M822 391h0M799 507h0M773 456h0M819 361h0M764 480h0M837 460h0M829 393h0M772 468h0M830 508h0"/>
<path stroke="#00BA38" d="M551 859h0M550 856h0M545 853h0M530 879h0M534 880h0M538 879h0M540 874h0M539 870h0M536 866h0M565 859h0M568 854h0M569 850h0M569 845h0M571 840h0M532 878h0M529 882h0M523 883h0M519 887h0M552 881h0M551 885h0M547 887h0M544 861h0M548 861h0M552 860h0M555 862h0M561 861h0M541 870h0M546 871h0M549 874h0M551 879h0M539 883h0M534 881h0M529 881h0M528 875h0M528 870h0M522 869h0M525 877h0M528 873h0M531 870h0M532 867h0M538 866h0M543 869h0M549 870h0M547 875h0M548 879h0M550 883h0M540 874h0M538 869h0M539 863h0M536 858h0M532 854h0M532 850h0M570 855h0M536 858h0M534 863h0M532 868h0M515 893h0M511 893h0M534 864h0M538 862h0M539 856h0M540 851h0M551 859h0M550 863h0M550 867h0M553 843h0M550 846h0M545 847h0M538 875h0M537 869h0M565 858h0M568 854h0M529 899h0M524 899h0M520 902h0M538 888h0M541 893h0M545 894h0M520 891h0M516 894h0M513 897h0M525 885h0M519 884h0M515 883h0M534 873h0M535 869h0M537 865h0M538 860h0M532 884h0M535 879h0M552 874h0M548 871h0M543 871h0M537 869h0M533 866h0M530 864h0M538 881h0M533 880h0M515 894h0M545 889h0M539 889h0M535 886h0M534 881h0M534 877h0M533 874h0M530 867h0M529 861h0M547 851h0M550 848h0M554 844h0M544 857h0M548 858h0M547 854h0M549 851h0M549 848h0M549 842h0M553 839h0M516 886h0M515 881h0M566 843h0M562 843h0M557 843h0M554 840h0M551 840h0M568 854h0M546 871h0M542 872h0M569 838h0M572 841h0M512 889h0M563 843h0M568 842h0M571 844h0M562 859h0M565 863h0M561 870h0M557 873h0M557 879h0M538 887h0M537 892h0M533 896h0M529 897h0M528 902h0M525 905h0M521 901h0M563 834h0M561 830h0M557 870h0M559 875h0M553 883h0M550 885h0M518 889h0M522 892h0M523 865h0M523 874h0M532 851h0M571 854h0M530 851h0M554 878h0M570 851h0M546 901h0M536 906h0M552 884h0M556 826h0M559 820h0M521 868h0M573 872h0"/>
</g>
<g style="font-family:'Liberation Sans',Arial,sans-serif;font-weight:bold" font-size="23" fill="#000">
<text x="205" y="180" textLength="98.5" lengthAdjust="spacingAndGlyphs">Mast cell</text>
<text x="381" y="129" textLength="142.5" lengthAdjust="spacingAndGlyphs">Endothelium</text>
<text x="622.5" y="238.5" textLength="112.5" lengthAdjust="spacingAndGlyphs">Fibroblast</text>
<text x="472.5" y="298.5" textLength="130.5" lengthAdjust="spacingAndGlyphs">Neutrophils</text>
<text x="295" y="342.5" textLength="62.5" lengthAdjust="spacingAndGlyphs">B cell</text>
<text x="555" y="396.5" textLength="103.0" lengthAdjust="spacingAndGlyphs">Dendritic</text>
<text x="555" y="424" textLength="39.0" lengthAdjust="spacingAndGlyphs">cell</text>
<text x="351.5" y="436.5" textLength="139.5" lengthAdjust="spacingAndGlyphs">Transformed</text>
<text x="356.5" y="465" textLength="117.5" lengthAdjust="spacingAndGlyphs">epithelium</text>
<text x="767.5" y="429" textLength="85.0" lengthAdjust="spacingAndGlyphs">Ciliated</text>
<text x="157.5" y="492.5" textLength="59.0" lengthAdjust="spacingAndGlyphs">T cell</text>
<text x="29" y="533.5" textLength="79.5" lengthAdjust="spacingAndGlyphs">NK cell</text>
<text x="547.5" y="574" textLength="151.5" lengthAdjust="spacingAndGlyphs">Macrophages</text>
<text x="348.5" y="605" textLength="70.5" lengthAdjust="spacingAndGlyphs">Type 2</text>
<text x="225" y="735" textLength="69.0" lengthAdjust="spacingAndGlyphs">Type 1</text>
<text x="418" y="735" textLength="51.0" lengthAdjust="spacingAndGlyphs">Club</text>
<text x="502.5" y="878.5" textLength="116.0" lengthAdjust="spacingAndGlyphs">Lymphatic</text>
</g>
<text x="46.7" y="63" style="font-family:'Liberation Sans',Arial,sans-serif;font-weight:bold" font-size="22" textLength="250" lengthAdjust="spacingAndGlyphs">Dropseq Parenchyma:</text>
<g stroke="#000" stroke-width="0.9">
<text x="1.5" y="36.5" style="font-family:'Liberation Sans',Arial,sans-serif" font-size="44" textLength="24" lengthAdjust="spacingAndGlyphs">A</text>
<text x="1055" y="30" style="font-family:'Liberation Sans',Arial,sans-serif" font-size="43" textLength="19.5" lengthAdjust="spacingAndGlyphs">B</text>
<text x="4" y="943.5" style="font-family:'Liberation Sans',Arial,sans-serif" font-size="43" textLength="23" lengthAdjust="spacingAndGlyphs">C</text>
</g>
<g shape-rendering="crispEdges">
<rect x="1260.00" y="76.80" width="44.5" height="22.10" fill="rgb(255,255,0)"/>
<rect x="1307.97" y="76.80" width="44.5" height="22.10" fill="rgb(42,15,45)"/>
<rect x="1355.94" y="76.80" width="44.5" height="22.10" fill="rgb(40,40,16)"/>
<rect x="1403.91" y="76.80" width="44.5" height="22.10" fill="rgb(42,15,45)"/>
<rect x="1451.88" y="76.80" width="44.5" height="22.10" fill="rgb(70,22,78)"/>
<rect x="1499.85" y="76.80" width="44.5" height="22.10" fill="rgb(112,112,30)"/>
<rect x="1547.82" y="76.80" width="44.5" height="22.10" fill="rgb(42,15,45)"/>
<rect x="1595.79" y="76.80" width="44.5" height="22.10" fill="rgb(70,22,78)"/>
<rect x="1643.76" y="76.80" width="44.5" height="22.10" fill="rgb(55,19,60)"/>
<rect x="1691.73" y="76.80" width="44.5" height="22.10" fill="rgb(42,15,45)"/>
<rect x="1739.70" y="76.80" width="44.5" height="22.10" fill="rgb(42,15,45)"/>
<rect x="1787.67" y="76.80" width="44.5" height="22.10" fill="rgb(28,10,28)"/>
<rect x="1835.64" y="76.80" width="44.5" height="22.10" fill="rgb(145,145,34)"/>
<rect x="1883.61" y="76.80" width="44.5" height="22.10" fill="rgb(70,22,78)"/>
<rect x="1931.58" y="76.80" width="44.5" height="22.10" fill="rgb(55,19,60)"/>
<rect x="1260.00" y="98.60" width="44.5" height="22.10" fill="rgb(255,255,0)"/>
<rect x="1307.97" y="98.60" width="44.5" height="22.10" fill="rgb(8,6,6)"/>
<rect x="1355.94" y="98.60" width="44.5" height="22.10" fill="rgb(28,10,28)"/>
<rect x="1403.91" y="98.60" width="44.5" height="22.10" fill="rgb(55,19,60)"/>
<rect x="1451.88" y="98.60" width="44.5" height="22.10" fill="rgb(42,15,45)"/>
<rect x="1499.85" y="98.60" width="44.5" height="22.10" fill="rgb(145,145,34)"/>
<rect x="1547.82" y="98.60" width="44.5" height="22.10" fill="rgb(70,22,78)"/>
<rect x="1595.79" y="98.60" width="44.5" height="22.10" fill="rgb(55,19,60)"/>
<rect x="1643.76" y="98.60" width="44.5" height="22.10" fill="rgb(28,10,28)"/>
<rect x="1691.73" y="98.60" width="44.5" height="22.10" fill="rgb(55,19,60)"/>
<rect x="1739.70" y="98.60" width="44.5" height="22.10" fill="rgb(42,15,45)"/>
<rect x="1787.67" y="98.60" width="44.5" height="22.10" fill="rgb(42,15,45)"/>
<rect x="1835.64" y="98.60" width="44.5" height="22.10" fill="rgb(112,112,30)"/>
<rect x="1883.61" y="98.60" width="44.5" height="22.10" fill="rgb(55,19,60)"/>
<rect x="1931.58" y="98.60" width="44.5" height="22.10" fill="rgb(42,15,45)"/>
<rect x="1260.00" y="120.40" width="44.5" height="22.10" fill="rgb(255,255,0)"/>
<rect x="1307.97" y="120.40" width="44.5" height="22.10" fill="rgb(28,10,28)"/>
<rect x="1355.94" y="120.40" width="44.5" height="22.10" fill="rgb(40,40,16)"/>
<rect x="1403.91" y="120.40" width="44.5" height="22.10" fill="rgb(55,19,60)"/>
<rect x="1451.88" y="120.40" width="44.5" height="22.10" fill="rgb(70,22,78)"/>
<rect x="1499.85" y="120.40" width="44.5" height="22.10" fill="rgb(112,112,30)"/>
<rect x="1547.82" y="120.40" width="44.5" height="22.10" fill="rgb(70,22,78)"/>
<rect x="1595.79" y="120.40" width="44.5" height="22.10" fill="rgb(70,22,78)"/>
<rect x="1643.76" y="120.40" width="44.5" height="22.10" fill="rgb(42,15,45)"/>
<rect x="1691.73" y="120.40" width="44.5" height="22.10" fill="rgb(70,22,78)"/>
<rect x="1739.70" y="120.40" width="44.5" height="22.10" fill="rgb(42,15,45)"/>
<rect x="1787.67" y="120.40" width="44.5" height="22.10" fill="rgb(55,19,60)"/>
<rect x="1835.64" y="120.40" width="44.5" height="22.10" fill="rgb(145,145,34)"/>
<rect x="1883.61" y="120.40" width="44.5" height="22.10" fill="rgb(70,22,78)"/>
<rect x="1931.58" y="120.40" width="44.5" height="22.10" fill="rgb(42,15,45)"/>
<rect x="1260.00" y="142.20" width="44.5" height="22.10" fill="rgb(255,255,0)"/>
<rect x="1307.97" y="142.20" width="44.5" height="22.10" fill="rgb(28,10,28)"/>
<rect x="1355.94" y="142.20" width="44.5" height="22.10" fill="rgb(8,6,6)"/>
<rect x="1403.91" y="142.20" width="44.5" height="22.10" fill="rgb(55,19,60)"/>
<rect x="1451.88" y="142.20" width="44.5" height="22.10" fill="rgb(85,85,26)"/>
<rect x="1499.85" y="142.20" width="44.5" height="22.10" fill="rgb(112,112,30)"/>
<rect x="1547.82" y="142.20" width="44.5" height="22.10" fill="rgb(70,22,78)"/>
<rect x="1595.79" y="142.20" width="44.5" height="22.10" fill="rgb(55,19,60)"/>
<rect x="1643.76" y="142.20" width="44.5" height="22.10" fill="rgb(55,19,60)"/>
<rect x="1691.73" y="142.20" width="44.5" height="22.10" fill="rgb(70,22,78)"/>
<rect x="1739.70" y="142.20" width="44.5" height="22.10" fill="rgb(55,19,60)"/>
<rect x="1787.67" y="142.20" width="44.5" height="22.10" fill="rgb(88,25,97)"/>
<rect x="1835.64" y="142.20" width="44.5" height="22.10" fill="rgb(85,85,26)"/>
<rect x="1883.61" y="142.20" width="44.5" height="22.10" fill="rgb(55,19,60)"/>
<rect x="1931.58" y="142.20" width="44.5" height="22.10" fill="rgb(70,22,78)"/>
<rect x="1260.00" y="164.00" width="44.5" height="22.10" fill="rgb(255,255,0)"/>
<rect x="1307.97" y="164.00" width="44.5" height="22.10" fill="rgb(28,10,28)"/>
<rect x="1355.94" y="164.00" width="44.5" height="22.10" fill="rgb(8,6,6)"/>
<rect x="1403.91" y="164.00" width="44.5" height="22.10" fill="rgb(55,19,60)"/>
<rect x="1451.88" y="164.00" width="44.5" height="22.10" fill="rgb(88,25,97)"/>
<rect x="1499.85" y="164.00" width="44.5" height="22.10" fill="rgb(112,112,30)"/>
<rect x="1547.82" y="164.00" width="44.5" height="22.10" fill="rgb(70,22,78)"/>
<rect x="1595.79" y="164.00" width="44.5" height="22.10" fill="rgb(88,25,97)"/>
<rect x="1643.76" y="164.00" width="44.5" height="22.10" fill="rgb(55,19,60)"/>
<rect x="1691.73" y="164.00" width="44.5" height="22.10" fill="rgb(70,22,78)"/>
<rect x="1739.70" y="164.00" width="44.5" height="22.10" fill="rgb(42,15,45)"/>
<rect x="1787.67" y="164.00" width="44.5" height="22.10" fill="rgb(55,19,60)"/>
<rect x="1835.64" y="164.00" width="44.5" height="22.10" fill="rgb(112,112,30)"/>
<rect x="1883.61" y="164.00" width="44.5" height="22.10" fill="rgb(70,22,78)"/>
<rect x="1931.58" y="164.00" width="44.5" height="22.10" fill="rgb(112,112,30)"/>
<rect x="1260.00" y="185.80" width="44.5" height="22.10" fill="rgb(70,22,78)"/>
<rect x="1307.97" y="185.80" width="44.5" height="22.10" fill="rgb(228,228,18)"/>
<rect x="1355.94" y="185.80" width="44.5" height="22.10" fill="rgb(112,112,30)"/>
<rect x="1403.91" y="185.80" width="44.5" height="22.10" fill="rgb(8,6,6)"/>
<rect x="1451.88" y="185.80" width="44.5" height="22.10" fill="rgb(88,25,97)"/>
<rect x="1499.85" y="185.80" width="44.5" height="22.10" fill="rgb(85,85,26)"/>
<rect x="1547.82" y="185.80" width="44.5" height="22.10" fill="rgb(8,6,6)"/>
<rect x="1595.79" y="185.80" width="44.5" height="22.10" fill="rgb(85,85,26)"/>
<rect x="1643.76" y="185.80" width="44.5" height="22.10" fill="rgb(55,19,60)"/>
<rect x="1691.73" y="185.80" width="44.5" height="22.10" fill="rgb(85,85,26)"/>
<rect x="1739.70" y="185.80" width="44.5" height="22.10" fill="rgb(42,15,45)"/>
<rect x="1787.67" y="185.80" width="44.5" height="22.10" fill="rgb(42,15,45)"/>
<rect x="1835.64" y="185.80" width="44.5" height="22.10" fill="rgb(108,29,118)"/>
<rect x="1883.61" y="185.80" width="44.5" height="22.10" fill="rgb(88,25,97)"/>
<rect x="1931.58" y="185.80" width="44.5" height="22.10" fill="rgb(88,25,97)"/>
<rect x="1260.00" y="207.60" width="44.5" height="22.10" fill="rgb(70,22,78)"/>
<rect x="1307.97" y="207.60" width="44.5" height="22.10" fill="rgb(228,228,18)"/>
<rect x="1355.94" y="207.60" width="44.5" height="22.10" fill="rgb(112,112,30)"/>
<rect x="1403.91" y="207.60" width="44.5" height="22.10" fill="rgb(8,6,6)"/>
<rect x="1451.88" y="207.60" width="44.5" height="22.10" fill="rgb(55,19,60)"/>
<rect x="1499.85" y="207.60" width="44.5" height="22.10" fill="rgb(40,40,16)"/>
<rect x="1547.82" y="207.60" width="44.5" height="22.10" fill="rgb(28,10,28)"/>
<rect x="1595.79" y="207.60" width="44.5" height="22.10" fill="rgb(145,145,34)"/>
<rect x="1643.76" y="207.60" width="44.5" height="22.10" fill="rgb(108,29,118)"/>
<rect x="1691.73" y="207.60" width="44.5" height="22.10" fill="rgb(8,6,6)"/>
<rect x="1739.70" y="207.60" width="44.5" height="22.10" fill="rgb(42,15,45)"/>
<rect x="1787.67" y="207.60" width="44.5" height="22.10" fill="rgb(42,15,45)"/>
<rect x="1835.64" y="207.60" width="44.5" height="22.10" fill="rgb(88,25,97)"/>
<rect x="1883.61" y="207.60" width="44.5" height="22.10" fill="rgb(70,22,78)"/>
<rect x="1931.58" y="207.60" width="44.5" height="22.10" fill="rgb(70,22,78)"/>
<rect x="1260.00" y="229.40" width="44.5" height="22.10" fill="rgb(70,22,78)"/>
<rect x="1307.97" y="229.40" width="44.5" height="22.10" fill="rgb(228,228,18)"/>
<rect x="1355.94" y="229.40" width="44.5" height="22.10" fill="rgb(145,145,34)"/>
<rect x="1403.91" y="229.40" width="44.5" height="22.10" fill="rgb(8,6,6)"/>
<rect x="1451.88" y="229.40" width="44.5" height="22.10" fill="rgb(108,29,118)"/>
<rect x="1499.85" y="229.40" width="44.5" height="22.10" fill="rgb(40,40,16)"/>
<rect x="1547.82" y="229.40" width="44.5" height="22.10" fill="rgb(8,6,6)"/>
<rect x="1595.79" y="229.40" width="44.5" height="22.10" fill="rgb(85,85,26)"/>
<rect x="1643.76" y="229.40" width="44.5" height="22.10" fill="rgb(108,29,118)"/>
<rect x="1691.73" y="229.40" width="44.5" height="22.10" fill="rgb(8,6,6)"/>
<rect x="1739.70" y="229.40" width="44.5" height="22.10" fill="rgb(28,10,28)"/>
<rect x="1787.67" y="229.40" width="44.5" height="22.10" fill="rgb(28,10,28)"/>
<rect x="1835.64" y="229.40" width="44.5" height="22.10" fill="rgb(88,25,97)"/>
<rect x="1883.61" y="229.40" width="44.5" height="22.10" fill="rgb(70,22,78)"/>
<rect x="1931.58" y="229.40" width="44.5" height="22.10" fill="rgb(88,25,97)"/>
<rect x="1260.00" y="251.20" width="44.5" height="22.10" fill="rgb(88,25,97)"/>
<rect x="1307.97" y="251.20" width="44.5" height="22.10" fill="rgb(195,195,30)"/>
<rect x="1355.94" y="251.20" width="44.5" height="22.10" fill="rgb(8,6,6)"/>
<rect x="1403.91" y="251.20" width="44.5" height="22.10" fill="rgb(70,22,78)"/>
<rect x="1451.88" y="251.20" width="44.5" height="22.10" fill="rgb(55,19,60)"/>
<rect x="1499.85" y="251.20" width="44.5" height="22.10" fill="rgb(112,112,30)"/>
<rect x="1547.82" y="251.20" width="44.5" height="22.10" fill="rgb(88,25,97)"/>
<rect x="1595.79" y="251.20" width="44.5" height="22.10" fill="rgb(85,85,26)"/>
<rect x="1643.76" y="251.20" width="44.5" height="22.10" fill="rgb(145,145,34)"/>
<rect x="1691.73" y="251.20" width="44.5" height="22.10" fill="rgb(85,85,26)"/>
<rect x="1739.70" y="251.20" width="44.5" height="22.10" fill="rgb(42,15,45)"/>
<rect x="1787.67" y="251.20" width="44.5" height="22.10" fill="rgb(70,22,78)"/>
<rect x="1835.64" y="251.20" width="44.5" height="22.10" fill="rgb(88,25,97)"/>
<rect x="1883.61" y="251.20" width="44.5" height="22.10" fill="rgb(42,15,45)"/>
<rect x="1931.58" y="251.20" width="44.5" height="22.10" fill="rgb(70,22,78)"/>
<rect x="1260.00" y="273.00" width="44.5" height="22.10" fill="rgb(70,22,78)"/>
<rect x="1307.97" y="273.00" width="44.5" height="22.10" fill="rgb(255,255,0)"/>
<rect x="1355.94" y="273.00" width="44.5" height="22.10" fill="rgb(112,112,30)"/>
<rect x="1403.91" y="273.00" width="44.5" height="22.10" fill="rgb(8,6,6)"/>
<rect x="1451.88" y="273.00" width="44.5" height="22.10" fill="rgb(55,19,60)"/>
<rect x="1499.85" y="273.00" width="44.5" height="22.10" fill="rgb(40,40,16)"/>
<rect x="1547.82" y="273.00" width="44.5" height="22.10" fill="rgb(28,10,28)"/>
<rect x="1595.79" y="273.00" width="44.5" height="22.10" fill="rgb(112,112,30)"/>
<rect x="1643.76" y="273.00" width="44.5" height="22.10" fill="rgb(108,29,118)"/>
<rect x="1691.73" y="273.00" width="44.5" height="22.10" fill="rgb(85,85,26)"/>
<rect x="1739.70" y="273.00" width="44.5" height="22.10" fill="rgb(42,15,45)"/>
<rect x="1787.67" y="273.00" width="44.5" height="22.10" fill="rgb(42,15,45)"/>
<rect x="1835.64" y="273.00" width="44.5" height="22.10" fill="rgb(88,25,97)"/>
<rect x="1883.61" y="273.00" width="44.5" height="22.10" fill="rgb(70,22,78)"/>
<rect x="1931.58" y="273.00" width="44.5" height="22.10" fill="rgb(88,25,97)"/>
<rect x="1260.00" y="294.80" width="44.5" height="22.10" fill="rgb(88,25,97)"/>
<rect x="1307.97" y="294.80" width="44.5" height="22.10" fill="rgb(88,25,97)"/>
<rect x="1355.94" y="294.80" width="44.5" height="22.10" fill="rgb(255,255,0)"/>
<rect x="1403.91" y="294.80" width="44.5" height="22.10" fill="rgb(85,85,26)"/>
<rect x="1451.88" y="294.80" width="44.5" height="22.10" fill="rgb(42,15,45)"/>
<rect x="1499.85" y="294.80" width="44.5" height="22.10" fill="rgb(42,15,45)"/>
<rect x="1547.82" y="294.80" width="44.5" height="22.10" fill="rgb(85,85,26)"/>
<rect x="1595.79" y="294.80" width="44.5" height="22.10" fill="rgb(70,22,78)"/>
<rect x="1643.76" y="294.80" width="44.5" height="22.10" fill="rgb(88,25,97)"/>
<rect x="1691.73" y="294.80" width="44.5" height="22.10" fill="rgb(8,6,6)"/>
<rect x="1739.70" y="294.80" width="44.5" height="22.10" fill="rgb(40,40,16)"/>
<rect x="1787.67" y="294.80" width="44.5" height="22.10" fill="rgb(62,62,22)"/>
<rect x="1835.64" y="294.80" width="44.5" height="22.10" fill="rgb(70,22,78)"/>
<rect x="1883.61" y="294.80" width="44.5" height="22.10" fill="rgb(40,40,16)"/>
<rect x="1931.58" y="294.80" width="44.5" height="22.10" fill="rgb(88,25,97)"/>
<rect x="1260.00" y="316.60" width="44.5" height="22.10" fill="rgb(70,22,78)"/>
<rect x="1307.97" y="316.60" width="44.5" height="22.10" fill="rgb(70,22,78)"/>
<rect x="1355.94" y="316.60" width="44.5" height="22.10" fill="rgb(255,255,0)"/>
<rect x="1403.91" y="316.60" width="44.5" height="22.10" fill="rgb(85,85,26)"/>
<rect x="1451.88" y="316.60" width="44.5" height="22.10" fill="rgb(70,22,78)"/>
<rect x="1499.85" y="316.60" width="44.5" height="22.10" fill="rgb(70,22,78)"/>
<rect x="1547.82" y="316.60" width="44.5" height="22.10" fill="rgb(85,85,26)"/>
<rect x="1595.79" y="316.60" width="44.5" height="22.10" fill="rgb(70,22,78)"/>
<rect x="1643.76" y="316.60" width="44.5" height="22.10" fill="rgb(70,22,78)"/>
<rect x="1691.73" y="316.60" width="44.5" height="22.10" fill="rgb(8,6,6)"/>
<rect x="1739.70" y="316.60" width="44.5" height="22.10" fill="rgb(62,62,22)"/>
<rect x="1787.67" y="316.60" width="44.5" height="22.10" fill="rgb(62,62,22)"/>
<rect x="1835.64" y="316.60" width="44.5" height="22.10" fill="rgb(70,22,78)"/>
<rect x="1883.61" y="316.60" width="44.5" height="22.10" fill="rgb(8,6,6)"/>
<rect x="1931.58" y="316.60" width="44.5" height="22.10" fill="rgb(70,22,78)"/>
<rect x="1260.00" y="338.40" width="44.5" height="22.10" fill="rgb(70,22,78)"/>
<rect x="1307.97" y="338.40" width="44.5" height="22.10" fill="rgb(70,22,78)"/>
<rect x="1355.94" y="338.40" width="44.5" height="22.10" fill="rgb(255,255,0)"/>
<rect x="1403.91" y="338.40" width="44.5" height="22.10" fill="rgb(85,85,26)"/>
<rect x="1451.88" y="338.40" width="44.5" height="22.10" fill="rgb(70,22,78)"/>
<rect x="1499.85" y="338.40" width="44.5" height="22.10" fill="rgb(42,15,45)"/>
<rect x="1547.82" y="338.40" width="44.5" height="22.10" fill="rgb(85,85,26)"/>
<rect x="1595.79" y="338.40" width="44.5" height="22.10" fill="rgb(70,22,78)"/>
<rect x="1643.76" y="338.40" width="44.5" height="22.10" fill="rgb(70,22,78)"/>
<rect x="1691.73" y="338.40" width="44.5" height="22.10" fill="rgb(8,6,6)"/>
<rect x="1739.70" y="338.40" width="44.5" height="22.10" fill="rgb(40,40,16)"/>
<rect x="1787.67" y="338.40" width="44.5" height="22.10" fill="rgb(62,62,22)"/>
<rect x="1835.64" y="338.40" width="44.5" height="22.10" fill="rgb(70,22,78)"/>
<rect x="1883.61" y="338.40" width="44.5" height="22.10" fill="rgb(28,10,28)"/>
<rect x="1931.58" y="338.40" width="44.5" height="22.10" fill="rgb(70,22,78)"/>
<rect x="1260.00" y="360.20" width="44.5" height="22.10" fill="rgb(70,22,78)"/>
<rect x="1307.97" y="360.20" width="44.5" height="22.10" fill="rgb(70,22,78)"/>
<rect x="1355.94" y="360.20" width="44.5" height="22.10" fill="rgb(255,255,0)"/>
<rect x="1403.91" y="360.20" width="44.5" height="22.10" fill="rgb(85,85,26)"/>
<rect x="1451.88" y="360.20" width="44.5" height="22.10" fill="rgb(70,22,78)"/>
<rect x="1499.85" y="360.20" width="44.5" height="22.10" fill="rgb(55,19,60)"/>
<rect x="1547.82" y="360.20" width="44.5" height="22.10" fill="rgb(85,85,26)"/>
<rect x="1595.79" y="360.20" width="44.5" height="22.10" fill="rgb(70,22,78)"/>
<rect x="1643.76" y="360.20" width="44.5" height="22.10" fill="rgb(55,19,60)"/>
<rect x="1691.73" y="360.20" width="44.5" height="22.10" fill="rgb(28,10,28)"/>
<rect x="1739.70" y="360.20" width="44.5" height="22.10" fill="rgb(40,40,16)"/>
<rect x="1787.67" y="360.20" width="44.5" height="22.10" fill="rgb(62,62,22)"/>
<rect x="1835.64" y="360.20" width="44.5" height="22.10" fill="rgb(70,22,78)"/>
<rect x="1883.61" y="360.20" width="44.5" height="22.10" fill="rgb(28,10,28)"/>
<rect x="1931.58" y="360.20" width="44.5" height="22.10" fill="rgb(88,25,97)"/>
<rect x="1260.00" y="382.00" width="44.5" height="22.10" fill="rgb(55,19,60)"/>
<rect x="1307.97" y="382.00" width="44.5" height="22.10" fill="rgb(70,22,78)"/>
<rect x="1355.94" y="382.00" width="44.5" height="22.10" fill="rgb(255,255,0)"/>
<rect x="1403.91" y="382.00" width="44.5" height="22.10" fill="rgb(40,40,16)"/>
<rect x="1451.88" y="382.00" width="44.5" height="22.10" fill="rgb(55,19,60)"/>
<rect x="1499.85" y="382.00" width="44.5" height="22.10" fill="rgb(55,19,60)"/>
<rect x="1547.82" y="382.00" width="44.5" height="22.10" fill="rgb(62,62,22)"/>
<rect x="1595.79" y="382.00" width="44.5" height="22.10" fill="rgb(55,19,60)"/>
<rect x="1643.76" y="382.00" width="44.5" height="22.10" fill="rgb(55,19,60)"/>
<rect x="1691.73" y="382.00" width="44.5" height="22.10" fill="rgb(8,6,6)"/>
<rect x="1739.70" y="382.00" width="44.5" height="22.10" fill="rgb(40,40,16)"/>
<rect x="1787.67" y="382.00" width="44.5" height="22.10" fill="rgb(8,6,6)"/>
<rect x="1835.64" y="382.00" width="44.5" height="22.10" fill="rgb(55,19,60)"/>
<rect x="1883.61" y="382.00" width="44.5" height="22.10" fill="rgb(28,10,28)"/>
<rect x="1931.58" y="382.00" width="44.5" height="22.10" fill="rgb(55,19,60)"/>
<rect x="1260.00" y="403.80" width="44.5" height="22.10" fill="rgb(55,19,60)"/>
<rect x="1307.97" y="403.80" width="44.5" height="22.10" fill="rgb(42,15,45)"/>
<rect x="1355.94" y="403.80" width="44.5" height="22.10" fill="rgb(8,6,6)"/>
<rect x="1403.91" y="403.80" width="44.5" height="22.10" fill="rgb(228,228,18)"/>
<rect x="1451.88" y="403.80" width="44.5" height="22.10" fill="rgb(42,15,45)"/>
<rect x="1499.85" y="403.80" width="44.5" height="22.10" fill="rgb(42,15,45)"/>
<rect x="1547.82" y="403.80" width="44.5" height="22.10" fill="rgb(28,10,28)"/>
<rect x="1595.79" y="403.80" width="44.5" height="22.10" fill="rgb(55,19,60)"/>
<rect x="1643.76" y="403.80" width="44.5" height="22.10" fill="rgb(55,19,60)"/>
<rect x="1691.73" y="403.80" width="44.5" height="22.10" fill="rgb(42,15,45)"/>
<rect x="1739.70" y="403.80" width="44.5" height="22.10" fill="rgb(42,15,45)"/>
<rect x="1787.67" y="403.80" width="44.5" height="22.10" fill="rgb(255,255,0)"/>
<rect x="1835.64" y="403.80" width="44.5" height="22.10" fill="rgb(55,19,60)"/>
<rect x="1883.61" y="403.80" width="44.5" height="22.10" fill="rgb(42,15,45)"/>
<rect x="1931.58" y="403.80" width="44.5" height="22.10" fill="rgb(28,10,28)"/>
<rect x="1260.00" y="425.60" width="44.5" height="22.10" fill="rgb(42,15,45)"/>
<rect x="1307.97" y="425.60" width="44.5" height="22.10" fill="rgb(42,15,45)"/>
<rect x="1355.94" y="425.60" width="44.5" height="22.10" fill="rgb(40,40,16)"/>
<rect x="1403.91" y="425.60" width="44.5" height="22.10" fill="rgb(255,255,0)"/>
<rect x="1451.88" y="425.60" width="44.5" height="22.10" fill="rgb(42,15,45)"/>
<rect x="1499.85" y="425.60" width="44.5" height="22.10" fill="rgb(55,19,60)"/>
<rect x="1547.82" y="425.60" width="44.5" height="22.10" fill="rgb(28,10,28)"/>
<rect x="1595.79" y="425.60" width="44.5" height="22.10" fill="rgb(28,10,28)"/>
<rect x="1643.76" y="425.60" width="44.5" height="22.10" fill="rgb(70,22,78)"/>
<rect x="1691.73" y="425.60" width="44.5" height="22.10" fill="rgb(28,10,28)"/>
<rect x="1739.70" y="425.60" width="44.5" height="22.10" fill="rgb(28,10,28)"/>
<rect x="1787.67" y="425.60" width="44.5" height="22.10" fill="rgb(228,228,18)"/>
<rect x="1835.64" y="425.60" width="44.5" height="22.10" fill="rgb(42,15,45)"/>
<rect x="1883.61" y="425.60" width="44.5" height="22.10" fill="rgb(55,19,60)"/>
<rect x="1931.58" y="425.60" width="44.5" height="22.10" fill="rgb(88,25,97)"/>
<rect x="1260.00" y="447.40" width="44.5" height="22.10" fill="rgb(28,10,28)"/>
<rect x="1307.97" y="447.40" width="44.5" height="22.10" fill="rgb(55,19,60)"/>
<rect x="1355.94" y="447.40" width="44.5" height="22.10" fill="rgb(8,6,6)"/>
<rect x="1403.91" y="447.40" width="44.5" height="22.10" fill="rgb(255,255,0)"/>
<rect x="1451.88" y="447.40" width="44.5" height="22.10" fill="rgb(42,15,45)"/>
<rect x="1499.85" y="447.40" width="44.5" height="22.10" fill="rgb(55,19,60)"/>
<rect x="1547.82" y="447.40" width="44.5" height="22.10" fill="rgb(28,10,28)"/>
<rect x="1595.79" y="447.40" width="44.5" height="22.10" fill="rgb(42,15,45)"/>
<rect x="1643.76" y="447.40" width="44.5" height="22.10" fill="rgb(55,19,60)"/>
<rect x="1691.73" y="447.40" width="44.5" height="22.10" fill="rgb(42,15,45)"/>
<rect x="1739.70" y="447.40" width="44.5" height="22.10" fill="rgb(42,15,45)"/>
<rect x="1787.67" y="447.40" width="44.5" height="22.10" fill="rgb(195,195,30)"/>
<rect x="1835.64" y="447.40" width="44.5" height="22.10" fill="rgb(42,15,45)"/>
<rect x="1883.61" y="447.40" width="44.5" height="22.10" fill="rgb(28,10,28)"/>
<rect x="1931.58" y="447.40" width="44.5" height="22.10" fill="rgb(42,15,45)"/>
<rect x="1260.00" y="469.20" width="44.5" height="22.10" fill="rgb(88,25,97)"/>
<rect x="1307.97" y="469.20" width="44.5" height="22.10" fill="rgb(70,22,78)"/>
<rect x="1355.94" y="469.20" width="44.5" height="22.10" fill="rgb(42,15,45)"/>
<rect x="1403.91" y="469.20" width="44.5" height="22.10" fill="rgb(228,228,18)"/>
<rect x="1451.88" y="469.20" width="44.5" height="22.10" fill="rgb(55,19,60)"/>
<rect x="1499.85" y="469.20" width="44.5" height="22.10" fill="rgb(88,25,97)"/>
<rect x="1547.82" y="469.20" width="44.5" height="22.10" fill="rgb(70,22,78)"/>
<rect x="1595.79" y="469.20" width="44.5" height="22.10" fill="rgb(70,22,78)"/>
<rect x="1643.76" y="469.20" width="44.5" height="22.10" fill="rgb(70,22,78)"/>
<rect x="1691.73" y="469.20" width="44.5" height="22.10" fill="rgb(40,40,16)"/>
<rect x="1739.70" y="469.20" width="44.5" height="22.10" fill="rgb(112,112,30)"/>
<rect x="1787.67" y="469.20" width="44.5" height="22.10" fill="rgb(145,145,34)"/>
<rect x="1835.64" y="469.20" width="44.5" height="22.10" fill="rgb(88,25,97)"/>
<rect x="1883.61" y="469.20" width="44.5" height="22.10" fill="rgb(8,6,6)"/>
<rect x="1931.58" y="469.20" width="44.5" height="22.10" fill="rgb(62,62,22)"/>
<rect x="1260.00" y="491.00" width="44.5" height="22.10" fill="rgb(55,19,60)"/>
<rect x="1307.97" y="491.00" width="44.5" height="22.10" fill="rgb(42,15,45)"/>
<rect x="1355.94" y="491.00" width="44.5" height="22.10" fill="rgb(40,40,16)"/>
<rect x="1403.91" y="491.00" width="44.5" height="22.10" fill="rgb(255,255,0)"/>
<rect x="1451.88" y="491.00" width="44.5" height="22.10" fill="rgb(42,15,45)"/>
<rect x="1499.85" y="491.00" width="44.5" height="22.10" fill="rgb(55,19,60)"/>
<rect x="1547.82" y="491.00" width="44.5" height="22.10" fill="rgb(8,6,6)"/>
<rect x="1595.79" y="491.00" width="44.5" height="22.10" fill="rgb(42,15,45)"/>
<rect x="1643.76" y="491.00" width="44.5" height="22.10" fill="rgb(55,19,60)"/>
<rect x="1691.73" y="491.00" width="44.5" height="22.10" fill="rgb(28,10,28)"/>
<rect x="1739.70" y="491.00" width="44.5" height="22.10" fill="rgb(42,15,45)"/>
<rect x="1787.67" y="491.00" width="44.5" height="22.10" fill="rgb(62,62,22)"/>
<rect x="1835.64" y="491.00" width="44.5" height="22.10" fill="rgb(28,10,28)"/>
<rect x="1883.61" y="491.00" width="44.5" height="22.10" fill="rgb(42,15,45)"/>
<rect x="1931.58" y="491.00" width="44.5" height="22.10" fill="rgb(55,19,60)"/>
<rect x="1260.00" y="512.80" width="44.5" height="22.10" fill="rgb(40,40,16)"/>
<rect x="1307.97" y="512.80" width="44.5" height="22.10" fill="rgb(108,29,118)"/>
<rect x="1355.94" y="512.80" width="44.5" height="22.10" fill="rgb(145,145,34)"/>
<rect x="1403.91" y="512.80" width="44.5" height="22.10" fill="rgb(42,15,45)"/>
<rect x="1451.88" y="512.80" width="44.5" height="22.10" fill="rgb(255,255,0)"/>
<rect x="1499.85" y="512.80" width="44.5" height="22.10" fill="rgb(55,19,60)"/>
<rect x="1547.82" y="512.80" width="44.5" height="22.10" fill="rgb(28,10,28)"/>
<rect x="1595.79" y="512.80" width="44.5" height="22.10" fill="rgb(40,40,16)"/>
<rect x="1643.76" y="512.80" width="44.5" height="22.10" fill="rgb(108,29,118)"/>
<rect x="1691.73" y="512.80" width="44.5" height="22.10" fill="rgb(55,19,60)"/>
<rect x="1739.70" y="512.80" width="44.5" height="22.10" fill="rgb(8,6,6)"/>
<rect x="1787.67" y="512.80" width="44.5" height="22.10" fill="rgb(28,10,28)"/>
<rect x="1835.64" y="512.80" width="44.5" height="22.10" fill="rgb(8,6,6)"/>
<rect x="1883.61" y="512.80" width="44.5" height="22.10" fill="rgb(8,6,6)"/>
<rect x="1931.58" y="512.80" width="44.5" height="22.10" fill="rgb(108,29,118)"/>
<rect x="1260.00" y="534.60" width="44.5" height="22.10" fill="rgb(40,40,16)"/>
<rect x="1307.97" y="534.60" width="44.5" height="22.10" fill="rgb(88,25,97)"/>
<rect x="1355.94" y="534.60" width="44.5" height="22.10" fill="rgb(28,10,28)"/>
<rect x="1403.91" y="534.60" width="44.5" height="22.10" fill="rgb(70,22,78)"/>
<rect x="1451.88" y="534.60" width="44.5" height="22.10" fill="rgb(255,255,0)"/>
<rect x="1499.85" y="534.60" width="44.5" height="22.10" fill="rgb(28,10,28)"/>
<rect x="1547.82" y="534.60" width="44.5" height="22.10" fill="rgb(42,15,45)"/>
<rect x="1595.79" y="534.60" width="44.5" height="22.10" fill="rgb(40,40,16)"/>
<rect x="1643.76" y="534.60" width="44.5" height="22.10" fill="rgb(70,22,78)"/>
<rect x="1691.73" y="534.60" width="44.5" height="22.10" fill="rgb(88,25,97)"/>
<rect x="1739.70" y="534.60" width="44.5" height="22.10" fill="rgb(28,10,28)"/>
<rect x="1787.67" y="534.60" width="44.5" height="22.10" fill="rgb(28,10,28)"/>
<rect x="1835.64" y="534.60" width="44.5" height="22.10" fill="rgb(8,6,6)"/>
<rect x="1883.61" y="534.60" width="44.5" height="22.10" fill="rgb(145,145,34)"/>
<rect x="1931.58" y="534.60" width="44.5" height="22.10" fill="rgb(70,22,78)"/>
<rect x="1260.00" y="556.40" width="44.5" height="22.10" fill="rgb(70,22,78)"/>
<rect x="1307.97" y="556.40" width="44.5" height="22.10" fill="rgb(70,22,78)"/>
<rect x="1355.94" y="556.40" width="44.5" height="22.10" fill="rgb(62,62,22)"/>
<rect x="1403.91" y="556.40" width="44.5" height="22.10" fill="rgb(28,10,28)"/>
<rect x="1451.88" y="556.40" width="44.5" height="22.10" fill="rgb(255,255,0)"/>
<rect x="1499.85" y="556.40" width="44.5" height="22.10" fill="rgb(55,19,60)"/>
<rect x="1547.82" y="556.40" width="44.5" height="22.10" fill="rgb(28,10,28)"/>
<rect x="1595.79" y="556.40" width="44.5" height="22.10" fill="rgb(40,40,16)"/>
<rect x="1643.76" y="556.40" width="44.5" height="22.10" fill="rgb(55,19,60)"/>
<rect x="1691.73" y="556.40" width="44.5" height="22.10" fill="rgb(55,19,60)"/>
<rect x="1739.70" y="556.40" width="44.5" height="22.10" fill="rgb(8,6,6)"/>
<rect x="1787.67" y="556.40" width="44.5" height="22.10" fill="rgb(8,6,6)"/>
<rect x="1835.64" y="556.40" width="44.5" height="22.10" fill="rgb(40,40,16)"/>
<rect x="1883.61" y="556.40" width="44.5" height="22.10" fill="rgb(8,6,6)"/>
<rect x="1931.58" y="556.40" width="44.5" height="22.10" fill="rgb(70,22,78)"/>
<rect x="1260.00" y="578.20" width="44.5" height="22.10" fill="rgb(55,19,60)"/>
<rect x="1307.97" y="578.20" width="44.5" height="22.10" fill="rgb(70,22,78)"/>
<rect x="1355.94" y="578.20" width="44.5" height="22.10" fill="rgb(8,6,6)"/>
<rect x="1403.91" y="578.20" width="44.5" height="22.10" fill="rgb(42,15,45)"/>
<rect x="1451.88" y="578.20" width="44.5" height="22.10" fill="rgb(255,255,0)"/>
<rect x="1499.85" y="578.20" width="44.5" height="22.10" fill="rgb(55,19,60)"/>
<rect x="1547.82" y="578.20" width="44.5" height="22.10" fill="rgb(28,10,28)"/>
<rect x="1595.79" y="578.20" width="44.5" height="22.10" fill="rgb(40,40,16)"/>
<rect x="1643.76" y="578.20" width="44.5" height="22.10" fill="rgb(42,15,45)"/>
<rect x="1691.73" y="578.20" width="44.5" height="22.10" fill="rgb(55,19,60)"/>
<rect x="1739.70" y="578.20" width="44.5" height="22.10" fill="rgb(8,6,6)"/>
<rect x="1787.67" y="578.20" width="44.5" height="22.10" fill="rgb(28,10,28)"/>
<rect x="1835.64" y="578.20" width="44.5" height="22.10" fill="rgb(40,40,16)"/>
<rect x="1883.61" y="578.20" width="44.5" height="22.10" fill="rgb(8,6,6)"/>
<rect x="1931.58" y="578.20" width="44.5" height="22.10" fill="rgb(70,22,78)"/>
<rect x="1260.00" y="600.00" width="44.5" height="22.10" fill="rgb(55,19,60)"/>
<rect x="1307.97" y="600.00" width="44.5" height="22.10" fill="rgb(108,29,118)"/>
<rect x="1355.94" y="600.00" width="44.5" height="22.10" fill="rgb(8,6,6)"/>
<rect x="1403.91" y="600.00" width="44.5" height="22.10" fill="rgb(55,19,60)"/>
<rect x="1451.88" y="600.00" width="44.5" height="22.10" fill="rgb(228,228,18)"/>
<rect x="1499.85" y="600.00" width="44.5" height="22.10" fill="rgb(70,22,78)"/>
<rect x="1547.82" y="600.00" width="44.5" height="22.10" fill="rgb(28,10,28)"/>
<rect x="1595.79" y="600.00" width="44.5" height="22.10" fill="rgb(40,40,16)"/>
<rect x="1643.76" y="600.00" width="44.5" height="22.10" fill="rgb(88,25,97)"/>
<rect x="1691.73" y="600.00" width="44.5" height="22.10" fill="rgb(42,15,45)"/>
<rect x="1739.70" y="600.00" width="44.5" height="22.10" fill="rgb(40,40,16)"/>
<rect x="1787.67" y="600.00" width="44.5" height="22.10" fill="rgb(42,15,45)"/>
<rect x="1835.64" y="600.00" width="44.5" height="22.10" fill="rgb(40,40,16)"/>
<rect x="1883.61" y="600.00" width="44.5" height="22.10" fill="rgb(228,228,18)"/>
<rect x="1931.58" y="600.00" width="44.5" height="22.10" fill="rgb(108,29,118)"/>
<rect x="1260.00" y="621.80" width="44.5" height="22.10" fill="rgb(70,22,78)"/>
<rect x="1307.97" y="621.80" width="44.5" height="22.10" fill="rgb(42,15,45)"/>
<rect x="1355.94" y="621.80" width="44.5" height="22.10" fill="rgb(42,15,45)"/>
<rect x="1403.91" y="621.80" width="44.5" height="22.10" fill="rgb(70,22,78)"/>
<rect x="1451.88" y="621.80" width="44.5" height="22.10" fill="rgb(8,6,6)"/>
<rect x="1499.85" y="621.80" width="44.5" height="22.10" fill="rgb(255,255,0)"/>
<rect x="1547.82" y="621.80" width="44.5" height="22.10" fill="rgb(70,22,78)"/>
<rect x="1595.79" y="621.80" width="44.5" height="22.10" fill="rgb(62,62,22)"/>
<rect x="1643.76" y="621.80" width="44.5" height="22.10" fill="rgb(195,195,30)"/>
<rect x="1691.73" y="621.80" width="44.5" height="22.10" fill="rgb(70,22,78)"/>
<rect x="1739.70" y="621.80" width="44.5" height="22.10" fill="rgb(8,6,6)"/>
<rect x="1787.67" y="621.80" width="44.5" height="22.10" fill="rgb(42,15,45)"/>
<rect x="1835.64" y="621.80" width="44.5" height="22.10" fill="rgb(28,10,28)"/>
<rect x="1883.61" y="621.80" width="44.5" height="22.10" fill="rgb(28,10,28)"/>
<rect x="1931.58" y="621.80" width="44.5" height="22.10" fill="rgb(55,19,60)"/>
<rect x="1260.00" y="643.60" width="44.5" height="22.10" fill="rgb(42,15,45)"/>
<rect x="1307.97" y="643.60" width="44.5" height="22.10" fill="rgb(85,85,26)"/>
<rect x="1355.94" y="643.60" width="44.5" height="22.10" fill="rgb(42,15,45)"/>
<rect x="1403.91" y="643.60" width="44.5" height="22.10" fill="rgb(42,15,45)"/>
<rect x="1451.88" y="643.60" width="44.5" height="22.10" fill="rgb(42,15,45)"/>
<rect x="1499.85" y="643.60" width="44.5" height="22.10" fill="rgb(255,255,0)"/>
<rect x="1547.82" y="643.60" width="44.5" height="22.10" fill="rgb(70,22,78)"/>
<rect x="1595.79" y="643.60" width="44.5" height="22.10" fill="rgb(8,6,6)"/>
<rect x="1643.76" y="643.60" width="44.5" height="22.10" fill="rgb(195,195,30)"/>
<rect x="1691.73" y="643.60" width="44.5" height="22.10" fill="rgb(70,22,78)"/>
<rect x="1739.70" y="643.60" width="44.5" height="22.10" fill="rgb(28,10,28)"/>
<rect x="1787.67" y="643.60" width="44.5" height="22.10" fill="rgb(28,10,28)"/>
<rect x="1835.64" y="643.60" width="44.5" height="22.10" fill="rgb(42,15,45)"/>
<rect x="1883.61" y="643.60" width="44.5" height="22.10" fill="rgb(70,22,78)"/>
<rect x="1931.58" y="643.60" width="44.5" height="22.10" fill="rgb(42,15,45)"/>
<rect x="1260.00" y="665.40" width="44.5" height="22.10" fill="rgb(70,22,78)"/>
<rect x="1307.97" y="665.40" width="44.5" height="22.10" fill="rgb(195,195,30)"/>
<rect x="1355.94" y="665.40" width="44.5" height="22.10" fill="rgb(8,6,6)"/>
<rect x="1403.91" y="665.40" width="44.5" height="22.10" fill="rgb(42,15,45)"/>
<rect x="1451.88" y="665.40" width="44.5" height="22.10" fill="rgb(55,19,60)"/>
<rect x="1499.85" y="665.40" width="44.5" height="22.10" fill="rgb(228,228,18)"/>
<rect x="1547.82" y="665.40" width="44.5" height="22.10" fill="rgb(55,19,60)"/>
<rect x="1595.79" y="665.40" width="44.5" height="22.10" fill="rgb(8,6,6)"/>
<rect x="1643.76" y="665.40" width="44.5" height="22.10" fill="rgb(85,85,26)"/>
<rect x="1691.73" y="665.40" width="44.5" height="22.10" fill="rgb(28,10,28)"/>
<rect x="1739.70" y="665.40" width="44.5" height="22.10" fill="rgb(28,10,28)"/>
<rect x="1787.67" y="665.40" width="44.5" height="22.10" fill="rgb(42,15,45)"/>
<rect x="1835.64" y="665.40" width="44.5" height="22.10" fill="rgb(70,22,78)"/>
<rect x="1883.61" y="665.40" width="44.5" height="22.10" fill="rgb(70,22,78)"/>
<rect x="1931.58" y="665.40" width="44.5" height="22.10" fill="rgb(70,22,78)"/>
<rect x="1260.00" y="687.20" width="44.5" height="22.10" fill="rgb(28,10,28)"/>
<rect x="1307.97" y="687.20" width="44.5" height="22.10" fill="rgb(28,10,28)"/>
<rect x="1355.94" y="687.20" width="44.5" height="22.10" fill="rgb(55,19,60)"/>
<rect x="1403.91" y="687.20" width="44.5" height="22.10" fill="rgb(42,15,45)"/>
<rect x="1451.88" y="687.20" width="44.5" height="22.10" fill="rgb(42,15,45)"/>
<rect x="1499.85" y="687.20" width="44.5" height="22.10" fill="rgb(255,255,0)"/>
<rect x="1547.82" y="687.20" width="44.5" height="22.10" fill="rgb(42,15,45)"/>
<rect x="1595.79" y="687.20" width="44.5" height="22.10" fill="rgb(42,15,45)"/>
<rect x="1643.76" y="687.20" width="44.5" height="22.10" fill="rgb(195,195,30)"/>
<rect x="1691.73" y="687.20" width="44.5" height="22.10" fill="rgb(55,19,60)"/>
<rect x="1739.70" y="687.20" width="44.5" height="22.10" fill="rgb(28,10,28)"/>
<rect x="1787.67" y="687.20" width="44.5" height="22.10" fill="rgb(28,10,28)"/>
<rect x="1835.64" y="687.20" width="44.5" height="22.10" fill="rgb(42,15,45)"/>
<rect x="1883.61" y="687.20" width="44.5" height="22.10" fill="rgb(55,19,60)"/>
<rect x="1931.58" y="687.20" width="44.5" height="22.10" fill="rgb(28,10,28)"/>
<rect x="1260.00" y="709.00" width="44.5" height="22.10" fill="rgb(55,19,60)"/>
<rect x="1307.97" y="709.00" width="44.5" height="22.10" fill="rgb(85,85,26)"/>
<rect x="1355.94" y="709.00" width="44.5" height="22.10" fill="rgb(28,10,28)"/>
<rect x="1403.91" y="709.00" width="44.5" height="22.10" fill="rgb(70,22,78)"/>
<rect x="1451.88" y="709.00" width="44.5" height="22.10" fill="rgb(70,22,78)"/>
<rect x="1499.85" y="709.00" width="44.5" height="22.10" fill="rgb(195,195,30)"/>
<rect x="1547.82" y="709.00" width="44.5" height="22.10" fill="rgb(70,22,78)"/>
<rect x="1595.79" y="709.00" width="44.5" height="22.10" fill="rgb(40,40,16)"/>
<rect x="1643.76" y="709.00" width="44.5" height="22.10" fill="rgb(228,228,18)"/>
<rect x="1691.73" y="709.00" width="44.5" height="22.10" fill="rgb(62,62,22)"/>
<rect x="1739.70" y="709.00" width="44.5" height="22.10" fill="rgb(70,22,78)"/>
<rect x="1787.67" y="709.00" width="44.5" height="22.10" fill="rgb(70,22,78)"/>
<rect x="1835.64" y="709.00" width="44.5" height="22.10" fill="rgb(70,22,78)"/>
<rect x="1883.61" y="709.00" width="44.5" height="22.10" fill="rgb(70,22,78)"/>
<rect x="1931.58" y="709.00" width="44.5" height="22.10" fill="rgb(70,22,78)"/>
<rect x="1260.00" y="730.80" width="44.5" height="22.10" fill="rgb(55,19,60)"/>
<rect x="1307.97" y="730.80" width="44.5" height="22.10" fill="rgb(55,19,60)"/>
<rect x="1355.94" y="730.80" width="44.5" height="22.10" fill="rgb(85,85,26)"/>
<rect x="1403.91" y="730.80" width="44.5" height="22.10" fill="rgb(8,6,6)"/>
<rect x="1451.88" y="730.80" width="44.5" height="22.10" fill="rgb(42,15,45)"/>
<rect x="1499.85" y="730.80" width="44.5" height="22.10" fill="rgb(42,15,45)"/>
<rect x="1547.82" y="730.80" width="44.5" height="22.10" fill="rgb(255,255,0)"/>
<rect x="1595.79" y="730.80" width="44.5" height="22.10" fill="rgb(28,10,28)"/>
<rect x="1643.76" y="730.80" width="44.5" height="22.10" fill="rgb(55,19,60)"/>
<rect x="1691.73" y="730.80" width="44.5" height="22.10" fill="rgb(28,10,28)"/>
<rect x="1739.70" y="730.80" width="44.5" height="22.10" fill="rgb(8,6,6)"/>
<rect x="1787.67" y="730.80" width="44.5" height="22.10" fill="rgb(28,10,28)"/>
<rect x="1835.64" y="730.80" width="44.5" height="22.10" fill="rgb(42,15,45)"/>
<rect x="1883.61" y="730.80" width="44.5" height="22.10" fill="rgb(8,6,6)"/>
<rect x="1931.58" y="730.80" width="44.5" height="22.10" fill="rgb(55,19,60)"/>
<rect x="1260.00" y="752.60" width="44.5" height="22.10" fill="rgb(70,22,78)"/>
<rect x="1307.97" y="752.60" width="44.5" height="22.10" fill="rgb(55,19,60)"/>
<rect x="1355.94" y="752.60" width="44.5" height="22.10" fill="rgb(85,85,26)"/>
<rect x="1403.91" y="752.60" width="44.5" height="22.10" fill="rgb(40,40,16)"/>
<rect x="1451.88" y="752.60" width="44.5" height="22.10" fill="rgb(42,15,45)"/>
<rect x="1499.85" y="752.60" width="44.5" height="22.10" fill="rgb(28,10,28)"/>
<rect x="1547.82" y="752.60" width="44.5" height="22.10" fill="rgb(255,255,0)"/>
<rect x="1595.79" y="752.60" width="44.5" height="22.10" fill="rgb(28,10,28)"/>
<rect x="1643.76" y="752.60" width="44.5" height="22.10" fill="rgb(70,22,78)"/>
<rect x="1691.73" y="752.60" width="44.5" height="22.10" fill="rgb(28,10,28)"/>
<rect x="1739.70" y="752.60" width="44.5" height="22.10" fill="rgb(8,6,6)"/>
<rect x="1787.67" y="752.60" width="44.5" height="22.10" fill="rgb(8,6,6)"/>
<rect x="1835.64" y="752.60" width="44.5" height="22.10" fill="rgb(28,10,28)"/>
<rect x="1883.61" y="752.60" width="44.5" height="22.10" fill="rgb(28,10,28)"/>
<rect x="1931.58" y="752.60" width="44.5" height="22.10" fill="rgb(70,22,78)"/>
<rect x="1260.00" y="774.40" width="44.5" height="22.10" fill="rgb(28,10,28)"/>
<rect x="1307.97" y="774.40" width="44.5" height="22.10" fill="rgb(42,15,45)"/>
<rect x="1355.94" y="774.40" width="44.5" height="22.10" fill="rgb(62,62,22)"/>
<rect x="1403.91" y="774.40" width="44.5" height="22.10" fill="rgb(8,6,6)"/>
<rect x="1451.88" y="774.40" width="44.5" height="22.10" fill="rgb(42,15,45)"/>
<rect x="1499.85" y="774.40" width="44.5" height="22.10" fill="rgb(42,15,45)"/>
<rect x="1547.82" y="774.40" width="44.5" height="22.10" fill="rgb(255,255,0)"/>
<rect x="1595.79" y="774.40" width="44.5" height="22.10" fill="rgb(42,15,45)"/>
<rect x="1643.76" y="774.40" width="44.5" height="22.10" fill="rgb(42,15,45)"/>
<rect x="1691.73" y="774.40" width="44.5" height="22.10" fill="rgb(28,10,28)"/>
<rect x="1739.70" y="774.40" width="44.5" height="22.10" fill="rgb(42,15,45)"/>
<rect x="1787.67" y="774.40" width="44.5" height="22.10" fill="rgb(8,6,6)"/>
<rect x="1835.64" y="774.40" width="44.5" height="22.10" fill="rgb(28,10,28)"/>
<rect x="1883.61" y="774.40" width="44.5" height="22.10" fill="rgb(28,10,28)"/>
<rect x="1931.58" y="774.40" width="44.5" height="22.10" fill="rgb(55,19,60)"/>
<rect x="1260.00" y="796.20" width="44.5" height="22.10" fill="rgb(55,19,60)"/>
<rect x="1307.97" y="796.20" width="44.5" height="22.10" fill="rgb(42,15,45)"/>
<rect x="1355.94" y="796.20" width="44.5" height="22.10" fill="rgb(40,40,16)"/>
<rect x="1403.91" y="796.20" width="44.5" height="22.10" fill="rgb(8,6,6)"/>
<rect x="1451.88" y="796.20" width="44.5" height="22.10" fill="rgb(42,15,45)"/>
<rect x="1499.85" y="796.20" width="44.5" height="22.10" fill="rgb(28,10,28)"/>
<rect x="1547.82" y="796.20" width="44.5" height="22.10" fill="rgb(255,255,0)"/>
<rect x="1595.79" y="796.20" width="44.5" height="22.10" fill="rgb(28,10,28)"/>
<rect x="1643.76" y="796.20" width="44.5" height="22.10" fill="rgb(42,15,45)"/>
<rect x="1691.73" y="796.20" width="44.5" height="22.10" fill="rgb(42,15,45)"/>
<rect x="1739.70" y="796.20" width="44.5" height="22.10" fill="rgb(40,40,16)"/>
<rect x="1787.67" y="796.20" width="44.5" height="22.10" fill="rgb(8,6,6)"/>
<rect x="1835.64" y="796.20" width="44.5" height="22.10" fill="rgb(42,15,45)"/>
<rect x="1883.61" y="796.20" width="44.5" height="22.10" fill="rgb(42,15,45)"/>
<rect x="1931.58" y="796.20" width="44.5" height="22.10" fill="rgb(28,10,28)"/>
<rect x="1260.00" y="818.00" width="44.5" height="22.10" fill="rgb(28,10,28)"/>
<rect x="1307.97" y="818.00" width="44.5" height="22.10" fill="rgb(28,10,28)"/>
<rect x="1355.94" y="818.00" width="44.5" height="22.10" fill="rgb(8,6,6)"/>
<rect x="1403.91" y="818.00" width="44.5" height="22.10" fill="rgb(28,10,28)"/>
<rect x="1451.88" y="818.00" width="44.5" height="22.10" fill="rgb(28,10,28)"/>
<rect x="1499.85" y="818.00" width="44.5" height="22.10" fill="rgb(28,10,28)"/>
<rect x="1547.82" y="818.00" width="44.5" height="22.10" fill="rgb(255,255,0)"/>
<rect x="1595.79" y="818.00" width="44.5" height="22.10" fill="rgb(28,10,28)"/>
<rect x="1643.76" y="818.00" width="44.5" height="22.10" fill="rgb(42,15,45)"/>
<rect x="1691.73" y="818.00" width="44.5" height="22.10" fill="rgb(28,10,28)"/>
<rect x="1739.70" y="818.00" width="44.5" height="22.10" fill="rgb(42,15,45)"/>
<rect x="1787.67" y="818.00" width="44.5" height="22.10" fill="rgb(28,10,28)"/>
<rect x="1835.64" y="818.00" width="44.5" height="22.10" fill="rgb(42,15,45)"/>
<rect x="1883.61" y="818.00" width="44.5" height="22.10" fill="rgb(42,15,45)"/>
<rect x="1931.58" y="818.00" width="44.5" height="22.10" fill="rgb(28,10,28)"/>
<rect x="1260.00" y="839.80" width="44.5" height="22.10" fill="rgb(55,19,60)"/>
<rect x="1307.97" y="839.80" width="44.5" height="22.10" fill="rgb(28,10,28)"/>
<rect x="1355.94" y="839.80" width="44.5" height="22.10" fill="rgb(70,22,78)"/>
<rect x="1403.91" y="839.80" width="44.5" height="22.10" fill="rgb(55,19,60)"/>
<rect x="1451.88" y="839.80" width="44.5" height="22.10" fill="rgb(40,40,16)"/>
<rect x="1499.85" y="839.80" width="44.5" height="22.10" fill="rgb(55,19,60)"/>
<rect x="1547.82" y="839.80" width="44.5" height="22.10" fill="rgb(28,10,28)"/>
<rect x="1595.79" y="839.80" width="44.5" height="22.10" fill="rgb(255,255,0)"/>
<rect x="1643.76" y="839.80" width="44.5" height="22.10" fill="rgb(55,19,60)"/>
<rect x="1691.73" y="839.80" width="44.5" height="22.10" fill="rgb(8,6,6)"/>
<rect x="1739.70" y="839.80" width="44.5" height="22.10" fill="rgb(8,6,6)"/>
<rect x="1787.67" y="839.80" width="44.5" height="22.10" fill="rgb(28,10,28)"/>
<rect x="1835.64" y="839.80" width="44.5" height="22.10" fill="rgb(8,6,6)"/>
<rect x="1883.61" y="839.80" width="44.5" height="22.10" fill="rgb(145,145,34)"/>
<rect x="1931.58" y="839.80" width="44.5" height="22.10" fill="rgb(55,19,60)"/>
<rect x="1260.00" y="861.60" width="44.5" height="22.10" fill="rgb(70,22,78)"/>
<rect x="1307.97" y="861.60" width="44.5" height="22.10" fill="rgb(108,29,118)"/>
<rect x="1355.94" y="861.60" width="44.5" height="22.10" fill="rgb(88,25,97)"/>
<rect x="1403.91" y="861.60" width="44.5" height="22.10" fill="rgb(88,25,97)"/>
<rect x="1451.88" y="861.60" width="44.5" height="22.10" fill="rgb(40,40,16)"/>
<rect x="1499.85" y="861.60" width="44.5" height="22.10" fill="rgb(55,19,60)"/>
<rect x="1547.82" y="861.60" width="44.5" height="22.10" fill="rgb(55,19,60)"/>
<rect x="1595.79" y="861.60" width="44.5" height="22.10" fill="rgb(145,145,34)"/>
<rect x="1643.76" y="861.60" width="44.5" height="22.10" fill="rgb(28,10,28)"/>
<rect x="1691.73" y="861.60" width="44.5" height="22.10" fill="rgb(28,10,28)"/>
<rect x="1739.70" y="861.60" width="44.5" height="22.10" fill="rgb(195,195,30)"/>
<rect x="1787.67" y="861.60" width="44.5" height="22.10" fill="rgb(55,19,60)"/>
<rect x="1835.64" y="861.60" width="44.5" height="22.10" fill="rgb(85,85,26)"/>
<rect x="1883.61" y="861.60" width="44.5" height="22.10" fill="rgb(145,145,34)"/>
<rect x="1931.58" y="861.60" width="44.5" height="22.10" fill="rgb(40,40,16)"/>
<rect x="1260.00" y="883.40" width="44.5" height="22.10" fill="rgb(108,29,118)"/>
<rect x="1307.97" y="883.40" width="44.5" height="22.10" fill="rgb(28,10,28)"/>
<rect x="1355.94" y="883.40" width="44.5" height="22.10" fill="rgb(70,22,78)"/>
<rect x="1403.91" y="883.40" width="44.5" height="22.10" fill="rgb(88,25,97)"/>
<rect x="1451.88" y="883.40" width="44.5" height="22.10" fill="rgb(42,15,45)"/>
<rect x="1499.85" y="883.40" width="44.5" height="22.10" fill="rgb(42,15,45)"/>
<rect x="1547.82" y="883.40" width="44.5" height="22.10" fill="rgb(70,22,78)"/>
<rect x="1595.79" y="883.40" width="44.5" height="22.10" fill="rgb(228,228,18)"/>
<rect x="1643.76" y="883.40" width="44.5" height="22.10" fill="rgb(8,6,6)"/>
<rect x="1691.73" y="883.40" width="44.5" height="22.10" fill="rgb(112,112,30)"/>
<rect x="1739.70" y="883.40" width="44.5" height="22.10" fill="rgb(40,40,16)"/>
<rect x="1787.67" y="883.40" width="44.5" height="22.10" fill="rgb(108,29,118)"/>
<rect x="1835.64" y="883.40" width="44.5" height="22.10" fill="rgb(112,112,30)"/>
<rect x="1883.61" y="883.40" width="44.5" height="22.10" fill="rgb(112,112,30)"/>
<rect x="1931.58" y="883.40" width="44.5" height="22.10" fill="rgb(28,10,28)"/>
<rect x="1260.00" y="905.20" width="44.5" height="22.10" fill="rgb(108,29,118)"/>
<rect x="1307.97" y="905.20" width="44.5" height="22.10" fill="rgb(8,6,6)"/>
<rect x="1355.94" y="905.20" width="44.5" height="22.10" fill="rgb(28,10,28)"/>
<rect x="1403.91" y="905.20" width="44.5" height="22.10" fill="rgb(88,25,97)"/>
<rect x="1451.88" y="905.20" width="44.5" height="22.10" fill="rgb(28,10,28)"/>
<rect x="1499.85" y="905.20" width="44.5" height="22.10" fill="rgb(112,112,30)"/>
<rect x="1547.82" y="905.20" width="44.5" height="22.10" fill="rgb(42,15,45)"/>
<rect x="1595.79" y="905.20" width="44.5" height="22.10" fill="rgb(195,195,30)"/>
<rect x="1643.76" y="905.20" width="44.5" height="22.10" fill="rgb(112,112,30)"/>
<rect x="1691.73" y="905.20" width="44.5" height="22.10" fill="rgb(195,195,30)"/>
<rect x="1739.70" y="905.20" width="44.5" height="22.10" fill="rgb(55,19,60)"/>
<rect x="1787.67" y="905.20" width="44.5" height="22.10" fill="rgb(70,22,78)"/>
<rect x="1835.64" y="905.20" width="44.5" height="22.10" fill="rgb(55,19,60)"/>
<rect x="1883.61" y="905.20" width="44.5" height="22.10" fill="rgb(55,19,60)"/>
<rect x="1931.58" y="905.20" width="44.5" height="22.10" fill="rgb(88,25,97)"/>
<rect x="1260.00" y="927.00" width="44.5" height="22.10" fill="rgb(70,22,78)"/>
<rect x="1307.97" y="927.00" width="44.5" height="22.10" fill="rgb(62,62,22)"/>
<rect x="1355.94" y="927.00" width="44.5" height="22.10" fill="rgb(62,62,22)"/>
<rect x="1403.91" y="927.00" width="44.5" height="22.10" fill="rgb(42,15,45)"/>
<rect x="1451.88" y="927.00" width="44.5" height="22.10" fill="rgb(8,6,6)"/>
<rect x="1499.85" y="927.00" width="44.5" height="22.10" fill="rgb(28,10,28)"/>
<rect x="1547.82" y="927.00" width="44.5" height="22.10" fill="rgb(28,10,28)"/>
<rect x="1595.79" y="927.00" width="44.5" height="22.10" fill="rgb(255,255,0)"/>
<rect x="1643.76" y="927.00" width="44.5" height="22.10" fill="rgb(28,10,28)"/>
<rect x="1691.73" y="927.00" width="44.5" height="22.10" fill="rgb(42,15,45)"/>
<rect x="1739.70" y="927.00" width="44.5" height="22.10" fill="rgb(28,10,28)"/>
<rect x="1787.67" y="927.00" width="44.5" height="22.10" fill="rgb(55,19,60)"/>
<rect x="1835.64" y="927.00" width="44.5" height="22.10" fill="rgb(8,6,6)"/>
<rect x="1883.61" y="927.00" width="44.5" height="22.10" fill="rgb(55,19,60)"/>
<rect x="1931.58" y="927.00" width="44.5" height="22.10" fill="rgb(88,25,97)"/>
<rect x="1260.00" y="948.80" width="44.5" height="22.10" fill="rgb(28,10,28)"/>
<rect x="1307.97" y="948.80" width="44.5" height="22.10" fill="rgb(42,15,45)"/>
<rect x="1355.94" y="948.80" width="44.5" height="22.10" fill="rgb(42,15,45)"/>
<rect x="1403.91" y="948.80" width="44.5" height="22.10" fill="rgb(42,15,45)"/>
<rect x="1451.88" y="948.80" width="44.5" height="22.10" fill="rgb(28,10,28)"/>
<rect x="1499.85" y="948.80" width="44.5" height="22.10" fill="rgb(40,40,16)"/>
<rect x="1547.82" y="948.80" width="44.5" height="22.10" fill="rgb(42,15,45)"/>
<rect x="1595.79" y="948.80" width="44.5" height="22.10" fill="rgb(28,10,28)"/>
<rect x="1643.76" y="948.80" width="44.5" height="22.10" fill="rgb(255,255,0)"/>
<rect x="1691.73" y="948.80" width="44.5" height="22.10" fill="rgb(42,15,45)"/>
<rect x="1739.70" y="948.80" width="44.5" height="22.10" fill="rgb(8,6,6)"/>
<rect x="1787.67" y="948.80" width="44.5" height="22.10" fill="rgb(28,10,28)"/>
<rect x="1835.64" y="948.80" width="44.5" height="22.10" fill="rgb(28,10,28)"/>
<rect x="1883.61" y="948.80" width="44.5" height="22.10" fill="rgb(28,10,28)"/>
<rect x="1931.58" y="948.80" width="44.5" height="22.10" fill="rgb(42,15,45)"/>
<rect x="1260.00" y="970.60" width="44.5" height="22.10" fill="rgb(70,22,78)"/>
<rect x="1307.97" y="970.60" width="44.5" height="22.10" fill="rgb(40,40,16)"/>
<rect x="1355.94" y="970.60" width="44.5" height="22.10" fill="rgb(42,15,45)"/>
<rect x="1403.91" y="970.60" width="44.5" height="22.10" fill="rgb(88,25,97)"/>
<rect x="1451.88" y="970.60" width="44.5" height="22.10" fill="rgb(55,19,60)"/>
<rect x="1499.85" y="970.60" width="44.5" height="22.10" fill="rgb(40,40,16)"/>
<rect x="1547.82" y="970.60" width="44.5" height="22.10" fill="rgb(70,22,78)"/>
<rect x="1595.79" y="970.60" width="44.5" height="22.10" fill="rgb(40,40,16)"/>
<rect x="1643.76" y="970.60" width="44.5" height="22.10" fill="rgb(255,255,0)"/>
<rect x="1691.73" y="970.60" width="44.5" height="22.10" fill="rgb(55,19,60)"/>
<rect x="1739.70" y="970.60" width="44.5" height="22.10" fill="rgb(8,6,6)"/>
<rect x="1787.67" y="970.60" width="44.5" height="22.10" fill="rgb(70,22,78)"/>
<rect x="1835.64" y="970.60" width="44.5" height="22.10" fill="rgb(55,19,60)"/>
<rect x="1883.61" y="970.60" width="44.5" height="22.10" fill="rgb(40,40,16)"/>
<rect x="1931.58" y="970.60" width="44.5" height="22.10" fill="rgb(40,40,16)"/>
<rect x="1260.00" y="992.40" width="44.5" height="22.10" fill="rgb(28,10,28)"/>
<rect x="1307.97" y="992.40" width="44.5" height="22.10" fill="rgb(28,10,28)"/>
<rect x="1355.94" y="992.40" width="44.5" height="22.10" fill="rgb(42,15,45)"/>
<rect x="1403.91" y="992.40" width="44.5" height="22.10" fill="rgb(42,15,45)"/>
<rect x="1451.88" y="992.40" width="44.5" height="22.10" fill="rgb(28,10,28)"/>
<rect x="1499.85" y="992.40" width="44.5" height="22.10" fill="rgb(40,40,16)"/>
<rect x="1547.82" y="992.40" width="44.5" height="22.10" fill="rgb(42,15,45)"/>
<rect x="1595.79" y="992.40" width="44.5" height="22.10" fill="rgb(8,6,6)"/>
<rect x="1643.76" y="992.40" width="44.5" height="22.10" fill="rgb(255,255,0)"/>
<rect x="1691.73" y="992.40" width="44.5" height="22.10" fill="rgb(42,15,45)"/>
<rect x="1739.70" y="992.40" width="44.5" height="22.10" fill="rgb(42,15,45)"/>
<rect x="1787.67" y="992.40" width="44.5" height="22.10" fill="rgb(28,10,28)"/>
<rect x="1835.64" y="992.40" width="44.5" height="22.10" fill="rgb(28,10,28)"/>
<rect x="1883.61" y="992.40" width="44.5" height="22.10" fill="rgb(42,15,45)"/>
<rect x="1931.58" y="992.40" width="44.5" height="22.10" fill="rgb(42,15,45)"/>
<rect x="1260.00" y="1014.20" width="44.5" height="22.10" fill="rgb(42,15,45)"/>
<rect x="1307.97" y="1014.20" width="44.5" height="22.10" fill="rgb(28,10,28)"/>
<rect x="1355.94" y="1014.20" width="44.5" height="22.10" fill="rgb(42,15,45)"/>
<rect x="1403.91" y="1014.20" width="44.5" height="22.10" fill="rgb(42,15,45)"/>
<rect x="1451.88" y="1014.20" width="44.5" height="22.10" fill="rgb(28,10,28)"/>
<rect x="1499.85" y="1014.20" width="44.5" height="22.10" fill="rgb(40,40,16)"/>
<rect x="1547.82" y="1014.20" width="44.5" height="22.10" fill="rgb(55,19,60)"/>
<rect x="1595.79" y="1014.20" width="44.5" height="22.10" fill="rgb(8,6,6)"/>
<rect x="1643.76" y="1014.20" width="44.5" height="22.10" fill="rgb(255,255,0)"/>
<rect x="1691.73" y="1014.20" width="44.5" height="22.10" fill="rgb(42,15,45)"/>
<rect x="1739.70" y="1014.20" width="44.5" height="22.10" fill="rgb(8,6,6)"/>
<rect x="1787.67" y="1014.20" width="44.5" height="22.10" fill="rgb(28,10,28)"/>
<rect x="1835.64" y="1014.20" width="44.5" height="22.10" fill="rgb(28,10,28)"/>
<rect x="1883.61" y="1014.20" width="44.5" height="22.10" fill="rgb(42,15,45)"/>
<rect x="1931.58" y="1014.20" width="44.5" height="22.10" fill="rgb(28,10,28)"/>
<rect x="1260.00" y="1036.00" width="44.5" height="22.10" fill="rgb(42,15,45)"/>
<rect x="1307.97" y="1036.00" width="44.5" height="22.10" fill="rgb(42,15,45)"/>
<rect x="1355.94" y="1036.00" width="44.5" height="22.10" fill="rgb(42,15,45)"/>
<rect x="1403.91" y="1036.00" width="44.5" height="22.10" fill="rgb(42,15,45)"/>
<rect x="1451.88" y="1036.00" width="44.5" height="22.10" fill="rgb(28,10,28)"/>
<rect x="1499.85" y="1036.00" width="44.5" height="22.10" fill="rgb(40,40,16)"/>
<rect x="1547.82" y="1036.00" width="44.5" height="22.10" fill="rgb(42,15,45)"/>
<rect x="1595.79" y="1036.00" width="44.5" height="22.10" fill="rgb(28,10,28)"/>
<rect x="1643.76" y="1036.00" width="44.5" height="22.10" fill="rgb(255,255,0)"/>
<rect x="1691.73" y="1036.00" width="44.5" height="22.10" fill="rgb(42,15,45)"/>
<rect x="1739.70" y="1036.00" width="44.5" height="22.10" fill="rgb(28,10,28)"/>
<rect x="1787.67" y="1036.00" width="44.5" height="22.10" fill="rgb(28,10,28)"/>
<rect x="1835.64" y="1036.00" width="44.5" height="22.10" fill="rgb(42,15,45)"/>
<rect x="1883.61" y="1036.00" width="44.5" height="22.10" fill="rgb(28,10,28)"/>
<rect x="1931.58" y="1036.00" width="44.5" height="22.10" fill="rgb(28,10,28)"/>
<rect x="1260.00" y="1057.80" width="44.5" height="22.10" fill="rgb(88,25,97)"/>
<rect x="1307.97" y="1057.80" width="44.5" height="22.10" fill="rgb(40,40,16)"/>
<rect x="1355.94" y="1057.80" width="44.5" height="22.10" fill="rgb(40,40,16)"/>
<rect x="1403.91" y="1057.80" width="44.5" height="22.10" fill="rgb(42,15,45)"/>
<rect x="1451.88" y="1057.80" width="44.5" height="22.10" fill="rgb(88,25,97)"/>
<rect x="1499.85" y="1057.80" width="44.5" height="22.10" fill="rgb(40,40,16)"/>
<rect x="1547.82" y="1057.80" width="44.5" height="22.10" fill="rgb(55,19,60)"/>
<rect x="1595.79" y="1057.80" width="44.5" height="22.10" fill="rgb(8,6,6)"/>
<rect x="1643.76" y="1057.80" width="44.5" height="22.10" fill="rgb(42,15,45)"/>
<rect x="1691.73" y="1057.80" width="44.5" height="22.10" fill="rgb(255,255,0)"/>
<rect x="1739.70" y="1057.80" width="44.5" height="22.10" fill="rgb(40,40,16)"/>
<rect x="1787.67" y="1057.80" width="44.5" height="22.10" fill="rgb(70,22,78)"/>
<rect x="1835.64" y="1057.80" width="44.5" height="22.10" fill="rgb(55,19,60)"/>
<rect x="1883.61" y="1057.80" width="44.5" height="22.10" fill="rgb(28,10,28)"/>
<rect x="1931.58" y="1057.80" width="44.5" height="22.10" fill="rgb(8,6,6)"/>
<rect x="1260.00" y="1079.60" width="44.5" height="22.10" fill="rgb(42,15,45)"/>
<rect x="1307.97" y="1079.60" width="44.5" height="22.10" fill="rgb(42,15,45)"/>
<rect x="1355.94" y="1079.60" width="44.5" height="22.10" fill="rgb(8,6,6)"/>
<rect x="1403.91" y="1079.60" width="44.5" height="22.10" fill="rgb(28,10,28)"/>
<rect x="1451.88" y="1079.60" width="44.5" height="22.10" fill="rgb(28,10,28)"/>
<rect x="1499.85" y="1079.60" width="44.5" height="22.10" fill="rgb(8,6,6)"/>
<rect x="1547.82" y="1079.60" width="44.5" height="22.10" fill="rgb(28,10,28)"/>
<rect x="1595.79" y="1079.60" width="44.5" height="22.10" fill="rgb(42,15,45)"/>
<rect x="1643.76" y="1079.60" width="44.5" height="22.10" fill="rgb(55,19,60)"/>
<rect x="1691.73" y="1079.60" width="44.5" height="22.10" fill="rgb(255,255,0)"/>
<rect x="1739.70" y="1079.60" width="44.5" height="22.10" fill="rgb(8,6,6)"/>
<rect x="1787.67" y="1079.60" width="44.5" height="22.10" fill="rgb(8,6,6)"/>
<rect x="1835.64" y="1079.60" width="44.5" height="22.10" fill="rgb(42,15,45)"/>
<rect x="1883.61" y="1079.60" width="44.5" height="22.10" fill="rgb(55,19,60)"/>
<rect x="1931.58" y="1079.60" width="44.5" height="22.10" fill="rgb(70,22,78)"/>
<rect x="1260.00" y="1101.40" width="44.5" height="22.10" fill="rgb(88,25,97)"/>
<rect x="1307.97" y="1101.40" width="44.5" height="22.10" fill="rgb(8,6,6)"/>
<rect x="1355.94" y="1101.40" width="44.5" height="22.10" fill="rgb(28,10,28)"/>
<rect x="1403.91" y="1101.40" width="44.5" height="22.10" fill="rgb(70,22,78)"/>
<rect x="1451.88" y="1101.40" width="44.5" height="22.10" fill="rgb(70,22,78)"/>
<rect x="1499.85" y="1101.40" width="44.5" height="22.10" fill="rgb(62,62,22)"/>
<rect x="1547.82" y="1101.40" width="44.5" height="22.10" fill="rgb(70,22,78)"/>
<rect x="1595.79" y="1101.40" width="44.5" height="22.10" fill="rgb(8,6,6)"/>
<rect x="1643.76" y="1101.40" width="44.5" height="22.10" fill="rgb(70,22,78)"/>
<rect x="1691.73" y="1101.40" width="44.5" height="22.10" fill="rgb(255,255,0)"/>
<rect x="1739.70" y="1101.40" width="44.5" height="22.10" fill="rgb(112,112,30)"/>
<rect x="1787.67" y="1101.40" width="44.5" height="22.10" fill="rgb(70,22,78)"/>
<rect x="1835.64" y="1101.40" width="44.5" height="22.10" fill="rgb(88,25,97)"/>
<rect x="1883.61" y="1101.40" width="44.5" height="22.10" fill="rgb(8,6,6)"/>
<rect x="1931.58" y="1101.40" width="44.5" height="22.10" fill="rgb(112,112,30)"/>
<rect x="1260.00" y="1123.20" width="44.5" height="22.10" fill="rgb(42,15,45)"/>
<rect x="1307.97" y="1123.20" width="44.5" height="22.10" fill="rgb(8,6,6)"/>
<rect x="1355.94" y="1123.20" width="44.5" height="22.10" fill="rgb(8,6,6)"/>
<rect x="1403.91" y="1123.20" width="44.5" height="22.10" fill="rgb(8,6,6)"/>
<rect x="1451.88" y="1123.20" width="44.5" height="22.10" fill="rgb(55,19,60)"/>
<rect x="1499.85" y="1123.20" width="44.5" height="22.10" fill="rgb(8,6,6)"/>
<rect x="1547.82" y="1123.20" width="44.5" height="22.10" fill="rgb(28,10,28)"/>
<rect x="1595.79" y="1123.20" width="44.5" height="22.10" fill="rgb(28,10,28)"/>
<rect x="1643.76" y="1123.20" width="44.5" height="22.10" fill="rgb(55,19,60)"/>
<rect x="1691.73" y="1123.20" width="44.5" height="22.10" fill="rgb(255,255,0)"/>
<rect x="1739.70" y="1123.20" width="44.5" height="22.10" fill="rgb(28,10,28)"/>
<rect x="1787.67" y="1123.20" width="44.5" height="22.10" fill="rgb(28,10,28)"/>
<rect x="1835.64" y="1123.20" width="44.5" height="22.10" fill="rgb(42,15,45)"/>
<rect x="1883.61" y="1123.20" width="44.5" height="22.10" fill="rgb(55,19,60)"/>
<rect x="1931.58" y="1123.20" width="44.5" height="22.10" fill="rgb(70,22,78)"/>
<rect x="1260.00" y="1145.00" width="44.5" height="22.10" fill="rgb(42,15,45)"/>
<rect x="1307.97" y="1145.00" width="44.5" height="22.10" fill="rgb(40,40,16)"/>
<rect x="1355.94" y="1145.00" width="44.5" height="22.10" fill="rgb(28,10,28)"/>
<rect x="1403.91" y="1145.00" width="44.5" height="22.10" fill="rgb(55,19,60)"/>
<rect x="1451.88" y="1145.00" width="44.5" height="22.10" fill="rgb(55,19,60)"/>
<rect x="1499.85" y="1145.00" width="44.5" height="22.10" fill="rgb(145,145,34)"/>
<rect x="1547.82" y="1145.00" width="44.5" height="22.10" fill="rgb(55,19,60)"/>
<rect x="1595.79" y="1145.00" width="44.5" height="22.10" fill="rgb(42,15,45)"/>
<rect x="1643.76" y="1145.00" width="44.5" height="22.10" fill="rgb(40,40,16)"/>
<rect x="1691.73" y="1145.00" width="44.5" height="22.10" fill="rgb(255,255,0)"/>
<rect x="1739.70" y="1145.00" width="44.5" height="22.10" fill="rgb(55,19,60)"/>
<rect x="1787.67" y="1145.00" width="44.5" height="22.10" fill="rgb(42,15,45)"/>
<rect x="1835.64" y="1145.00" width="44.5" height="22.10" fill="rgb(42,15,45)"/>
<rect x="1883.61" y="1145.00" width="44.5" height="22.10" fill="rgb(55,19,60)"/>
<rect x="1931.58" y="1145.00" width="44.5" height="22.10" fill="rgb(28,10,28)"/>
<rect x="1260.00" y="1166.80" width="44.5" height="22.10" fill="rgb(70,22,78)"/>
<rect x="1307.97" y="1166.80" width="44.5" height="22.10" fill="rgb(55,19,60)"/>
<rect x="1355.94" y="1166.80" width="44.5" height="22.10" fill="rgb(28,10,28)"/>
<rect x="1403.91" y="1166.80" width="44.5" height="22.10" fill="rgb(42,15,45)"/>
<rect x="1451.88" y="1166.80" width="44.5" height="22.10" fill="rgb(28,10,28)"/>
<rect x="1499.85" y="1166.80" width="44.5" height="22.10" fill="rgb(28,10,28)"/>
<rect x="1547.82" y="1166.80" width="44.5" height="22.10" fill="rgb(42,15,45)"/>
<rect x="1595.79" y="1166.80" width="44.5" height="22.10" fill="rgb(8,6,6)"/>
<rect x="1643.76" y="1166.80" width="44.5" height="22.10" fill="rgb(42,15,45)"/>
<rect x="1691.73" y="1166.80" width="44.5" height="22.10" fill="rgb(42,15,45)"/>
<rect x="1739.70" y="1166.80" width="44.5" height="22.10" fill="rgb(255,255,0)"/>
<rect x="1787.67" y="1166.80" width="44.5" height="22.10" fill="rgb(28,10,28)"/>
<rect x="1835.64" y="1166.80" width="44.5" height="22.10" fill="rgb(42,15,45)"/>
<rect x="1883.61" y="1166.80" width="44.5" height="22.10" fill="rgb(228,228,18)"/>
<rect x="1931.58" y="1166.80" width="44.5" height="22.10" fill="rgb(42,15,45)"/>
<rect x="1260.00" y="1188.60" width="44.5" height="22.10" fill="rgb(55,19,60)"/>
<rect x="1307.97" y="1188.60" width="44.5" height="22.10" fill="rgb(8,6,6)"/>
<rect x="1355.94" y="1188.60" width="44.5" height="22.10" fill="rgb(62,62,22)"/>
<rect x="1403.91" y="1188.60" width="44.5" height="22.10" fill="rgb(42,15,45)"/>
<rect x="1451.88" y="1188.60" width="44.5" height="22.10" fill="rgb(55,19,60)"/>
<rect x="1499.85" y="1188.60" width="44.5" height="22.10" fill="rgb(28,10,28)"/>
<rect x="1547.82" y="1188.60" width="44.5" height="22.10" fill="rgb(28,10,28)"/>
<rect x="1595.79" y="1188.60" width="44.5" height="22.10" fill="rgb(40,40,16)"/>
<rect x="1643.76" y="1188.60" width="44.5" height="22.10" fill="rgb(55,19,60)"/>
<rect x="1691.73" y="1188.60" width="44.5" height="22.10" fill="rgb(28,10,28)"/>
<rect x="1739.70" y="1188.60" width="44.5" height="22.10" fill="rgb(255,255,0)"/>
<rect x="1787.67" y="1188.60" width="44.5" height="22.10" fill="rgb(70,22,78)"/>
<rect x="1835.64" y="1188.60" width="44.5" height="22.10" fill="rgb(55,19,60)"/>
<rect x="1883.61" y="1188.60" width="44.5" height="22.10" fill="rgb(8,6,6)"/>
<rect x="1931.58" y="1188.60" width="44.5" height="22.10" fill="rgb(55,19,60)"/>
<rect x="1260.00" y="1210.40" width="44.5" height="22.10" fill="rgb(108,29,118)"/>
<rect x="1307.97" y="1210.40" width="44.5" height="22.10" fill="rgb(108,29,118)"/>
<rect x="1355.94" y="1210.40" width="44.5" height="22.10" fill="rgb(55,19,60)"/>
<rect x="1403.91" y="1210.40" width="44.5" height="22.10" fill="rgb(88,25,97)"/>
<rect x="1451.88" y="1210.40" width="44.5" height="22.10" fill="rgb(8,6,6)"/>
<rect x="1499.85" y="1210.40" width="44.5" height="22.10" fill="rgb(55,19,60)"/>
<rect x="1547.82" y="1210.40" width="44.5" height="22.10" fill="rgb(70,22,78)"/>
<rect x="1595.79" y="1210.40" width="44.5" height="22.10" fill="rgb(85,85,26)"/>
<rect x="1643.76" y="1210.40" width="44.5" height="22.10" fill="rgb(70,22,78)"/>
<rect x="1691.73" y="1210.40" width="44.5" height="22.10" fill="rgb(8,6,6)"/>
<rect x="1739.70" y="1210.40" width="44.5" height="22.10" fill="rgb(228,228,18)"/>
<rect x="1787.67" y="1210.40" width="44.5" height="22.10" fill="rgb(55,19,60)"/>
<rect x="1835.64" y="1210.40" width="44.5" height="22.10" fill="rgb(40,40,16)"/>
<rect x="1883.61" y="1210.40" width="44.5" height="22.10" fill="rgb(145,145,34)"/>
<rect x="1931.58" y="1210.40" width="44.5" height="22.10" fill="rgb(85,85,26)"/>
<rect x="1260.00" y="1232.20" width="44.5" height="22.10" fill="rgb(42,15,45)"/>
<rect x="1307.97" y="1232.20" width="44.5" height="22.10" fill="rgb(42,15,45)"/>
<rect x="1355.94" y="1232.20" width="44.5" height="22.10" fill="rgb(8,6,6)"/>
<rect x="1403.91" y="1232.20" width="44.5" height="22.10" fill="rgb(42,15,45)"/>
<rect x="1451.88" y="1232.20" width="44.5" height="22.10" fill="rgb(42,15,45)"/>
<rect x="1499.85" y="1232.20" width="44.5" height="22.10" fill="rgb(55,19,60)"/>
<rect x="1547.82" y="1232.20" width="44.5" height="22.10" fill="rgb(55,19,60)"/>
<rect x="1595.79" y="1232.20" width="44.5" height="22.10" fill="rgb(28,10,28)"/>
<rect x="1643.76" y="1232.20" width="44.5" height="22.10" fill="rgb(28,10,28)"/>
<rect x="1691.73" y="1232.20" width="44.5" height="22.10" fill="rgb(28,10,28)"/>
<rect x="1739.70" y="1232.20" width="44.5" height="22.10" fill="rgb(255,255,0)"/>
<rect x="1787.67" y="1232.20" width="44.5" height="22.10" fill="rgb(42,15,45)"/>
<rect x="1835.64" y="1232.20" width="44.5" height="22.10" fill="rgb(42,15,45)"/>
<rect x="1883.61" y="1232.20" width="44.5" height="22.10" fill="rgb(28,10,28)"/>
<rect x="1931.58" y="1232.20" width="44.5" height="22.10" fill="rgb(85,85,26)"/>
<rect x="1260.00" y="1254.00" width="44.5" height="22.10" fill="rgb(55,19,60)"/>
<rect x="1307.97" y="1254.00" width="44.5" height="22.10" fill="rgb(70,22,78)"/>
<rect x="1355.94" y="1254.00" width="44.5" height="22.10" fill="rgb(55,19,60)"/>
<rect x="1403.91" y="1254.00" width="44.5" height="22.10" fill="rgb(70,22,78)"/>
<rect x="1451.88" y="1254.00" width="44.5" height="22.10" fill="rgb(28,10,28)"/>
<rect x="1499.85" y="1254.00" width="44.5" height="22.10" fill="rgb(70,22,78)"/>
<rect x="1547.82" y="1254.00" width="44.5" height="22.10" fill="rgb(55,19,60)"/>
<rect x="1595.79" y="1254.00" width="44.5" height="22.10" fill="rgb(40,40,16)"/>
<rect x="1643.76" y="1254.00" width="44.5" height="22.10" fill="rgb(55,19,60)"/>
<rect x="1691.73" y="1254.00" width="44.5" height="22.10" fill="rgb(55,19,60)"/>
<rect x="1739.70" y="1254.00" width="44.5" height="22.10" fill="rgb(228,228,18)"/>
<rect x="1787.67" y="1254.00" width="44.5" height="22.10" fill="rgb(42,15,45)"/>
<rect x="1835.64" y="1254.00" width="44.5" height="22.10" fill="rgb(8,6,6)"/>
<rect x="1883.61" y="1254.00" width="44.5" height="22.10" fill="rgb(228,228,18)"/>
<rect x="1931.58" y="1254.00" width="44.5" height="22.10" fill="rgb(8,6,6)"/>
<rect x="1260.00" y="1275.80" width="44.5" height="22.10" fill="rgb(55,19,60)"/>
<rect x="1307.97" y="1275.80" width="44.5" height="22.10" fill="rgb(42,15,45)"/>
<rect x="1355.94" y="1275.80" width="44.5" height="22.10" fill="rgb(62,62,22)"/>
<rect x="1403.91" y="1275.80" width="44.5" height="22.10" fill="rgb(112,112,30)"/>
<rect x="1451.88" y="1275.80" width="44.5" height="22.10" fill="rgb(42,15,45)"/>
<rect x="1499.85" y="1275.80" width="44.5" height="22.10" fill="rgb(42,15,45)"/>
<rect x="1547.82" y="1275.80" width="44.5" height="22.10" fill="rgb(8,6,6)"/>
<rect x="1595.79" y="1275.80" width="44.5" height="22.10" fill="rgb(28,10,28)"/>
<rect x="1643.76" y="1275.80" width="44.5" height="22.10" fill="rgb(55,19,60)"/>
<rect x="1691.73" y="1275.80" width="44.5" height="22.10" fill="rgb(28,10,28)"/>
<rect x="1739.70" y="1275.80" width="44.5" height="22.10" fill="rgb(28,10,28)"/>
<rect x="1787.67" y="1275.80" width="44.5" height="22.10" fill="rgb(255,255,0)"/>
<rect x="1835.64" y="1275.80" width="44.5" height="22.10" fill="rgb(42,15,45)"/>
<rect x="1883.61" y="1275.80" width="44.5" height="22.10" fill="rgb(55,19,60)"/>
<rect x="1931.58" y="1275.80" width="44.5" height="22.10" fill="rgb(55,19,60)"/>
<rect x="1260.00" y="1297.60" width="44.5" height="22.10" fill="rgb(42,15,45)"/>
<rect x="1307.97" y="1297.60" width="44.5" height="22.10" fill="rgb(42,15,45)"/>
<rect x="1355.94" y="1297.60" width="44.5" height="22.10" fill="rgb(28,10,28)"/>
<rect x="1403.91" y="1297.60" width="44.5" height="22.10" fill="rgb(85,85,26)"/>
<rect x="1451.88" y="1297.60" width="44.5" height="22.10" fill="rgb(42,15,45)"/>
<rect x="1499.85" y="1297.60" width="44.5" height="22.10" fill="rgb(42,15,45)"/>
<rect x="1547.82" y="1297.60" width="44.5" height="22.10" fill="rgb(42,15,45)"/>
<rect x="1595.79" y="1297.60" width="44.5" height="22.10" fill="rgb(28,10,28)"/>
<rect x="1643.76" y="1297.60" width="44.5" height="22.10" fill="rgb(42,15,45)"/>
<rect x="1691.73" y="1297.60" width="44.5" height="22.10" fill="rgb(28,10,28)"/>
<rect x="1739.70" y="1297.60" width="44.5" height="22.10" fill="rgb(28,10,28)"/>
<rect x="1787.67" y="1297.60" width="44.5" height="22.10" fill="rgb(255,255,0)"/>
<rect x="1835.64" y="1297.60" width="44.5" height="22.10" fill="rgb(42,15,45)"/>
<rect x="1883.61" y="1297.60" width="44.5" height="22.10" fill="rgb(42,15,45)"/>
<rect x="1931.58" y="1297.60" width="44.5" height="22.10" fill="rgb(42,15,45)"/>
<rect x="1260.00" y="1319.40" width="44.5" height="22.10" fill="rgb(55,19,60)"/>
<rect x="1307.97" y="1319.40" width="44.5" height="22.10" fill="rgb(55,19,60)"/>
<rect x="1355.94" y="1319.40" width="44.5" height="22.10" fill="rgb(8,6,6)"/>
<rect x="1403.91" y="1319.40" width="44.5" height="22.10" fill="rgb(145,145,34)"/>
<rect x="1451.88" y="1319.40" width="44.5" height="22.10" fill="rgb(42,15,45)"/>
<rect x="1499.85" y="1319.40" width="44.5" height="22.10" fill="rgb(42,15,45)"/>
<rect x="1547.82" y="1319.40" width="44.5" height="22.10" fill="rgb(8,6,6)"/>
<rect x="1595.79" y="1319.40" width="44.5" height="22.10" fill="rgb(28,10,28)"/>
<rect x="1643.76" y="1319.40" width="44.5" height="22.10" fill="rgb(42,15,45)"/>
<rect x="1691.73" y="1319.40" width="44.5" height="22.10" fill="rgb(42,15,45)"/>
<rect x="1739.70" y="1319.40" width="44.5" height="22.10" fill="rgb(8,6,6)"/>
<rect x="1787.67" y="1319.40" width="44.5" height="22.10" fill="rgb(255,255,0)"/>
<rect x="1835.64" y="1319.40" width="44.5" height="22.10" fill="rgb(55,19,60)"/>
<rect x="1883.61" y="1319.40" width="44.5" height="22.10" fill="rgb(55,19,60)"/>
<rect x="1931.58" y="1319.40" width="44.5" height="22.10" fill="rgb(55,19,60)"/>
<rect x="1260.00" y="1341.20" width="44.5" height="22.10" fill="rgb(42,15,45)"/>
<rect x="1307.97" y="1341.20" width="44.5" height="22.10" fill="rgb(28,10,28)"/>
<rect x="1355.94" y="1341.20" width="44.5" height="22.10" fill="rgb(8,6,6)"/>
<rect x="1403.91" y="1341.20" width="44.5" height="22.10" fill="rgb(28,10,28)"/>
<rect x="1451.88" y="1341.20" width="44.5" height="22.10" fill="rgb(42,15,45)"/>
<rect x="1499.85" y="1341.20" width="44.5" height="22.10" fill="rgb(42,15,45)"/>
<rect x="1547.82" y="1341.20" width="44.5" height="22.10" fill="rgb(28,10,28)"/>
<rect x="1595.79" y="1341.20" width="44.5" height="22.10" fill="rgb(28,10,28)"/>
<rect x="1643.76" y="1341.20" width="44.5" height="22.10" fill="rgb(42,15,45)"/>
<rect x="1691.73" y="1341.20" width="44.5" height="22.10" fill="rgb(42,15,45)"/>
<rect x="1739.70" y="1341.20" width="44.5" height="22.10" fill="rgb(28,10,28)"/>
<rect x="1787.67" y="1341.20" width="44.5" height="22.10" fill="rgb(255,255,0)"/>
<rect x="1835.64" y="1341.20" width="44.5" height="22.10" fill="rgb(28,10,28)"/>
<rect x="1883.61" y="1341.20" width="44.5" height="22.10" fill="rgb(28,10,28)"/>
<rect x="1931.58" y="1341.20" width="44.5" height="22.10" fill="rgb(42,15,45)"/>
<rect x="1260.00" y="1363.00" width="44.5" height="22.10" fill="rgb(145,145,34)"/>
<rect x="1307.97" y="1363.00" width="44.5" height="22.10" fill="rgb(8,6,6)"/>
<rect x="1355.94" y="1363.00" width="44.5" height="22.10" fill="rgb(40,40,16)"/>
<rect x="1403.91" y="1363.00" width="44.5" height="22.10" fill="rgb(42,15,45)"/>
<rect x="1451.88" y="1363.00" width="44.5" height="22.10" fill="rgb(40,40,16)"/>
<rect x="1499.85" y="1363.00" width="44.5" height="22.10" fill="rgb(40,40,16)"/>
<rect x="1547.82" y="1363.00" width="44.5" height="22.10" fill="rgb(108,29,118)"/>
<rect x="1595.79" y="1363.00" width="44.5" height="22.10" fill="rgb(42,15,45)"/>
<rect x="1643.76" y="1363.00" width="44.5" height="22.10" fill="rgb(108,29,118)"/>
<rect x="1691.73" y="1363.00" width="44.5" height="22.10" fill="rgb(88,25,97)"/>
<rect x="1739.70" y="1363.00" width="44.5" height="22.10" fill="rgb(8,6,6)"/>
<rect x="1787.67" y="1363.00" width="44.5" height="22.10" fill="rgb(55,19,60)"/>
<rect x="1835.64" y="1363.00" width="44.5" height="22.10" fill="rgb(255,255,0)"/>
<rect x="1883.61" y="1363.00" width="44.5" height="22.10" fill="rgb(70,22,78)"/>
<rect x="1931.58" y="1363.00" width="44.5" height="22.10" fill="rgb(70,22,78)"/>
<rect x="1260.00" y="1384.80" width="44.5" height="22.10" fill="rgb(112,112,30)"/>
<rect x="1307.97" y="1384.80" width="44.5" height="22.10" fill="rgb(70,22,78)"/>
<rect x="1355.94" y="1384.80" width="44.5" height="22.10" fill="rgb(112,112,30)"/>
<rect x="1403.91" y="1384.80" width="44.5" height="22.10" fill="rgb(28,10,28)"/>
<rect x="1451.88" y="1384.80" width="44.5" height="22.10" fill="rgb(40,40,16)"/>
<rect x="1499.85" y="1384.80" width="44.5" height="22.10" fill="rgb(8,6,6)"/>
<rect x="1547.82" y="1384.80" width="44.5" height="22.10" fill="rgb(28,10,28)"/>
<rect x="1595.79" y="1384.80" width="44.5" height="22.10" fill="rgb(42,15,45)"/>
<rect x="1643.76" y="1384.80" width="44.5" height="22.10" fill="rgb(108,29,118)"/>
<rect x="1691.73" y="1384.80" width="44.5" height="22.10" fill="rgb(108,29,118)"/>
<rect x="1739.70" y="1384.80" width="44.5" height="22.10" fill="rgb(8,6,6)"/>
<rect x="1787.67" y="1384.80" width="44.5" height="22.10" fill="rgb(28,10,28)"/>
<rect x="1835.64" y="1384.80" width="44.5" height="22.10" fill="rgb(255,255,0)"/>
<rect x="1883.61" y="1384.80" width="44.5" height="22.10" fill="rgb(55,19,60)"/>
<rect x="1931.58" y="1384.80" width="44.5" height="22.10" fill="rgb(108,29,118)"/>
<rect x="1260.00" y="1406.60" width="44.5" height="22.10" fill="rgb(145,145,34)"/>
<rect x="1307.97" y="1406.60" width="44.5" height="22.10" fill="rgb(28,10,28)"/>
<rect x="1355.94" y="1406.60" width="44.5" height="22.10" fill="rgb(85,85,26)"/>
<rect x="1403.91" y="1406.60" width="44.5" height="22.10" fill="rgb(55,19,60)"/>
<rect x="1451.88" y="1406.60" width="44.5" height="22.10" fill="rgb(85,85,26)"/>
<rect x="1499.85" y="1406.60" width="44.5" height="22.10" fill="rgb(8,6,6)"/>
<rect x="1547.82" y="1406.60" width="44.5" height="22.10" fill="rgb(55,19,60)"/>
<rect x="1595.79" y="1406.60" width="44.5" height="22.10" fill="rgb(42,15,45)"/>
<rect x="1643.76" y="1406.60" width="44.5" height="22.10" fill="rgb(108,29,118)"/>
<rect x="1691.73" y="1406.60" width="44.5" height="22.10" fill="rgb(55,19,60)"/>
<rect x="1739.70" y="1406.60" width="44.5" height="22.10" fill="rgb(8,6,6)"/>
<rect x="1787.67" y="1406.60" width="44.5" height="22.10" fill="rgb(55,19,60)"/>
<rect x="1835.64" y="1406.60" width="44.5" height="22.10" fill="rgb(255,255,0)"/>
<rect x="1883.61" y="1406.60" width="44.5" height="22.10" fill="rgb(88,25,97)"/>
<rect x="1931.58" y="1406.60" width="44.5" height="22.10" fill="rgb(70,22,78)"/>
<rect x="1260.00" y="1428.40" width="44.5" height="22.10" fill="rgb(88,25,97)"/>
<rect x="1307.97" y="1428.40" width="44.5" height="22.10" fill="rgb(88,25,97)"/>
<rect x="1355.94" y="1428.40" width="44.5" height="22.10" fill="rgb(62,62,22)"/>
<rect x="1403.91" y="1428.40" width="44.5" height="22.10" fill="rgb(145,145,34)"/>
<rect x="1451.88" y="1428.40" width="44.5" height="22.10" fill="rgb(145,145,34)"/>
<rect x="1499.85" y="1428.40" width="44.5" height="22.10" fill="rgb(88,25,97)"/>
<rect x="1547.82" y="1428.40" width="44.5" height="22.10" fill="rgb(8,6,6)"/>
<rect x="1595.79" y="1428.40" width="44.5" height="22.10" fill="rgb(28,10,28)"/>
<rect x="1643.76" y="1428.40" width="44.5" height="22.10" fill="rgb(88,25,97)"/>
<rect x="1691.73" y="1428.40" width="44.5" height="22.10" fill="rgb(42,15,45)"/>
<rect x="1739.70" y="1428.40" width="44.5" height="22.10" fill="rgb(28,10,28)"/>
<rect x="1787.67" y="1428.40" width="44.5" height="22.10" fill="rgb(8,6,6)"/>
<rect x="1835.64" y="1428.40" width="44.5" height="22.10" fill="rgb(228,228,18)"/>
<rect x="1883.61" y="1428.40" width="44.5" height="22.10" fill="rgb(70,22,78)"/>
<rect x="1931.58" y="1428.40" width="44.5" height="22.10" fill="rgb(108,29,118)"/>
<rect x="1260.00" y="1450.20" width="44.5" height="22.10" fill="rgb(55,19,60)"/>
<rect x="1307.97" y="1450.20" width="44.5" height="22.10" fill="rgb(42,15,45)"/>
<rect x="1355.94" y="1450.20" width="44.5" height="22.10" fill="rgb(40,40,16)"/>
<rect x="1403.91" y="1450.20" width="44.5" height="22.10" fill="rgb(42,15,45)"/>
<rect x="1451.88" y="1450.20" width="44.5" height="22.10" fill="rgb(28,10,28)"/>
<rect x="1499.85" y="1450.20" width="44.5" height="22.10" fill="rgb(42,15,45)"/>
<rect x="1547.82" y="1450.20" width="44.5" height="22.10" fill="rgb(195,195,30)"/>
<rect x="1595.79" y="1450.20" width="44.5" height="22.10" fill="rgb(70,22,78)"/>
<rect x="1643.76" y="1450.20" width="44.5" height="22.10" fill="rgb(42,15,45)"/>
<rect x="1691.73" y="1450.20" width="44.5" height="22.10" fill="rgb(42,15,45)"/>
<rect x="1739.70" y="1450.20" width="44.5" height="22.10" fill="rgb(42,15,45)"/>
<rect x="1787.67" y="1450.20" width="44.5" height="22.10" fill="rgb(28,10,28)"/>
<rect x="1835.64" y="1450.20" width="44.5" height="22.10" fill="rgb(255,255,0)"/>
<rect x="1883.61" y="1450.20" width="44.5" height="22.10" fill="rgb(28,10,28)"/>
<rect x="1931.58" y="1450.20" width="44.5" height="22.10" fill="rgb(55,19,60)"/>
<rect x="1260.00" y="1472.00" width="44.5" height="22.10" fill="rgb(55,19,60)"/>
<rect x="1307.97" y="1472.00" width="44.5" height="22.10" fill="rgb(42,15,45)"/>
<rect x="1355.94" y="1472.00" width="44.5" height="22.10" fill="rgb(28,10,28)"/>
<rect x="1403.91" y="1472.00" width="44.5" height="22.10" fill="rgb(55,19,60)"/>
<rect x="1451.88" y="1472.00" width="44.5" height="22.10" fill="rgb(8,6,6)"/>
<rect x="1499.85" y="1472.00" width="44.5" height="22.10" fill="rgb(40,40,16)"/>
<rect x="1547.82" y="1472.00" width="44.5" height="22.10" fill="rgb(42,15,45)"/>
<rect x="1595.79" y="1472.00" width="44.5" height="22.10" fill="rgb(40,40,16)"/>
<rect x="1643.76" y="1472.00" width="44.5" height="22.10" fill="rgb(28,10,28)"/>
<rect x="1691.73" y="1472.00" width="44.5" height="22.10" fill="rgb(55,19,60)"/>
<rect x="1739.70" y="1472.00" width="44.5" height="22.10" fill="rgb(8,6,6)"/>
<rect x="1787.67" y="1472.00" width="44.5" height="22.10" fill="rgb(42,15,45)"/>
<rect x="1835.64" y="1472.00" width="44.5" height="22.10" fill="rgb(28,10,28)"/>
<rect x="1883.61" y="1472.00" width="44.5" height="22.10" fill="rgb(255,255,0)"/>
<rect x="1931.58" y="1472.00" width="44.5" height="22.10" fill="rgb(42,15,45)"/>
<rect x="1260.00" y="1493.80" width="44.5" height="22.10" fill="rgb(42,15,45)"/>
<rect x="1307.97" y="1493.80" width="44.5" height="22.10" fill="rgb(42,15,45)"/>
<rect x="1355.94" y="1493.80" width="44.5" height="22.10" fill="rgb(28,10,28)"/>
<rect x="1403.91" y="1493.80" width="44.5" height="22.10" fill="rgb(42,15,45)"/>
<rect x="1451.88" y="1493.80" width="44.5" height="22.10" fill="rgb(28,10,28)"/>
<rect x="1499.85" y="1493.80" width="44.5" height="22.10" fill="rgb(42,15,45)"/>
<rect x="1547.82" y="1493.80" width="44.5" height="22.10" fill="rgb(28,10,28)"/>
<rect x="1595.79" y="1493.80" width="44.5" height="22.10" fill="rgb(40,40,16)"/>
<rect x="1643.76" y="1493.80" width="44.5" height="22.10" fill="rgb(42,15,45)"/>
<rect x="1691.73" y="1493.80" width="44.5" height="22.10" fill="rgb(42,15,45)"/>
<rect x="1739.70" y="1493.80" width="44.5" height="22.10" fill="rgb(8,6,6)"/>
<rect x="1787.67" y="1493.80" width="44.5" height="22.10" fill="rgb(42,15,45)"/>
<rect x="1835.64" y="1493.80" width="44.5" height="22.10" fill="rgb(28,10,28)"/>
<rect x="1883.61" y="1493.80" width="44.5" height="22.10" fill="rgb(255,255,0)"/>
<rect x="1931.58" y="1493.80" width="44.5" height="22.10" fill="rgb(42,15,45)"/>
<rect x="1260.00" y="1515.60" width="44.5" height="22.10" fill="rgb(42,15,45)"/>
<rect x="1307.97" y="1515.60" width="44.5" height="22.10" fill="rgb(42,15,45)"/>
<rect x="1355.94" y="1515.60" width="44.5" height="22.10" fill="rgb(40,40,16)"/>
<rect x="1403.91" y="1515.60" width="44.5" height="22.10" fill="rgb(28,10,28)"/>
<rect x="1451.88" y="1515.60" width="44.5" height="22.10" fill="rgb(42,15,45)"/>
<rect x="1499.85" y="1515.60" width="44.5" height="22.10" fill="rgb(28,10,28)"/>
<rect x="1547.82" y="1515.60" width="44.5" height="22.10" fill="rgb(8,6,6)"/>
<rect x="1595.79" y="1515.60" width="44.5" height="22.10" fill="rgb(28,10,28)"/>
<rect x="1643.76" y="1515.60" width="44.5" height="22.10" fill="rgb(55,19,60)"/>
<rect x="1691.73" y="1515.60" width="44.5" height="22.10" fill="rgb(28,10,28)"/>
<rect x="1739.70" y="1515.60" width="44.5" height="22.10" fill="rgb(8,6,6)"/>
<rect x="1787.67" y="1515.60" width="44.5" height="22.10" fill="rgb(42,15,45)"/>
<rect x="1835.64" y="1515.60" width="44.5" height="22.10" fill="rgb(42,15,45)"/>
<rect x="1883.61" y="1515.60" width="44.5" height="22.10" fill="rgb(255,255,0)"/>
<rect x="1931.58" y="1515.60" width="44.5" height="22.10" fill="rgb(42,15,45)"/>
<rect x="1260.00" y="1537.40" width="44.5" height="22.10" fill="rgb(42,15,45)"/>
<rect x="1307.97" y="1537.40" width="44.5" height="22.10" fill="rgb(42,15,45)"/>
<rect x="1355.94" y="1537.40" width="44.5" height="22.10" fill="rgb(28,10,28)"/>
<rect x="1403.91" y="1537.40" width="44.5" height="22.10" fill="rgb(28,10,28)"/>
<rect x="1451.88" y="1537.40" width="44.5" height="22.10" fill="rgb(42,15,45)"/>
<rect x="1499.85" y="1537.40" width="44.5" height="22.10" fill="rgb(42,15,45)"/>
<rect x="1547.82" y="1537.40" width="44.5" height="22.10" fill="rgb(8,6,6)"/>
<rect x="1595.79" y="1537.40" width="44.5" height="22.10" fill="rgb(62,62,22)"/>
<rect x="1643.76" y="1537.40" width="44.5" height="22.10" fill="rgb(42,15,45)"/>
<rect x="1691.73" y="1537.40" width="44.5" height="22.10" fill="rgb(42,15,45)"/>
<rect x="1739.70" y="1537.40" width="44.5" height="22.10" fill="rgb(8,6,6)"/>
<rect x="1787.67" y="1537.40" width="44.5" height="22.10" fill="rgb(42,15,45)"/>
<rect x="1835.64" y="1537.40" width="44.5" height="22.10" fill="rgb(42,15,45)"/>
<rect x="1883.61" y="1537.40" width="44.5" height="22.10" fill="rgb(255,255,0)"/>
<rect x="1931.58" y="1537.40" width="44.5" height="22.10" fill="rgb(42,15,45)"/>
<rect x="1260.00" y="1559.20" width="44.5" height="22.10" fill="rgb(55,19,60)"/>
<rect x="1307.97" y="1559.20" width="44.5" height="22.10" fill="rgb(70,22,78)"/>
<rect x="1355.94" y="1559.20" width="44.5" height="22.10" fill="rgb(40,40,16)"/>
<rect x="1403.91" y="1559.20" width="44.5" height="22.10" fill="rgb(42,15,45)"/>
<rect x="1451.88" y="1559.20" width="44.5" height="22.10" fill="rgb(70,22,78)"/>
<rect x="1499.85" y="1559.20" width="44.5" height="22.10" fill="rgb(28,10,28)"/>
<rect x="1547.82" y="1559.20" width="44.5" height="22.10" fill="rgb(42,15,45)"/>
<rect x="1595.79" y="1559.20" width="44.5" height="22.10" fill="rgb(42,15,45)"/>
<rect x="1643.76" y="1559.20" width="44.5" height="22.10" fill="rgb(70,22,78)"/>
<rect x="1691.73" y="1559.20" width="44.5" height="22.10" fill="rgb(70,22,78)"/>
<rect x="1739.70" y="1559.20" width="44.5" height="22.10" fill="rgb(145,145,34)"/>
<rect x="1787.67" y="1559.20" width="44.5" height="22.10" fill="rgb(55,19,60)"/>
<rect x="1835.64" y="1559.20" width="44.5" height="22.10" fill="rgb(8,6,6)"/>
<rect x="1883.61" y="1559.20" width="44.5" height="22.10" fill="rgb(255,255,0)"/>
<rect x="1931.58" y="1559.20" width="44.5" height="22.10" fill="rgb(62,62,22)"/>
<rect x="1260.00" y="1581.00" width="44.5" height="22.10" fill="rgb(28,10,28)"/>
<rect x="1307.97" y="1581.00" width="44.5" height="22.10" fill="rgb(28,10,28)"/>
<rect x="1355.94" y="1581.00" width="44.5" height="22.10" fill="rgb(55,19,60)"/>
<rect x="1403.91" y="1581.00" width="44.5" height="22.10" fill="rgb(42,15,45)"/>
<rect x="1451.88" y="1581.00" width="44.5" height="22.10" fill="rgb(42,15,45)"/>
<rect x="1499.85" y="1581.00" width="44.5" height="22.10" fill="rgb(62,62,22)"/>
<rect x="1547.82" y="1581.00" width="44.5" height="22.10" fill="rgb(42,15,45)"/>
<rect x="1595.79" y="1581.00" width="44.5" height="22.10" fill="rgb(42,15,45)"/>
<rect x="1643.76" y="1581.00" width="44.5" height="22.10" fill="rgb(28,10,28)"/>
<rect x="1691.73" y="1581.00" width="44.5" height="22.10" fill="rgb(42,15,45)"/>
<rect x="1739.70" y="1581.00" width="44.5" height="22.10" fill="rgb(42,15,45)"/>
<rect x="1787.67" y="1581.00" width="44.5" height="22.10" fill="rgb(42,15,45)"/>
<rect x="1835.64" y="1581.00" width="44.5" height="22.10" fill="rgb(42,15,45)"/>
<rect x="1883.61" y="1581.00" width="44.5" height="22.10" fill="rgb(8,6,6)"/>
<rect x="1931.58" y="1581.00" width="44.5" height="22.10" fill="rgb(255,255,0)"/>
<rect x="1260.00" y="1602.80" width="44.5" height="22.10" fill="rgb(42,15,45)"/>
<rect x="1307.97" y="1602.80" width="44.5" height="22.10" fill="rgb(28,10,28)"/>
<rect x="1355.94" y="1602.80" width="44.5" height="22.10" fill="rgb(42,15,45)"/>
<rect x="1403.91" y="1602.80" width="44.5" height="22.10" fill="rgb(42,15,45)"/>
<rect x="1451.88" y="1602.80" width="44.5" height="22.10" fill="rgb(42,15,45)"/>
<rect x="1499.85" y="1602.80" width="44.5" height="22.10" fill="rgb(112,112,30)"/>
<rect x="1547.82" y="1602.80" width="44.5" height="22.10" fill="rgb(55,19,60)"/>
<rect x="1595.79" y="1602.80" width="44.5" height="22.10" fill="rgb(42,15,45)"/>
<rect x="1643.76" y="1602.80" width="44.5" height="22.10" fill="rgb(112,112,30)"/>
<rect x="1691.73" y="1602.80" width="44.5" height="22.10" fill="rgb(42,15,45)"/>
<rect x="1739.70" y="1602.80" width="44.5" height="22.10" fill="rgb(55,19,60)"/>
<rect x="1787.67" y="1602.80" width="44.5" height="22.10" fill="rgb(42,15,45)"/>
<rect x="1835.64" y="1602.80" width="44.5" height="22.10" fill="rgb(42,15,45)"/>
<rect x="1883.61" y="1602.80" width="44.5" height="22.10" fill="rgb(28,10,28)"/>
<rect x="1931.58" y="1602.80" width="44.5" height="22.10" fill="rgb(255,255,0)"/>
<rect x="1260.00" y="1624.60" width="44.5" height="22.10" fill="rgb(42,15,45)"/>
<rect x="1307.97" y="1624.60" width="44.5" height="22.10" fill="rgb(55,19,60)"/>
<rect x="1355.94" y="1624.60" width="44.5" height="22.10" fill="rgb(28,10,28)"/>
<rect x="1403.91" y="1624.60" width="44.5" height="22.10" fill="rgb(42,15,45)"/>
<rect x="1451.88" y="1624.60" width="44.5" height="22.10" fill="rgb(55,19,60)"/>
<rect x="1499.85" y="1624.60" width="44.5" height="22.10" fill="rgb(8,6,6)"/>
<rect x="1547.82" y="1624.60" width="44.5" height="22.10" fill="rgb(55,19,60)"/>
<rect x="1595.79" y="1624.60" width="44.5" height="22.10" fill="rgb(28,10,28)"/>
<rect x="1643.76" y="1624.60" width="44.5" height="22.10" fill="rgb(55,19,60)"/>
<rect x="1691.73" y="1624.60" width="44.5" height="22.10" fill="rgb(28,10,28)"/>
<rect x="1739.70" y="1624.60" width="44.5" height="22.10" fill="rgb(195,195,30)"/>
<rect x="1787.67" y="1624.60" width="44.5" height="22.10" fill="rgb(42,15,45)"/>
<rect x="1835.64" y="1624.60" width="44.5" height="22.10" fill="rgb(42,15,45)"/>
<rect x="1883.61" y="1624.60" width="44.5" height="22.10" fill="rgb(40,40,16)"/>
<rect x="1931.58" y="1624.60" width="44.5" height="22.10" fill="rgb(255,255,0)"/>
<rect x="1260.00" y="1646.40" width="44.5" height="22.10" fill="rgb(28,10,28)"/>
<rect x="1307.97" y="1646.40" width="44.5" height="22.10" fill="rgb(28,10,28)"/>
<rect x="1355.94" y="1646.40" width="44.5" height="22.10" fill="rgb(28,10,28)"/>
<rect x="1403.91" y="1646.40" width="44.5" height="22.10" fill="rgb(42,15,45)"/>
<rect x="1451.88" y="1646.40" width="44.5" height="22.10" fill="rgb(42,15,45)"/>
<rect x="1499.85" y="1646.40" width="44.5" height="22.10" fill="rgb(40,40,16)"/>
<rect x="1547.82" y="1646.40" width="44.5" height="22.10" fill="rgb(42,15,45)"/>
<rect x="1595.79" y="1646.40" width="44.5" height="22.10" fill="rgb(42,15,45)"/>
<rect x="1643.76" y="1646.40" width="44.5" height="22.10" fill="rgb(42,15,45)"/>
<rect x="1691.73" y="1646.40" width="44.5" height="22.10" fill="rgb(28,10,28)"/>
<rect x="1739.70" y="1646.40" width="44.5" height="22.10" fill="rgb(8,6,6)"/>
<rect x="1787.67" y="1646.40" width="44.5" height="22.10" fill="rgb(28,10,28)"/>
<rect x="1835.64" y="1646.40" width="44.5" height="22.10" fill="rgb(42,15,45)"/>
<rect x="1883.61" y="1646.40" width="44.5" height="22.10" fill="rgb(28,10,28)"/>
<rect x="1931.58" y="1646.40" width="44.5" height="22.10" fill="rgb(255,255,0)"/>
<rect x="1260.00" y="1668.20" width="44.5" height="22.10" fill="rgb(42,15,45)"/>
<rect x="1307.97" y="1668.20" width="44.5" height="22.10" fill="rgb(55,19,60)"/>
<rect x="1355.94" y="1668.20" width="44.5" height="22.10" fill="rgb(42,15,45)"/>
<rect x="1403.91" y="1668.20" width="44.5" height="22.10" fill="rgb(42,15,45)"/>
<rect x="1451.88" y="1668.20" width="44.5" height="22.10" fill="rgb(42,15,45)"/>
<rect x="1499.85" y="1668.20" width="44.5" height="22.10" fill="rgb(8,6,6)"/>
<rect x="1547.82" y="1668.20" width="44.5" height="22.10" fill="rgb(42,15,45)"/>
<rect x="1595.79" y="1668.20" width="44.5" height="22.10" fill="rgb(42,15,45)"/>
<rect x="1643.76" y="1668.20" width="44.5" height="22.10" fill="rgb(42,15,45)"/>
<rect x="1691.73" y="1668.20" width="44.5" height="22.10" fill="rgb(55,19,60)"/>
<rect x="1739.70" y="1668.20" width="44.5" height="22.10" fill="rgb(85,85,26)"/>
<rect x="1787.67" y="1668.20" width="44.5" height="22.10" fill="rgb(42,15,45)"/>
<rect x="1835.64" y="1668.20" width="44.5" height="22.10" fill="rgb(28,10,28)"/>
<rect x="1883.61" y="1668.20" width="44.5" height="22.10" fill="rgb(28,10,28)"/>
<rect x="1931.58" y="1668.20" width="44.5" height="22.10" fill="rgb(255,255,0)"/>
</g>
<g style="font-family:'Liberation Sans',Arial,sans-serif;font-weight:bold" font-size="27.5" stroke="#000" stroke-width="0.6" transform="translate(1989.5 0) scale(0.855 1)">
<text x="0" y="92.2">APOC1</text>
<text x="0" y="114.0">MARCO</text>
<text x="0" y="135.8">C1QB</text>
<text x="0" y="157.6">C19orf59</text>
<text x="0" y="179.4">FABP4</text>
<text x="0" y="201.2">SFTPB</text>
<text x="0" y="223.0">SFTPC</text>
<text x="0" y="244.8">SFTPA2</text>
<text x="0" y="266.6">SLPI</text>
<text x="0" y="288.4">NAPSA</text>
<text x="0" y="310.2">IGHA1</text>
<text x="0" y="332.0">IGHM</text>
<text x="0" y="353.8">IGHG3</text>
<text x="0" y="375.6">IGHG1</text>
<text x="0" y="397.4">IGKC</text>
<text x="0" y="419.2">CCL5</text>
<text x="0" y="441.0">TRBC2</text>
<text x="0" y="462.8">CD2</text>
<text x="0" y="484.6">IL32</text>
<text x="0" y="506.4">TRAC</text>
<text x="0" y="528.2">S100A9</text>
<text x="0" y="550.0">VCAN</text>
<text x="0" y="571.8">APOBEC3A</text>
<text x="0" y="593.6">CD300E</text>
<text x="0" y="615.4">THBS1</text>
<text x="0" y="637.2">SCGB1A1</text>
<text x="0" y="659.0">SCGB3A1</text>
<text x="0" y="680.8">SCGB3A2</text>
<text x="0" y="702.6">BPIFB1</text>
<text x="0" y="724.4">WFDC2</text>
<text x="0" y="746.2">TPSAB1</text>
<text x="0" y="768.0">CPA3</text>
<text x="0" y="789.8">HPGDS</text>
<text x="0" y="811.6">KIT</text>
<text x="0" y="833.4">TPSD1</text>
<text x="0" y="855.2">PRG4</text>
<text x="0" y="877.0">MT2A</text>
<text x="0" y="898.8">MT1E</text>
<text x="0" y="920.6">KRT19</text>
<text x="0" y="942.4">SLC6A14</text>
<text x="0" y="964.2">C9orf24</text>
<text x="0" y="986.0">TPPP3</text>
<text x="0" y="1007.8">C20orf85</text>
<text x="0" y="1029.6">RSPH1</text>
<text x="0" y="1051.4">C11orf88</text>
<text x="0" y="1073.2">EMP2</text>
<text x="0" y="1095.0">AGER</text>
<text x="0" y="1116.8">CAV1</text>
<text x="0" y="1138.6">RTKN2</text>
<text x="0" y="1160.4">CEACAM6</text>
<text x="0" y="1182.2">SPARCL1</text>
<text x="0" y="1204.0">EPAS1</text>
<text x="0" y="1225.8">EMP1</text>
<text x="0" y="1247.6">VWF</text>
<text x="0" y="1269.4">SERPINE1</text>
<text x="0" y="1291.2">GNLY</text>
<text x="0" y="1313.0">NKG7</text>
<text x="0" y="1334.8">GZMA</text>
<text x="0" y="1356.6">FGFBP2</text>
<text x="0" y="1378.4">HLA−DPA1</text>
<text x="0" y="1400.2">HLA−DQA1</text>
<text x="0" y="1422.0">HLA−DQB1</text>
<text x="0" y="1443.8">GPR183</text>
<text x="0" y="1465.6">FCER1A</text>
<text x="0" y="1487.4">DCN</text>
<text x="0" y="1509.2">COL1A2</text>
<text x="0" y="1531.0">LUM</text>
<text x="0" y="1552.8">COL3A1</text>
<text x="0" y="1574.6">A2M</text>
<text x="0" y="1596.4">CCL21</text>
<text x="0" y="1618.2">TFF3</text>
<text x="0" y="1640.0">GNG11</text>
<text x="0" y="1661.8">MMRN1</text>
<text x="0" y="1683.6">LYVE1</text>
</g>
<text transform="translate(1285 1698.7) rotate(-90) scale(0.925 1)" text-anchor="end" style="font-family:'Liberation Sans',Arial,sans-serif;font-weight:bold" font-size="25.4" stroke="#000" stroke-width="0.6">Macrophages</text>
<text transform="translate(1339 1698.7) rotate(-90) scale(0.925 1)" text-anchor="end" style="font-family:'Liberation Sans',Arial,sans-serif;font-weight:bold" font-size="25.4" stroke="#000" stroke-width="0.6">Type 2</text>
<text transform="translate(1384.1 1698.7) rotate(-90) scale(0.925 1)" text-anchor="end" style="font-family:'Liberation Sans',Arial,sans-serif;font-weight:bold" font-size="25.4" stroke="#000" stroke-width="0.6">B cell</text>
<text transform="translate(1436.6 1698.7) rotate(-90) scale(0.925 1)" text-anchor="end" style="font-family:'Liberation Sans',Arial,sans-serif;font-weight:bold" font-size="25.4" stroke="#000" stroke-width="0.6">T cell</text>
<text transform="translate(1480.5 1698.7) rotate(-90) scale(0.925 1)" text-anchor="end" style="font-family:'Liberation Sans',Arial,sans-serif;font-weight:bold" font-size="25.4" stroke="#000" stroke-width="0.6">Neutrophils</text>
<text transform="translate(1528.7 1698.7) rotate(-90) scale(0.925 1)" text-anchor="end" style="font-family:'Liberation Sans',Arial,sans-serif;font-weight:bold" font-size="25.4" stroke="#000" stroke-width="0.6">Club</text>
<text transform="translate(1575.7 1698.7) rotate(-90) scale(0.925 1)" text-anchor="end" style="font-family:'Liberation Sans',Arial,sans-serif;font-weight:bold" font-size="25.4" stroke="#000" stroke-width="0.6">Mast cell</text>
<text transform="translate(1607.6 1698.7) rotate(-90) scale(0.925 1)" text-anchor="end" style="font-family:'Liberation Sans',Arial,sans-serif;font-weight:bold" font-size="25.4" stroke="#000" stroke-width="0.6">Transformed</text>
<text transform="translate(1637 1698.7) rotate(-90) scale(0.925 1)" text-anchor="end" style="font-family:'Liberation Sans',Arial,sans-serif;font-weight:bold" font-size="25.4" stroke="#000" stroke-width="0.6">epithelium</text>
<text transform="translate(1674.4 1698.7) rotate(-90) scale(0.925 1)" text-anchor="end" style="font-family:'Liberation Sans',Arial,sans-serif;font-weight:bold" font-size="25.4" stroke="#000" stroke-width="0.6">Ciliated</text>
<text transform="translate(1720.5 1698.7) rotate(-90) scale(0.925 1)" text-anchor="end" style="font-family:'Liberation Sans',Arial,sans-serif;font-weight:bold" font-size="25.4" stroke="#000" stroke-width="0.6">Type 1</text>
<text transform="translate(1768 1698.7) rotate(-90) scale(0.925 1)" text-anchor="end" style="font-family:'Liberation Sans',Arial,sans-serif;font-weight:bold" font-size="25.4" stroke="#000" stroke-width="0.6">Endothelium</text>
<text transform="translate(1818.2 1698.7) rotate(-90) scale(0.925 1)" text-anchor="end" style="font-family:'Liberation Sans',Arial,sans-serif;font-weight:bold" font-size="25.4" stroke="#000" stroke-width="0.6">NK cell</text>
<text transform="translate(1863.3 1698.7) rotate(-90) scale(0.925 1)" text-anchor="end" style="font-family:'Liberation Sans',Arial,sans-serif;font-weight:bold" font-size="25.4" stroke="#000" stroke-width="0.6">Dendritic cell</text>
<text transform="translate(1917.7 1698.7) rotate(-90) scale(0.925 1)" text-anchor="end" style="font-family:'Liberation Sans',Arial,sans-serif;font-weight:bold" font-size="25.4" stroke="#000" stroke-width="0.6">Fibroblast</text>
<text transform="translate(1956 1698.7) rotate(-90) scale(0.925 1)" text-anchor="end" style="font-family:'Liberation Sans',Arial,sans-serif;font-weight:bold" font-size="25.4" stroke="#000" stroke-width="0.6">Lymphatic</text>
<g shape-rendering="crispEdges">
<rect x="1109.4" y="73.60" width="34.7" height="4.56" fill="rgb(232,227,18)"/>
<rect x="1109.4" y="77.76" width="34.7" height="4.56" fill="rgb(227,222,21)"/>
<rect x="1109.4" y="81.92" width="34.7" height="4.56" fill="rgb(221,216,23)"/>
<rect x="1109.4" y="86.08" width="34.7" height="4.56" fill="rgb(216,211,25)"/>
<rect x="1109.4" y="90.24" width="34.7" height="4.56" fill="rgb(211,206,28)"/>
<rect x="1109.4" y="94.40" width="34.7" height="4.56" fill="rgb(205,200,30)"/>
<rect x="1109.4" y="98.56" width="34.7" height="4.56" fill="rgb(197,192,31)"/>
<rect x="1109.4" y="102.72" width="34.7" height="4.56" fill="rgb(189,185,33)"/>
<rect x="1109.4" y="106.88" width="34.7" height="4.56" fill="rgb(180,177,34)"/>
<rect x="1109.4" y="111.04" width="34.7" height="4.56" fill="rgb(172,169,36)"/>
<rect x="1109.4" y="115.20" width="34.7" height="4.56" fill="rgb(164,162,37)"/>
<rect x="1109.4" y="119.36" width="34.7" height="4.56" fill="rgb(155,153,38)"/>
<rect x="1109.4" y="123.52" width="34.7" height="4.56" fill="rgb(146,144,37)"/>
<rect x="1109.4" y="127.68" width="34.7" height="4.56" fill="rgb(137,135,37)"/>
<rect x="1109.4" y="131.84" width="34.7" height="4.56" fill="rgb(129,127,37)"/>
<rect x="1109.4" y="136.00" width="34.7" height="4.56" fill="rgb(120,118,36)"/>
<rect x="1109.4" y="140.16" width="34.7" height="4.56" fill="rgb(111,109,36)"/>
<rect x="1109.4" y="144.32" width="34.7" height="4.56" fill="rgb(101,99,33)"/>
<rect x="1109.4" y="148.48" width="34.7" height="4.56" fill="rgb(91,89,31)"/>
<rect x="1109.4" y="152.64" width="34.7" height="4.56" fill="rgb(81,79,28)"/>
<rect x="1109.4" y="156.80" width="34.7" height="4.56" fill="rgb(71,69,25)"/>
<rect x="1109.4" y="160.96" width="34.7" height="4.56" fill="rgb(61,59,23)"/>
<rect x="1109.4" y="165.12" width="34.7" height="4.56" fill="rgb(51,49,20)"/>
<rect x="1109.4" y="169.28" width="34.7" height="4.56" fill="rgb(41,39,17)"/>
<rect x="1109.4" y="173.44" width="34.7" height="4.56" fill="rgb(32,30,14)"/>
<rect x="1109.4" y="177.60" width="34.7" height="4.56" fill="rgb(22,20,10)"/>
<rect x="1109.4" y="181.76" width="34.7" height="4.56" fill="rgb(12,10,7)"/>
<rect x="1109.4" y="185.92" width="34.7" height="4.56" fill="rgb(7,4,7)"/>
<rect x="1109.4" y="190.08" width="34.7" height="4.56" fill="rgb(13,6,14)"/>
<rect x="1109.4" y="194.24" width="34.7" height="4.56" fill="rgb(20,8,21)"/>
<rect x="1109.4" y="198.40" width="34.7" height="4.56" fill="rgb(26,10,27)"/>
<rect x="1109.4" y="202.56" width="34.7" height="4.56" fill="rgb(33,12,34)"/>
<rect x="1109.4" y="206.72" width="34.7" height="4.56" fill="rgb(39,15,41)"/>
<rect x="1109.4" y="210.88" width="34.7" height="4.56" fill="rgb(47,17,50)"/>
<rect x="1109.4" y="215.04" width="34.7" height="4.56" fill="rgb(55,18,59)"/>
<rect x="1109.4" y="219.20" width="34.7" height="4.56" fill="rgb(64,20,68)"/>
<rect x="1109.4" y="223.36" width="34.7" height="4.56" fill="rgb(72,22,78)"/>
<rect x="1109.4" y="227.52" width="34.7" height="4.56" fill="rgb(80,24,87)"/>
<rect x="1109.4" y="231.68" width="34.7" height="4.56" fill="rgb(88,26,95)"/>
<rect x="1109.4" y="235.84" width="34.7" height="4.56" fill="rgb(96,27,102)"/>
<rect x="1109.4" y="240.00" width="34.7" height="4.56" fill="rgb(103,28,109)"/>
<rect x="1109.4" y="244.16" width="34.7" height="4.56" fill="rgb(110,29,116)"/>
<rect x="1109.4" y="248.32" width="34.7" height="4.56" fill="rgb(118,31,123)"/>
<rect x="1109.4" y="252.48" width="34.7" height="4.56" fill="rgb(125,32,130)"/>
<rect x="1109.4" y="256.64" width="34.7" height="4.56" fill="rgb(130,38,134)"/>
<rect x="1109.4" y="260.80" width="34.7" height="4.56" fill="rgb(134,43,138)"/>
<rect x="1109.4" y="264.96" width="34.7" height="4.56" fill="rgb(139,49,142)"/>
<rect x="1109.4" y="269.12" width="34.7" height="4.56" fill="rgb(143,54,146)"/>
<rect x="1109.4" y="273.28" width="34.7" height="4.56" fill="rgb(148,60,150)"/>
<rect x="1109.4" y="277.44" width="34.7" height="4.56" fill="rgb(151,63,153)"/>
</g>
<rect x="1137" y="95.9" width="7" height="1.6" fill="#fff"/>
<text x="1155" y="108.3" style="font-family:'Liberation Sans',Arial,sans-serif" font-size="25">2</text>
<rect x="1137" y="141.1" width="7" height="1.6" fill="#fff"/>
<text x="1155" y="153.5" style="font-family:'Liberation Sans',Arial,sans-serif" font-size="25">1</text>
<rect x="1137" y="185.79999999999998" width="7" height="1.6" fill="#fff"/>
<text x="1155" y="198.2" style="font-family:'Liberation Sans',Arial,sans-serif" font-size="25">0</text>
<rect x="1137" y="230.79999999999998" width="7" height="1.6" fill="#fff"/>
<text x="1155" y="243.2" style="font-family:'Liberation Sans',Arial,sans-serif" font-size="25">−1</text>
<rect x="1137" y="276.2" width="7" height="1.6" fill="#fff"/>
<text x="1155" y="288.6" style="font-family:'Liberation Sans',Arial,sans-serif" font-size="25">−2</text>
<g shape-rendering="crispEdges">
<rect x="275.70" y="1127.10" width="60.36" height="40.14" fill="rgb(255,161,134)"/>
<rect x="335.76" y="1127.10" width="60.36" height="40.14" fill="rgb(255,214,200)"/>
<rect x="395.82" y="1127.10" width="60.36" height="40.14" fill="rgb(255,245,241)"/>
<rect x="515.94" y="1127.10" width="60.36" height="40.14" fill="rgb(255,240,234)"/>
<rect x="576.00" y="1127.10" width="60.36" height="40.14" fill="rgb(255,250,248)"/>
<rect x="636.06" y="1127.10" width="60.36" height="40.14" fill="rgb(255,250,248)"/>
<rect x="816.24" y="1127.10" width="60.36" height="40.14" fill="rgb(255,250,248)"/>
<rect x="876.30" y="1127.10" width="60.36" height="40.14" fill="rgb(255,250,248)"/>
<rect x="936.36" y="1127.10" width="60.36" height="40.14" fill="rgb(255,245,241)"/>
<rect x="996.42" y="1127.10" width="60.36" height="40.14" fill="rgb(255,245,241)"/>
<rect x="1116.54" y="1127.10" width="60.36" height="40.14" fill="rgb(255,240,234)"/>
<rect x="275.70" y="1166.94" width="60.36" height="40.14" fill="rgb(255,234,227)"/>
<rect x="335.76" y="1166.94" width="60.36" height="40.14" fill="rgb(255,134,103)"/>
<rect x="395.82" y="1166.94" width="60.36" height="40.14" fill="rgb(255,250,248)"/>
<rect x="696.12" y="1166.94" width="60.36" height="40.14" fill="rgb(255,250,248)"/>
<rect x="816.24" y="1166.94" width="60.36" height="40.14" fill="rgb(255,250,248)"/>
<rect x="876.30" y="1166.94" width="60.36" height="40.14" fill="rgb(255,250,248)"/>
<rect x="1116.54" y="1166.94" width="60.36" height="40.14" fill="rgb(255,208,193)"/>
<rect x="275.70" y="1206.78" width="60.36" height="40.14" fill="rgb(255,250,248)"/>
<rect x="756.18" y="1206.78" width="60.36" height="40.14" fill="rgb(255,250,248)"/>
<rect x="816.24" y="1206.78" width="60.36" height="40.14" fill="rgb(255,250,248)"/>
<rect x="936.36" y="1206.78" width="60.36" height="40.14" fill="rgb(255,245,241)"/>
<rect x="996.42" y="1206.78" width="60.36" height="40.14" fill="rgb(255,250,248)"/>
<rect x="515.94" y="1286.46" width="60.36" height="40.14" fill="rgb(255,240,234)"/>
<rect x="696.12" y="1286.46" width="60.36" height="40.14" fill="rgb(255,245,241)"/>
<rect x="876.30" y="1286.46" width="60.36" height="40.14" fill="rgb(255,250,248)"/>
<rect x="996.42" y="1286.46" width="60.36" height="40.14" fill="rgb(255,250,248)"/>
<rect x="1056.48" y="1286.46" width="60.36" height="40.14" fill="rgb(255,240,234)"/>
<rect x="1116.54" y="1286.46" width="60.36" height="40.14" fill="rgb(255,245,241)"/>
<rect x="275.70" y="1326.30" width="60.36" height="40.14" fill="rgb(255,250,248)"/>
<rect x="395.82" y="1326.30" width="60.36" height="40.14" fill="rgb(255,166,141)"/>
<rect x="455.88" y="1326.30" width="60.36" height="40.14" fill="rgb(255,250,248)"/>
<rect x="816.24" y="1326.30" width="60.36" height="40.14" fill="rgb(255,250,248)"/>
<rect x="455.88" y="1405.98" width="60.36" height="40.14" fill="rgb(249,61,34)"/>
<rect x="395.82" y="1445.82" width="60.36" height="40.14" fill="rgb(255,214,200)"/>
<rect x="515.94" y="1445.82" width="60.36" height="40.14" fill="rgb(255,234,227)"/>
<rect x="275.70" y="1485.66" width="60.36" height="40.14" fill="rgb(255,245,241)"/>
<rect x="395.82" y="1485.66" width="60.36" height="40.14" fill="rgb(255,229,220)"/>
<rect x="515.94" y="1485.66" width="60.36" height="40.14" fill="rgb(255,240,234)"/>
<rect x="816.24" y="1485.66" width="60.36" height="40.14" fill="rgb(255,250,248)"/>
<rect x="936.36" y="1485.66" width="60.36" height="40.14" fill="rgb(255,250,248)"/>
<rect x="996.42" y="1485.66" width="60.36" height="40.14" fill="rgb(255,250,248)"/>
<rect x="275.70" y="1525.50" width="60.36" height="40.14" fill="rgb(255,250,248)"/>
<rect x="576.00" y="1525.50" width="60.36" height="40.14" fill="rgb(251,69,41)"/>
<rect x="636.06" y="1525.50" width="60.36" height="40.14" fill="rgb(255,134,103)"/>
<rect x="756.18" y="1525.50" width="60.36" height="40.14" fill="rgb(255,250,248)"/>
<rect x="996.42" y="1525.50" width="60.36" height="40.14" fill="rgb(255,250,248)"/>
<rect x="275.70" y="1565.34" width="60.36" height="40.14" fill="rgb(255,240,234)"/>
<rect x="515.94" y="1565.34" width="60.36" height="40.14" fill="rgb(255,245,241)"/>
<rect x="816.24" y="1565.34" width="60.36" height="40.14" fill="rgb(255,219,207)"/>
<rect x="936.36" y="1565.34" width="60.36" height="40.14" fill="rgb(255,166,141)"/>
<rect x="996.42" y="1565.34" width="60.36" height="40.14" fill="rgb(255,214,200)"/>
<rect x="1116.54" y="1565.34" width="60.36" height="40.14" fill="rgb(255,250,248)"/>
<rect x="696.12" y="1605.18" width="60.36" height="40.14" fill="rgb(255,182,160)"/>
<rect x="876.30" y="1605.18" width="60.36" height="40.14" fill="rgb(255,229,220)"/>
<rect x="1116.54" y="1605.18" width="60.36" height="40.14" fill="rgb(255,240,234)"/>
<rect x="275.70" y="1645.02" width="60.36" height="40.14" fill="rgb(255,240,234)"/>
<rect x="455.88" y="1645.02" width="60.36" height="40.14" fill="rgb(255,250,248)"/>
<rect x="515.94" y="1645.02" width="60.36" height="40.14" fill="rgb(255,234,227)"/>
<rect x="576.00" y="1645.02" width="60.36" height="40.14" fill="rgb(255,250,248)"/>
<rect x="636.06" y="1645.02" width="60.36" height="40.14" fill="rgb(255,250,248)"/>
<rect x="756.18" y="1645.02" width="60.36" height="40.14" fill="rgb(255,250,248)"/>
<rect x="816.24" y="1645.02" width="60.36" height="40.14" fill="rgb(255,219,207)"/>
<rect x="936.36" y="1645.02" width="60.36" height="40.14" fill="rgb(255,134,103)"/>
<rect x="996.42" y="1645.02" width="60.36" height="40.14" fill="rgb(255,234,227)"/>
<rect x="1116.54" y="1645.02" width="60.36" height="40.14" fill="rgb(255,250,248)"/>
<rect x="275.70" y="1684.86" width="60.36" height="40.14" fill="rgb(255,250,248)"/>
<rect x="515.94" y="1684.86" width="60.36" height="40.14" fill="rgb(255,245,241)"/>
<rect x="756.18" y="1684.86" width="60.36" height="40.14" fill="rgb(247,52,27)"/>
<rect x="816.24" y="1684.86" width="60.36" height="40.14" fill="rgb(255,250,248)"/>
<rect x="936.36" y="1684.86" width="60.36" height="40.14" fill="rgb(255,250,248)"/>
<rect x="996.42" y="1684.86" width="60.36" height="40.14" fill="rgb(255,245,241)"/>
<rect x="1056.48" y="1684.86" width="60.36" height="40.14" fill="rgb(255,240,234)"/>
<rect x="275.70" y="1724.70" width="60.36" height="40.14" fill="rgb(255,234,227)"/>
<rect x="515.94" y="1724.70" width="60.36" height="40.14" fill="rgb(255,245,241)"/>
<rect x="756.18" y="1724.70" width="60.36" height="40.14" fill="rgb(255,250,248)"/>
<rect x="816.24" y="1724.70" width="60.36" height="40.14" fill="rgb(242,0,0)"/>
<rect x="936.36" y="1724.70" width="60.36" height="40.14" fill="rgb(255,229,220)"/>
<rect x="996.42" y="1724.70" width="60.36" height="40.14" fill="rgb(255,198,180)"/>
<rect x="876.30" y="1764.54" width="60.36" height="40.14" fill="rgb(255,203,187)"/>
<rect x="275.70" y="1804.38" width="60.36" height="40.14" fill="rgb(255,245,241)"/>
<rect x="515.94" y="1804.38" width="60.36" height="40.14" fill="rgb(255,234,227)"/>
<rect x="636.06" y="1804.38" width="60.36" height="40.14" fill="rgb(255,250,248)"/>
<rect x="756.18" y="1804.38" width="60.36" height="40.14" fill="rgb(255,250,248)"/>
<rect x="816.24" y="1804.38" width="60.36" height="40.14" fill="rgb(255,214,200)"/>
<rect x="936.36" y="1804.38" width="60.36" height="40.14" fill="rgb(244,26,10)"/>
<rect x="996.42" y="1804.38" width="60.36" height="40.14" fill="rgb(255,224,214)"/>
<rect x="1116.54" y="1804.38" width="60.36" height="40.14" fill="rgb(255,250,248)"/>
<rect x="275.70" y="1844.22" width="60.36" height="40.14" fill="rgb(255,234,227)"/>
<rect x="455.88" y="1844.22" width="60.36" height="40.14" fill="rgb(255,250,248)"/>
<rect x="515.94" y="1844.22" width="60.36" height="40.14" fill="rgb(255,250,248)"/>
<rect x="576.00" y="1844.22" width="60.36" height="40.14" fill="rgb(255,245,241)"/>
<rect x="636.06" y="1844.22" width="60.36" height="40.14" fill="rgb(255,250,248)"/>
<rect x="756.18" y="1844.22" width="60.36" height="40.14" fill="rgb(255,250,248)"/>
<rect x="816.24" y="1844.22" width="60.36" height="40.14" fill="rgb(255,188,167)"/>
<rect x="936.36" y="1844.22" width="60.36" height="40.14" fill="rgb(255,234,227)"/>
<rect x="996.42" y="1844.22" width="60.36" height="40.14" fill="rgb(244,26,10)"/>
<rect x="1116.54" y="1844.22" width="60.36" height="40.14" fill="rgb(255,250,248)"/>
<rect x="756.18" y="1884.06" width="60.36" height="40.14" fill="rgb(255,245,241)"/>
<rect x="876.30" y="1884.06" width="60.36" height="40.14" fill="rgb(255,250,248)"/>
<rect x="1056.48" y="1884.06" width="60.36" height="40.14" fill="rgb(255,166,141)"/>
<rect x="576.00" y="1923.90" width="60.36" height="40.14" fill="rgb(255,245,241)"/>
<rect x="756.18" y="1923.90" width="60.36" height="40.14" fill="rgb(255,250,248)"/>
<rect x="996.42" y="1923.90" width="60.36" height="40.14" fill="rgb(255,250,248)"/>
<rect x="1116.54" y="1923.90" width="60.36" height="40.14" fill="rgb(255,198,180)"/>
</g>
<g style="font-family:'Liberation Sans',Arial,sans-serif" font-size="18.5" text-anchor="middle">
<text x="305.7" y="1153.6">0.18</text>
<text x="365.8" y="1153.6">0.08</text>
<text x="425.9" y="1153.6">0.02</text>
<text x="485.9" y="1153.6">0</text>
<text x="546.0" y="1153.6">0.03</text>
<text x="606.0" y="1153.6">0.01</text>
<text x="666.1" y="1153.6">0.01</text>
<text x="726.1" y="1153.6">0</text>
<text x="786.2" y="1153.6">0</text>
<text x="846.3" y="1153.6">0.01</text>
<text x="906.3" y="1153.6">0.01</text>
<text x="966.4" y="1153.6">0.02</text>
<text x="1026.5" y="1153.6">0.02</text>
<text x="1086.5" y="1153.6">0</text>
<text x="1146.6" y="1153.6">0.03</text>
<text x="305.7" y="1193.5">0.04</text>
<text x="365.8" y="1193.5">0.23</text>
<text x="425.9" y="1193.5">0.01</text>
<text x="485.9" y="1193.5">0</text>
<text x="546.0" y="1193.5">0</text>
<text x="606.0" y="1193.5">0</text>
<text x="666.1" y="1193.5">0</text>
<text x="726.1" y="1193.5">0.01</text>
<text x="786.2" y="1193.5">0</text>
<text x="846.3" y="1193.5">0.01</text>
<text x="906.3" y="1193.5">0.01</text>
<text x="966.4" y="1193.5">0</text>
<text x="1026.5" y="1193.5">0</text>
<text x="1086.5" y="1193.5">0</text>
<text x="1146.6" y="1193.5">0.09</text>
<text x="305.7" y="1233.3">0.01</text>
<text x="365.8" y="1233.3">0</text>
<text x="425.9" y="1233.3">0</text>
<text x="485.9" y="1233.3">0</text>
<text x="546.0" y="1233.3">0</text>
<text x="606.0" y="1233.3">0</text>
<text x="666.1" y="1233.3">0</text>
<text x="726.1" y="1233.3">0</text>
<text x="786.2" y="1233.3">0.01</text>
<text x="846.3" y="1233.3">0.01</text>
<text x="906.3" y="1233.3">0</text>
<text x="966.4" y="1233.3">0.02</text>
<text x="1026.5" y="1233.3">0.01</text>
<text x="1086.5" y="1233.3">0</text>
<text x="1146.6" y="1233.3">0</text>
<text x="305.7" y="1273.1">0</text>
<text x="365.8" y="1273.1">0</text>
<text x="425.9" y="1273.1">0</text>
<text x="485.9" y="1273.1">0</text>
<text x="546.0" y="1273.1">0</text>
<text x="606.0" y="1273.1">0</text>
<text x="666.1" y="1273.1">0</text>
<text x="726.1" y="1273.1">0</text>
<text x="786.2" y="1273.1">0</text>
<text x="846.3" y="1273.1">0</text>
<text x="906.3" y="1273.1">0</text>
<text x="966.4" y="1273.1">0</text>
<text x="1026.5" y="1273.1">0</text>
<text x="1086.5" y="1273.1">0</text>
<text x="1146.6" y="1273.1">0</text>
<text x="305.7" y="1313.0">0</text>
<text x="365.8" y="1313.0">0</text>
<text x="425.9" y="1313.0">0</text>
<text x="485.9" y="1313.0">0</text>
<text x="546.0" y="1313.0">0.03</text>
<text x="606.0" y="1313.0">0</text>
<text x="666.1" y="1313.0">0</text>
<text x="726.1" y="1313.0">0.02</text>
<text x="786.2" y="1313.0">0</text>
<text x="846.3" y="1313.0">0</text>
<text x="906.3" y="1313.0">0.01</text>
<text x="966.4" y="1313.0">0</text>
<text x="1026.5" y="1313.0">0.01</text>
<text x="1086.5" y="1313.0">0.03</text>
<text x="1146.6" y="1313.0">0.02</text>
<text x="305.7" y="1352.8">0.01</text>
<text x="365.8" y="1352.8">0</text>
<text x="425.9" y="1352.8">0.17</text>
<text x="485.9" y="1352.8">0.01</text>
<text x="546.0" y="1352.8">0</text>
<text x="606.0" y="1352.8">0</text>
<text x="666.1" y="1352.8">0</text>
<text x="726.1" y="1352.8">0</text>
<text x="786.2" y="1352.8">0</text>
<text x="846.3" y="1352.8">0.01</text>
<text x="906.3" y="1352.8">0</text>
<text x="966.4" y="1352.8">0</text>
<text x="1026.5" y="1352.8">0</text>
<text x="1086.5" y="1352.8">0</text>
<text x="1146.6" y="1352.8">0</text>
<text x="305.7" y="1392.7">0</text>
<text x="365.8" y="1392.7">0</text>
<text x="425.9" y="1392.7">0</text>
<text x="485.9" y="1392.7">0</text>
<text x="546.0" y="1392.7">0</text>
<text x="606.0" y="1392.7">0</text>
<text x="666.1" y="1392.7">0</text>
<text x="726.1" y="1392.7">0</text>
<text x="786.2" y="1392.7">0</text>
<text x="846.3" y="1392.7">0</text>
<text x="906.3" y="1392.7">0</text>
<text x="966.4" y="1392.7">0</text>
<text x="1026.5" y="1392.7">0</text>
<text x="1086.5" y="1392.7">0</text>
<text x="1146.6" y="1392.7">0</text>
<text x="305.7" y="1432.5">0</text>
<text x="365.8" y="1432.5">0</text>
<text x="425.9" y="1432.5">0</text>
<text x="485.9" y="1432.5">0.34</text>
<text x="546.0" y="1432.5">0</text>
<text x="606.0" y="1432.5">0</text>
<text x="666.1" y="1432.5">0</text>
<text x="726.1" y="1432.5">0</text>
<text x="786.2" y="1432.5">0</text>
<text x="846.3" y="1432.5">0</text>
<text x="906.3" y="1432.5">0</text>
<text x="966.4" y="1432.5">0</text>
<text x="1026.5" y="1432.5">0</text>
<text x="1086.5" y="1432.5">0</text>
<text x="1146.6" y="1432.5">0</text>
<text x="305.7" y="1472.3">0</text>
<text x="365.8" y="1472.3">0</text>
<text x="425.9" y="1472.3">0.08</text>
<text x="485.9" y="1472.3">0</text>
<text x="546.0" y="1472.3">0.04</text>
<text x="606.0" y="1472.3">0</text>
<text x="666.1" y="1472.3">0</text>
<text x="726.1" y="1472.3">0</text>
<text x="786.2" y="1472.3">0</text>
<text x="846.3" y="1472.3">0</text>
<text x="906.3" y="1472.3">0</text>
<text x="966.4" y="1472.3">0</text>
<text x="1026.5" y="1472.3">0</text>
<text x="1086.5" y="1472.3">0</text>
<text x="1146.6" y="1472.3">0</text>
<text x="305.7" y="1512.2">0.02</text>
<text x="365.8" y="1512.2">0</text>
<text x="425.9" y="1512.2">0.05</text>
<text x="485.9" y="1512.2">0</text>
<text x="546.0" y="1512.2">0.03</text>
<text x="606.0" y="1512.2">0</text>
<text x="666.1" y="1512.2">0</text>
<text x="726.1" y="1512.2">0</text>
<text x="786.2" y="1512.2">0</text>
<text x="846.3" y="1512.2">0.01</text>
<text x="906.3" y="1512.2">0</text>
<text x="966.4" y="1512.2">0.01</text>
<text x="1026.5" y="1512.2">0.01</text>
<text x="1086.5" y="1512.2">0</text>
<text x="1146.6" y="1512.2">0</text>
<text x="305.7" y="1552.0">0.01</text>
<text x="365.8" y="1552.0">0</text>
<text x="425.9" y="1552.0">0</text>
<text x="485.9" y="1552.0">0</text>
<text x="546.0" y="1552.0">0</text>
<text x="606.0" y="1552.0">0.33</text>
<text x="666.1" y="1552.0">0.23</text>
<text x="726.1" y="1552.0">0</text>
<text x="786.2" y="1552.0">0.01</text>
<text x="846.3" y="1552.0">0</text>
<text x="906.3" y="1552.0">0</text>
<text x="966.4" y="1552.0">0</text>
<text x="1026.5" y="1552.0">0.01</text>
<text x="1086.5" y="1552.0">0</text>
<text x="1146.6" y="1552.0">0</text>
<text x="305.7" y="1591.9">0.03</text>
<text x="365.8" y="1591.9">0</text>
<text x="425.9" y="1591.9">0</text>
<text x="485.9" y="1591.9">0</text>
<text x="546.0" y="1591.9">0.02</text>
<text x="606.0" y="1591.9">0</text>
<text x="666.1" y="1591.9">0</text>
<text x="726.1" y="1591.9">0</text>
<text x="786.2" y="1591.9">0</text>
<text x="846.3" y="1591.9">0.07</text>
<text x="906.3" y="1591.9">0</text>
<text x="966.4" y="1591.9">0.17</text>
<text x="1026.5" y="1591.9">0.08</text>
<text x="1086.5" y="1591.9">0</text>
<text x="1146.6" y="1591.9">0.01</text>
<text x="305.7" y="1631.7">0</text>
<text x="365.8" y="1631.7">0</text>
<text x="425.9" y="1631.7">0</text>
<text x="485.9" y="1631.7">0</text>
<text x="546.0" y="1631.7">0</text>
<text x="606.0" y="1631.7">0</text>
<text x="666.1" y="1631.7">0</text>
<text x="726.1" y="1631.7">0.14</text>
<text x="786.2" y="1631.7">0</text>
<text x="846.3" y="1631.7">0</text>
<text x="906.3" y="1631.7">0.05</text>
<text x="966.4" y="1631.7">0</text>
<text x="1026.5" y="1631.7">0</text>
<text x="1086.5" y="1631.7">0</text>
<text x="1146.6" y="1631.7">0.03</text>
<text x="305.7" y="1671.5">0.03</text>
<text x="365.8" y="1671.5">0</text>
<text x="425.9" y="1671.5">0</text>
<text x="485.9" y="1671.5">0.01</text>
<text x="546.0" y="1671.5">0.04</text>
<text x="606.0" y="1671.5">0.01</text>
<text x="666.1" y="1671.5">0.01</text>
<text x="726.1" y="1671.5">0</text>
<text x="786.2" y="1671.5">0.01</text>
<text x="846.3" y="1671.5">0.07</text>
<text x="906.3" y="1671.5">0</text>
<text x="966.4" y="1671.5">0.23</text>
<text x="1026.5" y="1671.5">0.04</text>
<text x="1086.5" y="1671.5">0</text>
<text x="1146.6" y="1671.5">0.01</text>
<text x="305.7" y="1711.4">0.01</text>
<text x="365.8" y="1711.4">0</text>
<text x="425.9" y="1711.4">0</text>
<text x="485.9" y="1711.4">0</text>
<text x="546.0" y="1711.4">0.02</text>
<text x="606.0" y="1711.4">0</text>
<text x="666.1" y="1711.4">0</text>
<text x="726.1" y="1711.4">0</text>
<text x="786.2" y="1711.4">0.35</text>
<text x="846.3" y="1711.4">0.01</text>
<text x="906.3" y="1711.4">0</text>
<text x="966.4" y="1711.4">0.01</text>
<text x="1026.5" y="1711.4">0.02</text>
<text x="1086.5" y="1711.4">0.03</text>
<text x="1146.6" y="1711.4">0</text>
<text x="305.7" y="1751.2">0.04</text>
<text x="365.8" y="1751.2">0</text>
<text x="425.9" y="1751.2">0</text>
<text x="485.9" y="1751.2">0</text>
<text x="546.0" y="1751.2">0.02</text>
<text x="606.0" y="1751.2">0</text>
<text x="666.1" y="1751.2">0</text>
<text x="726.1" y="1751.2">0</text>
<text x="786.2" y="1751.2">0.01</text>
<text x="846.3" y="1751.2">0.38</text>
<text x="906.3" y="1751.2">0</text>
<text x="966.4" y="1751.2">0.05</text>
<text x="1026.5" y="1751.2">0.11</text>
<text x="1086.5" y="1751.2">0</text>
<text x="1146.6" y="1751.2">0</text>
<text x="305.7" y="1791.1">0</text>
<text x="365.8" y="1791.1">0</text>
<text x="425.9" y="1791.1">0</text>
<text x="485.9" y="1791.1">0</text>
<text x="546.0" y="1791.1">0</text>
<text x="606.0" y="1791.1">0</text>
<text x="666.1" y="1791.1">0</text>
<text x="726.1" y="1791.1">0</text>
<text x="786.2" y="1791.1">0</text>
<text x="846.3" y="1791.1">0</text>
<text x="906.3" y="1791.1">0.1</text>
<text x="966.4" y="1791.1">0</text>
<text x="1026.5" y="1791.1">0</text>
<text x="1086.5" y="1791.1">0</text>
<text x="1146.6" y="1791.1">0</text>
<text x="305.7" y="1830.9">0.02</text>
<text x="365.8" y="1830.9">0</text>
<text x="425.9" y="1830.9">0</text>
<text x="485.9" y="1830.9">0</text>
<text x="546.0" y="1830.9">0.04</text>
<text x="606.0" y="1830.9">0</text>
<text x="666.1" y="1830.9">0.01</text>
<text x="726.1" y="1830.9">0</text>
<text x="786.2" y="1830.9">0.01</text>
<text x="846.3" y="1830.9">0.08</text>
<text x="906.3" y="1830.9">0</text>
<text x="966.4" y="1830.9">0.37</text>
<text x="1026.5" y="1830.9">0.06</text>
<text x="1086.5" y="1830.9">0</text>
<text x="1146.6" y="1830.9">0.01</text>
<text x="305.7" y="1870.7">0.04</text>
<text x="365.8" y="1870.7">0</text>
<text x="425.9" y="1870.7">0</text>
<text x="485.9" y="1870.7">0.01</text>
<text x="546.0" y="1870.7">0.01</text>
<text x="606.0" y="1870.7">0.02</text>
<text x="666.1" y="1870.7">0.01</text>
<text x="726.1" y="1870.7">0</text>
<text x="786.2" y="1870.7">0.01</text>
<text x="846.3" y="1870.7">0.13</text>
<text x="906.3" y="1870.7">0</text>
<text x="966.4" y="1870.7">0.04</text>
<text x="1026.5" y="1870.7">0.37</text>
<text x="1086.5" y="1870.7">0</text>
<text x="1146.6" y="1870.7">0.01</text>
<text x="305.7" y="1910.6">0</text>
<text x="365.8" y="1910.6">0</text>
<text x="425.9" y="1910.6">0</text>
<text x="485.9" y="1910.6">0</text>
<text x="546.0" y="1910.6">0</text>
<text x="606.0" y="1910.6">0</text>
<text x="666.1" y="1910.6">0</text>
<text x="726.1" y="1910.6">0</text>
<text x="786.2" y="1910.6">0.02</text>
<text x="846.3" y="1910.6">0</text>
<text x="906.3" y="1910.6">0.01</text>
<text x="966.4" y="1910.6">0</text>
<text x="1026.5" y="1910.6">0</text>
<text x="1086.5" y="1910.6">0.17</text>
<text x="1146.6" y="1910.6">0</text>
<text x="305.7" y="1950.4">0</text>
<text x="365.8" y="1950.4">0</text>
<text x="425.9" y="1950.4">0</text>
<text x="485.9" y="1950.4">0</text>
<text x="546.0" y="1950.4">0</text>
<text x="606.0" y="1950.4">0.02</text>
<text x="666.1" y="1950.4">0</text>
<text x="726.1" y="1950.4">0</text>
<text x="786.2" y="1950.4">0.01</text>
<text x="846.3" y="1950.4">0</text>
<text x="906.3" y="1950.4">0</text>
<text x="966.4" y="1950.4">0</text>
<text x="1026.5" y="1950.4">0.01</text>
<text x="1086.5" y="1950.4">0</text>
<text x="1146.6" y="1950.4">0.11</text>
</g>
<g fill="#000" shape-rendering="crispEdges">
<rect x="268" y="1121" width="4" height="848"/>
<rect x="268" y="1965" width="917" height="4"/>
<rect x="262" y="1145.0" width="6" height="4"/>
<rect x="262" y="1184.9" width="6" height="4"/>
<rect x="262" y="1224.7" width="6" height="4"/>
<rect x="262" y="1264.5" width="6" height="4"/>
<rect x="262" y="1304.4" width="6" height="4"/>
<rect x="262" y="1344.2" width="6" height="4"/>
<rect x="262" y="1384.1" width="6" height="4"/>
<rect x="262" y="1423.9" width="6" height="4"/>
<rect x="262" y="1463.7" width="6" height="4"/>
<rect x="262" y="1503.6" width="6" height="4"/>
<rect x="262" y="1543.4" width="6" height="4"/>
<rect x="262" y="1583.3" width="6" height="4"/>
<rect x="262" y="1623.1" width="6" height="4"/>
<rect x="262" y="1662.9" width="6" height="4"/>
<rect x="262" y="1702.8" width="6" height="4"/>
<rect x="262" y="1742.6" width="6" height="4"/>
<rect x="262" y="1782.5" width="6" height="4"/>
<rect x="262" y="1822.3" width="6" height="4"/>
<rect x="262" y="1862.1" width="6" height="4"/>
<rect x="262" y="1902.0" width="6" height="4"/>
<rect x="262" y="1941.8" width="6" height="4"/>
<rect x="303.7" y="1969" width="4" height="5"/>
<rect x="363.8" y="1969" width="4" height="5"/>
<rect x="423.9" y="1969" width="4" height="5"/>
<rect x="483.9" y="1969" width="4" height="5"/>
<rect x="544.0" y="1969" width="4" height="5"/>
<rect x="604.0" y="1969" width="4" height="5"/>
<rect x="664.1" y="1969" width="4" height="5"/>
<rect x="724.1" y="1969" width="4" height="5"/>
<rect x="784.2" y="1969" width="4" height="5"/>
<rect x="844.3" y="1969" width="4" height="5"/>
<rect x="904.3" y="1969" width="4" height="5"/>
<rect x="964.4" y="1969" width="4" height="5"/>
<rect x="1024.5" y="1969" width="4" height="5"/>
<rect x="1084.5" y="1969" width="4" height="5"/>
<rect x="1144.6" y="1969" width="4" height="5"/>
</g>
<g style="font-family:'Liberation Sans',Arial,sans-serif;font-weight:bold" font-size="31" text-anchor="end" transform="translate(252.5 0) scale(0.968 1)">
<text x="0" y="1156.2" textLength="76" lengthAdjust="spacingAndGlyphs">Type1</text>
<text x="0" y="1196.1" textLength="76" lengthAdjust="spacingAndGlyphs">Type2</text>
<text x="0" y="1235.9">Ionocytes</text>
<text x="0" y="1275.7">Goblet 1</text>
<text x="0" y="1315.6">Goblet 2</text>
<text x="0" y="1355.4">Club</text>
<text x="0" y="1395.3">Ciliated 2</text>
<text x="0" y="1435.1">Ciliated 1</text>
<text x="0" y="1474.9">Basal 2</text>
<text x="0" y="1514.8">Basal 1</text>
<text x="0" y="1554.6">T and NK</text>
<text x="0" y="1594.5">Smooth muscle</text>
<text x="0" y="1634.3">Neutrophils</text>
<text x="0" y="1674.1">Myofibroblasts</text>
<text x="0" y="1714.0">Mast cells</text>
<text x="0" y="1753.8">Lymphatic</text>
<text x="0" y="1793.7">Macrophages</text>
<text x="0" y="1833.5">Fibroblast</text>
<text x="0" y="1873.3">Endothelial</text>
<text x="0" y="1913.2">Dendritic cells</text>
<text x="0" y="1953.0">B cells</text>
</g>
<g style="font-family:'Liberation Sans',Arial,sans-serif;font-weight:bold" font-size="29.5" text-anchor="end">
<text transform="translate(303.2 2001) rotate(-30)" textLength="86" lengthAdjust="spacingAndGlyphs">Type1</text>
<text transform="translate(363.3 2001) rotate(-30)" textLength="86" lengthAdjust="spacingAndGlyphs">Type2</text>
<text transform="translate(423.4 2001) rotate(-30)">Club</text>
<text transform="translate(483.4 2001) rotate(-30)">Ciliated</text>
<text transform="translate(543.5 2001) rotate(-30)">Transformed epithelium</text>
<text transform="translate(603.5 2001) rotate(-30)">T cell</text>
<text transform="translate(663.6 2001) rotate(-30)">NK cell</text>
<text transform="translate(723.6 2001) rotate(-30)">Neutrophils</text>
<text transform="translate(783.7 2001) rotate(-30)">Mast cell</text>
<text transform="translate(843.8 2001) rotate(-30)">Lymphatic</text>
<text transform="translate(903.8 2001) rotate(-30)">Macrophages</text>
<text transform="translate(963.9 2001) rotate(-30)">Fibroblast</text>
<text transform="translate(1024.0 2001) rotate(-30)">Endothelium</text>
<text transform="translate(1084.0 2001) rotate(-30)">Dendritic cells</text>
<text transform="translate(1144.1 2001) rotate(-30)">B cells</text>
</g>
<text x="636.6" y="2142" style="font-family:'Liberation Sans',Arial,sans-serif;font-weight:bold" font-size="30">Dropseq cell types</text>
<text transform="translate(55.8 1449.5) rotate(-90)" text-anchor="middle" style="font-family:'Liberation Sans',Arial,sans-serif;font-weight:bold" font-size="30">10x cell types</text>
<text x="41.6" y="979.4" style="font-family:'Liberation Sans',Arial,sans-serif" font-size="20" textLength="127.3" lengthAdjust="spacingAndGlyphs">matchSCore</text>
<g shape-rendering="crispEdges">
<rect x="40.7" y="1018.40" width="23.6" height="3.29" fill="rgb(242,0,0)"/>
<rect x="40.7" y="1021.29" width="23.6" height="3.29" fill="rgb(242,0,0)"/>
<rect x="40.7" y="1024.18" width="23.6" height="3.29" fill="rgb(244,26,10)"/>
<rect x="40.7" y="1027.07" width="23.6" height="3.29" fill="rgb(246,40,19)"/>
<rect x="40.7" y="1029.96" width="23.6" height="3.29" fill="rgb(247,51,26)"/>
<rect x="40.7" y="1032.85" width="23.6" height="3.29" fill="rgb(249,61,33)"/>
<rect x="40.7" y="1035.74" width="23.6" height="3.29" fill="rgb(251,69,40)"/>
<rect x="40.7" y="1038.63" width="23.6" height="3.29" fill="rgb(252,76,46)"/>
<rect x="40.7" y="1041.52" width="23.6" height="3.29" fill="rgb(254,84,53)"/>
<rect x="40.7" y="1044.41" width="23.6" height="3.29" fill="rgb(255,90,59)"/>
<rect x="40.7" y="1047.30" width="23.6" height="3.29" fill="rgb(255,97,65)"/>
<rect x="40.7" y="1050.19" width="23.6" height="3.29" fill="rgb(255,103,71)"/>
<rect x="40.7" y="1053.08" width="23.6" height="3.29" fill="rgb(255,109,77)"/>
<rect x="40.7" y="1055.97" width="23.6" height="3.29" fill="rgb(255,115,83)"/>
<rect x="40.7" y="1058.86" width="23.6" height="3.29" fill="rgb(255,121,89)"/>
<rect x="40.7" y="1061.75" width="23.6" height="3.29" fill="rgb(255,127,95)"/>
<rect x="40.7" y="1064.64" width="23.6" height="3.29" fill="rgb(255,132,102)"/>
<rect x="40.7" y="1067.53" width="23.6" height="3.29" fill="rgb(255,138,108)"/>
<rect x="40.7" y="1070.42" width="23.6" height="3.29" fill="rgb(255,143,114)"/>
<rect x="40.7" y="1073.31" width="23.6" height="3.29" fill="rgb(255,149,120)"/>
<rect x="40.7" y="1076.20" width="23.6" height="3.29" fill="rgb(255,154,126)"/>
<rect x="40.7" y="1079.09" width="23.6" height="3.29" fill="rgb(255,160,133)"/>
<rect x="40.7" y="1081.98" width="23.6" height="3.29" fill="rgb(255,165,139)"/>
<rect x="40.7" y="1084.87" width="23.6" height="3.29" fill="rgb(255,170,145)"/>
<rect x="40.7" y="1087.76" width="23.6" height="3.29" fill="rgb(255,175,152)"/>
<rect x="40.7" y="1090.65" width="23.6" height="3.29" fill="rgb(255,181,158)"/>
<rect x="40.7" y="1093.54" width="23.6" height="3.29" fill="rgb(255,186,165)"/>
<rect x="40.7" y="1096.43" width="23.6" height="3.29" fill="rgb(255,191,171)"/>
<rect x="40.7" y="1099.32" width="23.6" height="3.29" fill="rgb(255,196,178)"/>
<rect x="40.7" y="1102.21" width="23.6" height="3.29" fill="rgb(255,201,184)"/>
<rect x="40.7" y="1105.10" width="23.6" height="3.29" fill="rgb(255,206,191)"/>
<rect x="40.7" y="1107.99" width="23.6" height="3.29" fill="rgb(255,212,197)"/>
<rect x="40.7" y="1110.88" width="23.6" height="3.29" fill="rgb(255,217,204)"/>
<rect x="40.7" y="1113.77" width="23.6" height="3.29" fill="rgb(255,222,211)"/>
<rect x="40.7" y="1116.66" width="23.6" height="3.29" fill="rgb(255,227,217)"/>
<rect x="40.7" y="1119.55" width="23.6" height="3.29" fill="rgb(255,232,224)"/>
<rect x="40.7" y="1122.44" width="23.6" height="3.29" fill="rgb(255,237,231)"/>
<rect x="40.7" y="1125.33" width="23.6" height="3.29" fill="rgb(255,242,238)"/>
<rect x="40.7" y="1128.22" width="23.6" height="3.29" fill="rgb(255,247,245)"/>
<rect x="40.7" y="1131.11" width="23.6" height="3.29" fill="rgb(255,252,252)"/>
</g>
<rect x="40.7" y="1046.1000000000001" width="4" height="1.2" fill="#fff"/><rect x="60.3" y="1046.1000000000001" width="4" height="1.2" fill="#fff"/>
<text x="76.2" y="1053.3" style="font-family:'Liberation Sans',Arial,sans-serif" font-size="18.5">0.3</text>
<rect x="40.7" y="1076.1000000000001" width="4" height="1.2" fill="#fff"/><rect x="60.3" y="1076.1000000000001" width="4" height="1.2" fill="#fff"/>
<text x="76.2" y="1083.3" style="font-family:'Liberation Sans',Arial,sans-serif" font-size="18.5">0.2</text>
<rect x="40.7" y="1105.0" width="4" height="1.2" fill="#fff"/><rect x="60.3" y="1105.0" width="4" height="1.2" fill="#fff"/>
<text x="76.2" y="1112.2" style="font-family:'Liberation Sans',Arial,sans-serif" font-size="18.5">0.1</text>
<rect x="40.7" y="1134.6000000000001" width="4" height="1.2" fill="#fff"/><rect x="60.3" y="1134.6000000000001" width="4" height="1.2" fill="#fff"/>
<text x="76.2" y="1141.8" style="font-family:'Liberation Sans',Arial,sans-serif" font-size="18.5">0.0</text>
</svg></body></html>
